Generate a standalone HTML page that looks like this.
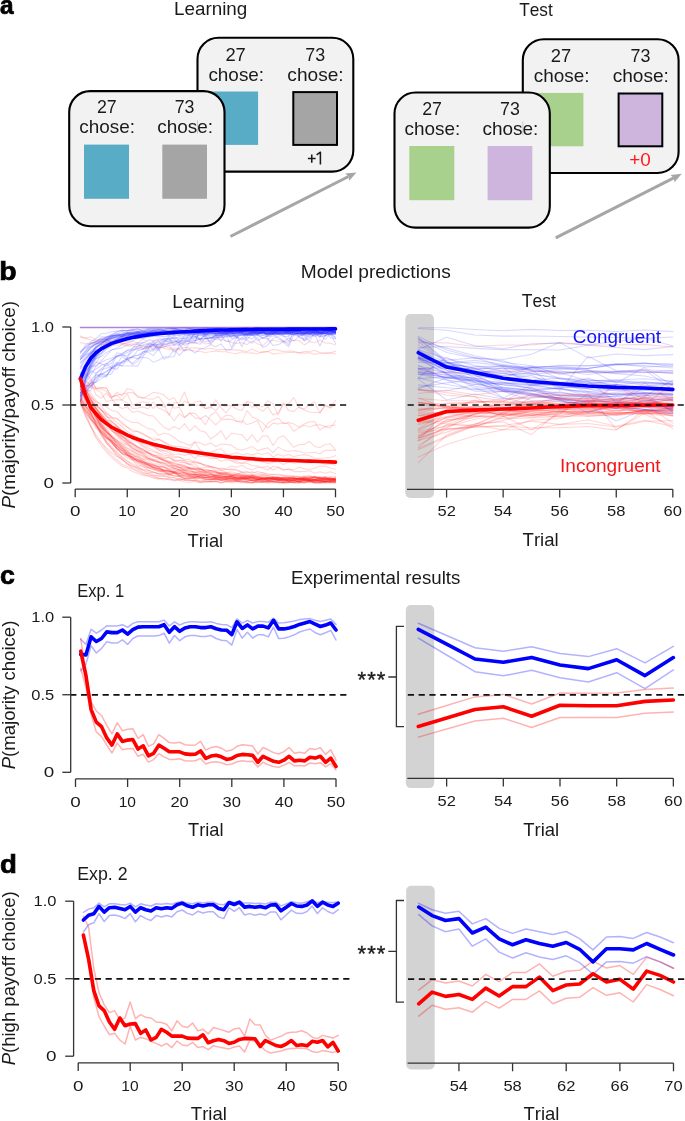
<!DOCTYPE html>
<html><head><meta charset="utf-8"><style>
html,body{margin:0;padding:0;background:#fff;}
body{width:685px;height:1121px;overflow:hidden;}
svg{display:block;font-family:"Liberation Sans",sans-serif;font-kerning:none;will-change:transform;}
text{font-kerning:none;}
</style></head><body>
<svg width="685" height="1121" viewBox="0 0 685 1121">
<text x="0.09" y="14.10" font-size="25.2" font-weight="bold" fill="#000" textLength="13.56" lengthAdjust="spacingAndGlyphs" stroke="#000" stroke-width="0.7">a</text>
<text x="174.06" y="15.30" font-size="18.5" font-weight="normal" fill="#1a1a1a" textLength="73.26" lengthAdjust="spacingAndGlyphs">Learning</text>
<text x="519.21" y="15.50" font-size="18.5" font-weight="normal" fill="#1a1a1a" textLength="33.51" lengthAdjust="spacingAndGlyphs">Test</text>
<rect x="197.5" y="37.8" width="155.8" height="133.8" rx="21" ry="21" fill="#f2f2f2" stroke="#000" stroke-width="2.1"/>
<text x="225.38" y="60.80" font-size="18.5" font-weight="normal" fill="#1a1a1a" textLength="20.45" lengthAdjust="spacingAndGlyphs">27</text>
<text x="305.28" y="60.80" font-size="18.5" font-weight="normal" fill="#1a1a1a" textLength="19.90" lengthAdjust="spacingAndGlyphs">73</text>
<text x="208.40" y="80.50" font-size="18.5" font-weight="normal" fill="#1a1a1a" textLength="55.73" lengthAdjust="spacingAndGlyphs">chose:</text>
<text x="287.39" y="80.50" font-size="18.5" font-weight="normal" fill="#1a1a1a" textLength="56.25" lengthAdjust="spacingAndGlyphs">chose:</text>
<rect x="212.5" y="91.5" width="45.60000000000002" height="53.400000000000006" fill="#58acc5"/>
<rect x="293.3" y="92.1" width="43.69999999999999" height="52.80000000000001" fill="#a5a5a5" stroke="#000" stroke-width="2"/>
<path d="M307.9,158.5 H315.6 M311.75,154.4 V162.7 M316.6,154.8 L320.4,152.2 V164.6" fill="none" stroke="#1a1a1a" stroke-width="1.55" stroke-linejoin="round"/>
<rect x="69.2" y="91.1" width="155.3" height="135.1" rx="21" ry="21" fill="#f2f2f2" stroke="#000" stroke-width="2.1"/>
<text x="96.91" y="113.20" font-size="18.5" font-weight="normal" fill="#1a1a1a" textLength="19.79" lengthAdjust="spacingAndGlyphs">27</text>
<text x="174.69" y="113.20" font-size="18.5" font-weight="normal" fill="#1a1a1a" textLength="19.79" lengthAdjust="spacingAndGlyphs">73</text>
<text x="79.30" y="133.40" font-size="18.5" font-weight="normal" fill="#1a1a1a" textLength="55.73" lengthAdjust="spacingAndGlyphs">chose:</text>
<text x="157.19" y="133.40" font-size="18.5" font-weight="normal" fill="#1a1a1a" textLength="55.84" lengthAdjust="spacingAndGlyphs">chose:</text>
<rect x="84" y="144.6" width="45" height="54.20000000000002" fill="#58acc5"/>
<rect x="162.3" y="144.6" width="44.69999999999999" height="54.20000000000002" fill="#a5a5a5"/>
<line x1="197.5" y1="120.3" x2="197.5" y2="133.8" stroke="#c4c4c4" stroke-width="0.9"/>
<line x1="230.4" y1="236.5" x2="348.50" y2="176.50" stroke="#a6a6a6" stroke-width="3"/>
<path d="M356.5,172.4 L345.2,173.5 L348.6,176.6 L349.2,180.8 Z" fill="#a6a6a6"/>
<rect x="522.8" y="39.199999999999996" width="155.8" height="133.8" rx="21" ry="21" fill="#f2f2f2" stroke="#000" stroke-width="2.1"/>
<text x="550.68" y="62.20" font-size="18.5" font-weight="normal" fill="#1a1a1a" textLength="20.45" lengthAdjust="spacingAndGlyphs">27</text>
<text x="630.58" y="62.20" font-size="18.5" font-weight="normal" fill="#1a1a1a" textLength="19.90" lengthAdjust="spacingAndGlyphs">73</text>
<text x="533.70" y="81.90" font-size="18.5" font-weight="normal" fill="#1a1a1a" textLength="55.73" lengthAdjust="spacingAndGlyphs">chose:</text>
<text x="612.69" y="81.90" font-size="18.5" font-weight="normal" fill="#1a1a1a" textLength="56.25" lengthAdjust="spacingAndGlyphs">chose:</text>
<rect x="537.8" y="92.9" width="45.60000000000002" height="53.400000000000006" fill="#a9d18e"/>
<rect x="618.6" y="93.5" width="43.69999999999999" height="52.80000000000001" fill="#cdb5dd" stroke="#000" stroke-width="2"/>
<text x="629.28" y="166.10" font-size="18.6" font-weight="normal" fill="#ff1a1a" textLength="21.56" lengthAdjust="spacingAndGlyphs">+0</text>
<rect x="394.5" y="92.5" width="155.3" height="135.1" rx="21" ry="21" fill="#f2f2f2" stroke="#000" stroke-width="2.1"/>
<text x="422.21" y="114.60" font-size="18.5" font-weight="normal" fill="#1a1a1a" textLength="19.79" lengthAdjust="spacingAndGlyphs">27</text>
<text x="499.99" y="114.60" font-size="18.5" font-weight="normal" fill="#1a1a1a" textLength="19.79" lengthAdjust="spacingAndGlyphs">73</text>
<text x="404.60" y="134.80" font-size="18.5" font-weight="normal" fill="#1a1a1a" textLength="55.73" lengthAdjust="spacingAndGlyphs">chose:</text>
<text x="482.49" y="134.80" font-size="18.5" font-weight="normal" fill="#1a1a1a" textLength="55.84" lengthAdjust="spacingAndGlyphs">chose:</text>
<rect x="409.3" y="146.0" width="45" height="54.20000000000002" fill="#a9d18e"/>
<rect x="487.6" y="146.0" width="44.69999999999999" height="54.20000000000002" fill="#cdb5dd"/>
<line x1="522.8" y1="121.7" x2="522.8" y2="135.20000000000002" stroke="#c4c4c4" stroke-width="0.9"/>
<line x1="555.7" y1="237.9" x2="673.80" y2="177.90" stroke="#a6a6a6" stroke-width="3"/>
<path d="M681.8,173.8 L670.5,174.9 L673.9000000000001,178.0 L674.5,182.20000000000002 Z" fill="#a6a6a6"/>
<text x="-0.67" y="279.80" font-size="25.5" font-weight="bold" fill="#000" textLength="17.33" lengthAdjust="spacingAndGlyphs" stroke="#000" stroke-width="0.7">b</text>
<text x="300.83" y="278.40" font-size="18.5" font-weight="normal" fill="#1a1a1a" textLength="149.96" lengthAdjust="spacingAndGlyphs">Model predictions</text>
<text x="172.38" y="307.90" font-size="18.5" font-weight="normal" fill="#1a1a1a" textLength="72.32" lengthAdjust="spacingAndGlyphs">Learning</text>
<text x="521.81" y="307.00" font-size="18.5" font-weight="normal" fill="#1a1a1a" textLength="34.12" lengthAdjust="spacingAndGlyphs">Test</text>
<rect x="405.3" y="314.0" width="28.69999999999999" height="184.0" rx="5" fill="#d3d3d3"/>
<path d="M80.41,356.34 L85.61,350.82 L90.82,343.11 L96.02,342.34 L101.23,338.63 L106.44,337.08 L111.64,336.11 L116.85,335.33 L122.05,334.09 L127.26,335.68 L132.47,335.21 L137.67,335.14 L142.88,334.35 L148.08,334.30 L153.29,333.47 L158.50,333.51 L163.70,333.66 L168.91,334.19 L174.11,333.99 L179.32,332.89 L184.53,333.03 L189.73,333.54 L194.94,333.87 L200.14,332.40 L205.35,334.08 L210.56,333.11 L215.76,332.71 L220.97,333.82 L226.17,332.97 L231.38,334.48 L236.59,332.82 L241.79,333.45 L247.00,334.85 L252.20,333.09 L257.41,334.30 L262.62,332.61 L267.82,334.14 L273.03,333.74 L278.23,333.39 L283.44,333.87 L288.65,333.41 L293.85,334.04 L299.06,333.08 L304.26,333.60 L309.47,333.44 L314.68,335.76 L319.88,332.70 L325.09,333.58 L330.29,335.00 L335.50,333.53" fill="none" stroke="rgba(30,30,255,0.17)" stroke-width="1.1" stroke-linejoin="round" stroke-linecap="round"/>
<path d="M80.41,394.93 L85.61,383.50 L90.82,375.13 L96.02,366.41 L101.23,360.95 L106.44,355.28 L111.64,350.09 L116.85,348.10 L122.05,344.80 L127.26,342.60 L132.47,340.64 L137.67,338.47 L142.88,338.56 L148.08,336.02 L153.29,336.41 L158.50,335.06 L163.70,333.32 L168.91,334.71 L174.11,331.98 L179.32,331.23 L184.53,331.49 L189.73,331.57 L194.94,331.81 L200.14,331.86 L205.35,329.91 L210.56,332.23 L215.76,331.38 L220.97,330.88 L226.17,331.62 L231.38,332.12 L236.59,330.91 L241.79,331.07 L247.00,332.38 L252.20,331.49 L257.41,331.60 L262.62,331.22 L267.82,330.60 L273.03,330.35 L278.23,331.94 L283.44,330.99 L288.65,331.44 L293.85,332.21 L299.06,330.45 L304.26,331.31 L309.47,331.14 L314.68,332.52 L319.88,330.56 L325.09,330.90 L330.29,330.43 L335.50,331.33" fill="none" stroke="rgba(30,30,255,0.17)" stroke-width="1.1" stroke-linejoin="round" stroke-linecap="round"/>
<path d="M80.41,380.04 L85.61,388.28 L90.82,382.45 L96.02,394.82 L101.23,398.20 L106.44,393.17 L111.64,398.83 L116.85,405.42 L122.05,408.58 L127.26,406.90 L132.47,412.49 L137.67,411.07 L142.88,413.12 L148.08,415.35 L153.29,415.97 L158.50,421.88 L163.70,426.91 L168.91,429.74 L174.11,426.45 L179.32,429.28 L184.53,423.59 L189.73,431.05 L194.94,425.69 L200.14,430.78 L205.35,432.12 L210.56,439.02 L215.76,435.48 L220.97,430.78 L226.17,439.39 L231.38,433.27 L236.59,434.07 L241.79,434.45 L247.00,440.90 L252.20,434.71 L257.41,442.24 L262.62,435.81 L267.82,436.17 L273.03,445.54 L278.23,437.80 L283.44,435.65 L288.65,441.34 L293.85,447.28 L299.06,444.61 L304.26,444.57 L309.47,441.31 L314.68,446.43 L319.88,447.54 L325.09,444.45 L330.29,443.68 L335.50,450.15" fill="none" stroke="rgba(255,20,20,0.17)" stroke-width="1.1" stroke-linejoin="round" stroke-linecap="round"/>
<path d="M80.41,369.18 L85.61,364.92 L90.82,361.34 L96.02,358.55 L101.23,356.59 L106.44,352.42 L111.64,349.78 L116.85,349.05 L122.05,347.85 L127.26,344.98 L132.47,345.06 L137.67,342.89 L142.88,343.12 L148.08,339.89 L153.29,340.91 L158.50,338.98 L163.70,338.97 L168.91,338.22 L174.11,338.21 L179.32,336.84 L184.53,337.17 L189.73,335.18 L194.94,336.22 L200.14,335.27 L205.35,334.36 L210.56,334.08 L215.76,333.73 L220.97,333.40 L226.17,333.72 L231.38,333.31 L236.59,333.00 L241.79,334.55 L247.00,333.45 L252.20,333.30 L257.41,333.33 L262.62,332.70 L267.82,333.84 L273.03,334.10 L278.23,333.41 L283.44,332.51 L288.65,333.51 L293.85,334.56 L299.06,331.82 L304.26,331.76 L309.47,332.21 L314.68,332.82 L319.88,332.81 L325.09,333.56 L330.29,333.38 L335.50,331.97" fill="none" stroke="rgba(30,30,255,0.17)" stroke-width="1.1" stroke-linejoin="round" stroke-linecap="round"/>
<path d="M80.41,378.44 L85.61,396.74 L90.82,412.78 L96.02,424.22 L101.23,435.43 L106.44,442.97 L111.64,449.28 L116.85,455.88 L122.05,459.59 L127.26,463.35 L132.47,468.50 L137.67,470.57 L142.88,473.39 L148.08,473.91 L153.29,477.34 L158.50,477.83 L163.70,479.93 L168.91,478.27 L174.11,480.22 L179.32,478.76 L184.53,479.66 L189.73,480.30 L194.94,481.78 L200.14,482.77 L205.35,482.50 L210.56,481.65 L215.76,481.90 L220.97,482.10 L226.17,482.01 L231.38,480.78 L236.59,481.07 L241.79,483.00 L247.00,481.63 L252.20,483.00 L257.41,482.10 L262.62,482.15 L267.82,481.51 L273.03,481.65 L278.23,483.00 L283.44,482.51 L288.65,482.03 L293.85,482.61 L299.06,480.99 L304.26,483.00 L309.47,481.95 L314.68,482.28 L319.88,482.89 L325.09,482.56 L330.29,482.70 L335.50,482.19" fill="none" stroke="rgba(255,20,20,0.17)" stroke-width="1.1" stroke-linejoin="round" stroke-linecap="round"/>
<path d="M80.41,395.21 L85.61,403.41 L90.82,405.37 L96.02,412.52 L101.23,417.74 L106.44,420.17 L111.64,426.14 L116.85,426.60 L122.05,431.76 L127.26,435.12 L132.47,437.40 L137.67,441.14 L142.88,443.57 L148.08,445.95 L153.29,446.59 L158.50,449.98 L163.70,453.16 L168.91,454.46 L174.11,458.05 L179.32,456.83 L184.53,460.73 L189.73,461.54 L194.94,462.55 L200.14,463.36 L205.35,465.63 L210.56,466.63 L215.76,467.68 L220.97,470.36 L226.17,469.46 L231.38,469.12 L236.59,469.53 L241.79,471.92 L247.00,472.86 L252.20,471.67 L257.41,473.51 L262.62,472.47 L267.82,474.96 L273.03,474.30 L278.23,475.23 L283.44,475.39 L288.65,475.21 L293.85,476.20 L299.06,476.76 L304.26,477.09 L309.47,475.81 L314.68,476.99 L319.88,477.87 L325.09,479.39 L330.29,477.76 L335.50,479.07" fill="none" stroke="rgba(255,20,20,0.17)" stroke-width="1.1" stroke-linejoin="round" stroke-linecap="round"/>
<path d="M80.41,389.42 L85.61,396.79 L90.82,404.40 L96.02,412.10 L101.23,415.25 L106.44,424.13 L111.64,427.14 L116.85,432.39 L122.05,435.20 L127.26,440.54 L132.47,443.66 L137.67,446.38 L142.88,449.51 L148.08,453.16 L153.29,454.54 L158.50,457.11 L163.70,458.65 L168.91,461.99 L174.11,463.32 L179.32,465.26 L184.53,467.16 L189.73,467.50 L194.94,468.61 L200.14,468.80 L205.35,471.48 L210.56,471.78 L215.76,471.95 L220.97,473.93 L226.17,474.50 L231.38,475.11 L236.59,476.50 L241.79,477.35 L247.00,475.91 L252.20,477.27 L257.41,477.93 L262.62,479.43 L267.82,478.52 L273.03,477.88 L278.23,480.35 L283.44,480.39 L288.65,478.79 L293.85,478.72 L299.06,478.83 L304.26,480.99 L309.47,480.10 L314.68,481.53 L319.88,480.49 L325.09,481.46 L330.29,481.07 L335.50,480.12" fill="none" stroke="rgba(255,20,20,0.17)" stroke-width="1.1" stroke-linejoin="round" stroke-linecap="round"/>
<path d="M80.41,378.48 L85.61,373.72 L90.82,378.94 L96.02,387.98 L101.23,387.88 L106.44,388.31 L111.64,396.58 L116.85,395.22 L122.05,400.21 L127.26,393.85 L132.47,405.21 L137.67,403.32 L142.88,401.72 L148.08,402.77 L153.29,408.37 L158.50,404.18 L163.70,407.33 L168.91,402.98 L174.11,408.18 L179.32,407.29 L184.53,417.36 L189.73,413.14 L194.94,413.42 L200.14,418.37 L205.35,424.72 L210.56,415.23 L215.76,411.89 L220.97,418.92 L226.17,415.27 L231.38,415.81 L236.59,421.09 L241.79,422.93 L247.00,410.66 L252.20,416.74 L257.41,419.18 L262.62,422.88 L267.82,428.16 L273.03,423.11 L278.23,424.03 L283.44,422.66 L288.65,424.05 L293.85,431.33 L299.06,427.88 L304.26,425.28 L309.47,426.99 L314.68,425.13 L319.88,424.81 L325.09,426.47 L330.29,428.29 L335.50,420.78" fill="none" stroke="rgba(255,20,20,0.17)" stroke-width="1.1" stroke-linejoin="round" stroke-linecap="round"/>
<path d="M80.41,374.76 L85.61,363.08 L90.82,353.75 L96.02,348.61 L101.23,344.38 L106.44,339.22 L111.64,335.65 L116.85,334.94 L122.05,334.29 L127.26,333.37 L132.47,331.58 L137.67,331.21 L142.88,332.54 L148.08,332.62 L153.29,330.29 L158.50,331.87 L163.70,331.00 L168.91,330.53 L174.11,332.01 L179.32,331.78 L184.53,332.44 L189.73,330.47 L194.94,331.44 L200.14,330.68 L205.35,332.33 L210.56,330.79 L215.76,331.96 L220.97,331.47 L226.17,332.30 L231.38,331.49 L236.59,330.80 L241.79,331.53 L247.00,331.52 L252.20,330.93 L257.41,331.53 L262.62,330.93 L267.82,331.24 L273.03,330.65 L278.23,331.61 L283.44,331.18 L288.65,331.15 L293.85,330.14 L299.06,330.99 L304.26,332.10 L309.47,332.20 L314.68,331.32 L319.88,331.59 L325.09,331.92 L330.29,331.70 L335.50,330.70" fill="none" stroke="rgba(30,30,255,0.17)" stroke-width="1.1" stroke-linejoin="round" stroke-linecap="round"/>
<path d="M80.41,387.32 L85.61,372.87 L90.82,363.13 L96.02,356.10 L101.23,350.00 L106.44,346.13 L111.64,342.71 L116.85,340.56 L122.05,338.36 L127.26,336.44 L132.47,335.67 L137.67,335.17 L142.88,335.14 L148.08,334.17 L153.29,332.96 L158.50,332.83 L163.70,333.95 L168.91,335.18 L174.11,332.09 L179.32,331.83 L184.53,332.80 L189.73,333.31 L194.94,332.75 L200.14,332.66 L205.35,332.68 L210.56,332.92 L215.76,333.56 L220.97,334.07 L226.17,333.64 L231.38,333.77 L236.59,332.38 L241.79,332.83 L247.00,332.98 L252.20,332.76 L257.41,331.95 L262.62,333.69 L267.82,332.78 L273.03,333.82 L278.23,333.52 L283.44,333.51 L288.65,331.76 L293.85,333.26 L299.06,333.63 L304.26,333.93 L309.47,333.51 L314.68,332.19 L319.88,333.97 L325.09,333.59 L330.29,330.96 L335.50,332.48" fill="none" stroke="rgba(30,30,255,0.17)" stroke-width="1.1" stroke-linejoin="round" stroke-linecap="round"/>
<path d="M80.41,400.30 L85.61,409.14 L90.82,419.08 L96.02,423.51 L101.23,431.88 L106.44,438.08 L111.64,440.76 L116.85,446.08 L122.05,448.89 L127.26,453.59 L132.47,454.35 L137.67,458.38 L142.88,461.31 L148.08,463.48 L153.29,465.67 L158.50,466.41 L163.70,466.80 L168.91,470.36 L174.11,472.14 L179.32,471.62 L184.53,472.10 L189.73,475.29 L194.94,475.27 L200.14,476.19 L205.35,475.31 L210.56,475.87 L215.76,477.46 L220.97,478.22 L226.17,476.90 L231.38,479.74 L236.59,477.52 L241.79,478.50 L247.00,476.80 L252.20,477.85 L257.41,479.47 L262.62,479.34 L267.82,479.47 L273.03,480.01 L278.23,479.37 L283.44,478.64 L288.65,481.01 L293.85,479.90 L299.06,478.38 L304.26,479.13 L309.47,480.61 L314.68,480.65 L319.88,480.74 L325.09,481.46 L330.29,478.95 L335.50,479.98" fill="none" stroke="rgba(255,20,20,0.17)" stroke-width="1.1" stroke-linejoin="round" stroke-linecap="round"/>
<path d="M80.41,386.28 L85.61,390.55 L90.82,396.97 L96.02,401.51 L101.23,403.64 L106.44,406.85 L111.64,410.56 L116.85,411.49 L122.05,416.74 L127.26,420.36 L132.47,422.44 L137.67,422.58 L142.88,425.81 L148.08,428.61 L153.29,429.29 L158.50,435.47 L163.70,433.22 L168.91,434.30 L174.11,437.56 L179.32,441.38 L184.53,443.29 L189.73,445.50 L194.94,442.01 L200.14,442.91 L205.35,445.18 L210.56,442.90 L215.76,446.44 L220.97,443.96 L226.17,444.35 L231.38,445.31 L236.59,448.97 L241.79,450.02 L247.00,448.43 L252.20,446.60 L257.41,450.44 L262.62,449.12 L267.82,447.85 L273.03,452.62 L278.23,447.12 L283.44,450.11 L288.65,451.48 L293.85,450.58 L299.06,451.23 L304.26,452.93 L309.47,452.79 L314.68,452.21 L319.88,453.75 L325.09,450.31 L330.29,450.37 L335.50,450.31" fill="none" stroke="rgba(255,20,20,0.17)" stroke-width="1.1" stroke-linejoin="round" stroke-linecap="round"/>
<path d="M80.41,335.90 L85.61,338.15 L90.82,336.89 L96.02,339.71 L101.23,339.29 L106.44,339.93 L111.64,342.21 L116.85,343.17 L122.05,343.06 L127.26,344.61 L132.47,343.70 L137.67,344.81 L142.88,346.04 L148.08,346.46 L153.29,345.80 L158.50,347.90 L163.70,345.84 L168.91,348.11 L174.11,347.98 L179.32,348.85 L184.53,347.15 L189.73,348.03 L194.94,347.90 L200.14,348.63 L205.35,349.28 L210.56,348.22 L215.76,349.20 L220.97,349.54 L226.17,349.59 L231.38,349.61 L236.59,350.10 L241.79,350.57 L247.00,351.79 L252.20,349.06 L257.41,351.77 L262.62,352.52 L267.82,351.49 L273.03,349.51 L278.23,350.14 L283.44,351.62 L288.65,351.01 L293.85,351.29 L299.06,352.87 L304.26,351.64 L309.47,351.20 L314.68,350.56 L319.88,352.44 L325.09,353.30 L330.29,352.80 L335.50,351.35" fill="none" stroke="rgba(255,20,20,0.17)" stroke-width="1.1" stroke-linejoin="round" stroke-linecap="round"/>
<path d="M80.41,342.60 L85.61,343.58 L90.82,344.37 L96.02,342.82 L101.23,344.18 L106.44,338.83 L111.64,343.57 L116.85,340.66 L122.05,343.53 L127.26,343.21 L132.47,341.21 L137.67,343.00 L142.88,339.25 L148.08,341.88 L153.29,345.25 L158.50,340.53 L163.70,346.91 L168.91,343.12 L174.11,343.86 L179.32,342.54 L184.53,343.82 L189.73,343.30 L194.94,343.19 L200.14,341.47 L205.35,344.01 L210.56,343.15 L215.76,339.11 L220.97,339.48 L226.17,340.81 L231.38,342.56 L236.59,343.49 L241.79,342.46 L247.00,344.63 L252.20,340.87 L257.41,343.74 L262.62,345.86 L267.82,341.00 L273.03,340.29 L278.23,341.19 L283.44,341.60 L288.65,341.84 L293.85,340.21 L299.06,340.53 L304.26,344.95 L309.47,341.70 L314.68,342.70 L319.88,340.08 L325.09,343.02 L330.29,343.17 L335.50,345.09" fill="none" stroke="rgba(255,20,20,0.17)" stroke-width="1.1" stroke-linejoin="round" stroke-linecap="round"/>
<path d="M80.41,389.40 L85.61,397.79 L90.82,401.89 L96.02,405.01 L101.23,410.12 L106.44,417.07 L111.64,417.97 L116.85,418.30 L122.05,422.33 L127.26,427.12 L132.47,431.85 L137.67,431.21 L142.88,433.52 L148.08,436.94 L153.29,439.06 L158.50,439.02 L163.70,441.64 L168.91,444.15 L174.11,446.41 L179.32,446.55 L184.53,447.30 L189.73,448.55 L194.94,441.98 L200.14,449.95 L205.35,452.81 L210.56,452.38 L215.76,450.35 L220.97,448.65 L226.17,454.35 L231.38,454.19 L236.59,452.67 L241.79,454.76 L247.00,453.43 L252.20,454.86 L257.41,453.07 L262.62,454.48 L267.82,452.53 L273.03,457.01 L278.23,454.29 L283.44,456.21 L288.65,454.39 L293.85,456.79 L299.06,455.20 L304.26,454.62 L309.47,455.80 L314.68,458.20 L319.88,458.19 L325.09,458.01 L330.29,457.59 L335.50,455.69" fill="none" stroke="rgba(255,20,20,0.17)" stroke-width="1.1" stroke-linejoin="round" stroke-linecap="round"/>
<path d="M80.41,379.68 L85.61,387.23 L90.82,395.80 L96.02,402.81 L101.23,409.31 L106.44,415.82 L111.64,422.58 L116.85,425.54 L122.05,431.43 L127.26,435.41 L132.47,439.39 L137.67,442.20 L142.88,446.36 L148.08,450.27 L153.29,451.77 L158.50,453.44 L163.70,457.16 L168.91,457.64 L174.11,460.97 L179.32,462.33 L184.53,462.62 L189.73,464.77 L194.94,463.73 L200.14,469.17 L205.35,469.51 L210.56,469.96 L215.76,471.94 L220.97,473.36 L226.17,473.00 L231.38,474.33 L236.59,475.10 L241.79,475.95 L247.00,475.75 L252.20,476.67 L257.41,477.19 L262.62,478.19 L267.82,478.49 L273.03,479.57 L278.23,478.42 L283.44,479.20 L288.65,479.87 L293.85,479.62 L299.06,479.42 L304.26,479.60 L309.47,480.45 L314.68,479.77 L319.88,479.82 L325.09,482.55 L330.29,481.95 L335.50,480.49" fill="none" stroke="rgba(255,20,20,0.17)" stroke-width="1.1" stroke-linejoin="round" stroke-linecap="round"/>
<path d="M80.41,403.52 L85.61,379.08 L90.82,363.10 L96.02,354.02 L101.23,345.88 L106.44,340.18 L111.64,336.94 L116.85,334.21 L122.05,335.19 L127.26,333.12 L132.47,332.42 L137.67,331.20 L142.88,330.52 L148.08,333.26 L153.29,330.17 L158.50,332.05 L163.70,330.33 L168.91,331.98 L174.11,330.65 L179.32,329.83 L184.53,330.87 L189.73,330.59 L194.94,330.12 L200.14,330.62 L205.35,330.80 L210.56,329.53 L215.76,329.91 L220.97,330.96 L226.17,328.58 L231.38,331.62 L236.59,330.01 L241.79,330.93 L247.00,330.62 L252.20,330.17 L257.41,330.55 L262.62,330.23 L267.82,331.92 L273.03,331.90 L278.23,330.24 L283.44,331.48 L288.65,331.53 L293.85,331.87 L299.06,329.74 L304.26,330.14 L309.47,329.58 L314.68,331.46 L319.88,330.72 L325.09,331.61 L330.29,330.13 L335.50,329.48" fill="none" stroke="rgba(30,30,255,0.17)" stroke-width="1.1" stroke-linejoin="round" stroke-linecap="round"/>
<path d="M80.41,399.55 L85.61,409.87 L90.82,417.61 L96.02,425.54 L101.23,432.55 L106.44,437.87 L111.64,441.65 L116.85,448.08 L122.05,453.64 L127.26,454.72 L132.47,460.00 L137.67,459.06 L142.88,463.44 L148.08,464.83 L153.29,466.90 L158.50,468.11 L163.70,469.39 L168.91,469.78 L174.11,472.96 L179.32,473.27 L184.53,474.13 L189.73,474.67 L194.94,474.52 L200.14,477.47 L205.35,478.14 L210.56,476.54 L215.76,476.56 L220.97,476.76 L226.17,476.66 L231.38,476.34 L236.59,478.93 L241.79,478.54 L247.00,478.18 L252.20,478.03 L257.41,478.25 L262.62,478.52 L267.82,479.85 L273.03,476.84 L278.23,479.10 L283.44,478.75 L288.65,480.13 L293.85,478.95 L299.06,479.65 L304.26,478.32 L309.47,478.53 L314.68,479.96 L319.88,479.38 L325.09,479.38 L330.29,479.20 L335.50,478.18" fill="none" stroke="rgba(255,20,20,0.17)" stroke-width="1.1" stroke-linejoin="round" stroke-linecap="round"/>
<path d="M80.41,392.22 L85.61,384.98 L90.82,386.21 L96.02,380.81 L101.23,372.13 L106.44,363.00 L111.64,368.58 L116.85,362.20 L122.05,362.92 L127.26,360.94 L132.47,357.01 L137.67,350.63 L142.88,349.30 L148.08,343.96 L153.29,349.74 L158.50,343.20 L163.70,340.20 L168.91,341.87 L174.11,340.05 L179.32,342.91 L184.53,345.23 L189.73,342.71 L194.94,342.40 L200.14,328.56 L205.35,336.54 L210.56,330.39 L215.76,333.85 L220.97,334.16 L226.17,332.30 L231.38,337.43 L236.59,332.13 L241.79,332.44 L247.00,339.73 L252.20,333.49 L257.41,331.65 L262.62,331.35 L267.82,328.56 L273.03,333.01 L278.23,331.18 L283.44,329.61 L288.65,335.49 L293.85,328.98 L299.06,337.29 L304.26,339.14 L309.47,332.52 L314.68,336.77 L319.88,334.20 L325.09,339.35 L330.29,334.17 L335.50,337.27" fill="none" stroke="rgba(30,30,255,0.17)" stroke-width="1.1" stroke-linejoin="round" stroke-linecap="round"/>
<path d="M80.41,358.94 L85.61,354.63 L90.82,353.00 L96.02,349.89 L101.23,348.90 L106.44,346.64 L111.64,345.16 L116.85,343.03 L122.05,340.96 L127.26,341.29 L132.47,338.51 L137.67,338.06 L142.88,337.88 L148.08,337.38 L153.29,335.87 L158.50,336.88 L163.70,336.38 L168.91,336.73 L174.11,335.18 L179.32,334.20 L184.53,334.57 L189.73,334.42 L194.94,334.70 L200.14,334.23 L205.35,335.31 L210.56,333.24 L215.76,334.26 L220.97,334.69 L226.17,334.32 L231.38,334.30 L236.59,332.91 L241.79,332.69 L247.00,334.52 L252.20,332.69 L257.41,332.67 L262.62,333.78 L267.82,334.46 L273.03,333.85 L278.23,333.74 L283.44,332.95 L288.65,333.48 L293.85,334.76 L299.06,332.98 L304.26,334.35 L309.47,332.43 L314.68,334.07 L319.88,333.66 L325.09,333.78 L330.29,333.53 L335.50,332.09" fill="none" stroke="rgba(30,30,255,0.17)" stroke-width="1.1" stroke-linejoin="round" stroke-linecap="round"/>
<path d="M80.41,393.89 L85.61,378.66 L90.82,367.63 L96.02,359.05 L101.23,353.18 L106.44,346.54 L111.64,343.28 L116.85,340.17 L122.05,336.84 L127.26,334.54 L132.47,334.64 L137.67,332.62 L142.88,332.77 L148.08,329.60 L153.29,331.26 L158.50,329.53 L163.70,330.65 L168.91,329.27 L174.11,327.98 L179.32,331.55 L184.53,329.79 L189.73,328.97 L194.94,329.37 L200.14,329.76 L205.35,327.78 L210.56,329.10 L215.76,330.42 L220.97,328.46 L226.17,330.45 L231.38,328.20 L236.59,329.54 L241.79,328.97 L247.00,328.09 L252.20,328.98 L257.41,330.15 L262.62,330.39 L267.82,328.14 L273.03,328.49 L278.23,329.70 L283.44,328.39 L288.65,328.67 L293.85,328.55 L299.06,330.82 L304.26,329.29 L309.47,328.36 L314.68,328.49 L319.88,328.37 L325.09,330.97 L330.29,328.93 L335.50,328.67" fill="none" stroke="rgba(30,30,255,0.17)" stroke-width="1.1" stroke-linejoin="round" stroke-linecap="round"/>
<path d="M80.41,401.61 L85.61,378.59 L90.82,363.43 L96.02,354.89 L101.23,348.01 L106.44,342.04 L111.64,338.37 L116.85,336.81 L122.05,334.57 L127.26,336.19 L132.47,333.05 L137.67,332.32 L142.88,334.22 L148.08,332.53 L153.29,332.56 L158.50,332.91 L163.70,334.03 L168.91,333.40 L174.11,332.18 L179.32,331.55 L184.53,332.32 L189.73,331.00 L194.94,332.95 L200.14,331.01 L205.35,333.94 L210.56,332.29 L215.76,331.92 L220.97,331.75 L226.17,331.51 L231.38,333.06 L236.59,333.98 L241.79,332.49 L247.00,333.40 L252.20,332.21 L257.41,333.15 L262.62,332.50 L267.82,332.36 L273.03,332.17 L278.23,332.84 L283.44,331.30 L288.65,332.83 L293.85,332.42 L299.06,331.90 L304.26,332.30 L309.47,331.18 L314.68,332.41 L319.88,332.65 L325.09,331.43 L330.29,331.88 L335.50,332.96" fill="none" stroke="rgba(30,30,255,0.17)" stroke-width="1.1" stroke-linejoin="round" stroke-linecap="round"/>
<path d="M80.41,357.34 L85.61,350.82 L90.82,346.55 L96.02,341.53 L101.23,339.86 L106.44,338.75 L111.64,335.14 L116.85,334.95 L122.05,331.38 L127.26,333.66 L132.47,332.78 L137.67,331.92 L142.88,332.50 L148.08,330.83 L153.29,330.05 L158.50,329.68 L163.70,330.51 L168.91,330.87 L174.11,329.67 L179.32,329.70 L184.53,330.79 L189.73,331.01 L194.94,331.21 L200.14,330.41 L205.35,330.60 L210.56,329.95 L215.76,329.71 L220.97,331.43 L226.17,330.19 L231.38,330.24 L236.59,330.82 L241.79,330.40 L247.00,329.44 L252.20,330.50 L257.41,330.55 L262.62,330.78 L267.82,330.27 L273.03,330.90 L278.23,330.12 L283.44,331.46 L288.65,331.08 L293.85,330.25 L299.06,329.51 L304.26,330.97 L309.47,330.49 L314.68,330.02 L319.88,330.78 L325.09,330.35 L330.29,330.27 L335.50,331.58" fill="none" stroke="rgba(30,30,255,0.17)" stroke-width="1.1" stroke-linejoin="round" stroke-linecap="round"/>
<path d="M80.41,404.18 L85.61,410.93 L90.82,415.50 L96.02,422.12 L101.23,427.51 L106.44,432.12 L111.64,435.27 L116.85,440.36 L122.05,443.72 L127.26,444.16 L132.47,447.66 L137.67,450.53 L142.88,452.65 L148.08,455.54 L153.29,459.61 L158.50,458.84 L163.70,460.48 L168.91,462.68 L174.11,466.30 L179.32,464.68 L184.53,465.74 L189.73,468.49 L194.94,468.90 L200.14,469.21 L205.35,470.80 L210.56,470.47 L215.76,472.08 L220.97,472.14 L226.17,473.26 L231.38,475.20 L236.59,475.24 L241.79,471.90 L247.00,474.91 L252.20,474.34 L257.41,474.82 L262.62,474.60 L267.82,475.93 L273.03,477.23 L278.23,476.90 L283.44,478.87 L288.65,477.49 L293.85,476.67 L299.06,479.62 L304.26,477.62 L309.47,477.19 L314.68,476.85 L319.88,479.01 L325.09,478.87 L330.29,480.07 L335.50,479.38" fill="none" stroke="rgba(255,20,20,0.17)" stroke-width="1.1" stroke-linejoin="round" stroke-linecap="round"/>
<path d="M80.41,359.36 L85.61,352.02 L90.82,347.80 L96.02,343.79 L101.23,339.97 L106.44,337.61 L111.64,335.50 L116.85,335.81 L122.05,334.55 L127.26,332.85 L132.47,332.43 L137.67,332.09 L142.88,331.57 L148.08,331.88 L153.29,330.55 L158.50,330.69 L163.70,330.93 L168.91,331.30 L174.11,330.85 L179.32,332.80 L184.53,331.40 L189.73,330.58 L194.94,331.77 L200.14,330.42 L205.35,330.45 L210.56,331.63 L215.76,330.75 L220.97,330.79 L226.17,330.19 L231.38,330.07 L236.59,330.57 L241.79,331.20 L247.00,330.65 L252.20,330.59 L257.41,329.96 L262.62,330.31 L267.82,331.10 L273.03,331.59 L278.23,330.83 L283.44,331.11 L288.65,331.40 L293.85,330.63 L299.06,330.92 L304.26,330.45 L309.47,330.13 L314.68,330.86 L319.88,328.72 L325.09,330.79 L330.29,329.68 L335.50,330.44" fill="none" stroke="rgba(30,30,255,0.17)" stroke-width="1.1" stroke-linejoin="round" stroke-linecap="round"/>
<path d="M80.41,380.87 L85.61,376.28 L90.82,372.58 L96.02,368.93 L101.23,365.46 L106.44,363.60 L111.64,359.72 L116.85,356.94 L122.05,355.36 L127.26,352.51 L132.47,350.17 L137.67,348.94 L142.88,345.60 L148.08,347.80 L153.29,344.60 L158.50,344.65 L163.70,341.36 L168.91,339.05 L174.11,342.16 L179.32,339.28 L184.53,338.21 L189.73,338.16 L194.94,336.87 L200.14,338.47 L205.35,335.54 L210.56,335.43 L215.76,335.27 L220.97,335.35 L226.17,334.04 L231.38,334.58 L236.59,333.73 L241.79,334.03 L247.00,335.14 L252.20,333.18 L257.41,332.79 L262.62,332.18 L267.82,333.28 L273.03,332.46 L278.23,331.81 L283.44,332.05 L288.65,331.08 L293.85,330.39 L299.06,332.55 L304.26,333.25 L309.47,331.00 L314.68,330.40 L319.88,330.81 L325.09,330.83 L330.29,331.89 L335.50,331.92" fill="none" stroke="rgba(30,30,255,0.17)" stroke-width="1.1" stroke-linejoin="round" stroke-linecap="round"/>
<path d="M80.41,388.96 L85.61,399.96 L90.82,409.21 L96.02,417.55 L101.23,425.22 L106.44,428.90 L111.64,435.56 L116.85,441.02 L122.05,445.95 L127.26,450.30 L132.47,451.62 L137.67,455.12 L142.88,459.34 L148.08,459.95 L153.29,463.91 L158.50,464.17 L163.70,467.22 L168.91,468.16 L174.11,468.60 L179.32,469.77 L184.53,470.24 L189.73,472.76 L194.94,471.36 L200.14,472.24 L205.35,474.06 L210.56,474.16 L215.76,475.74 L220.97,475.59 L226.17,477.00 L231.38,476.05 L236.59,476.24 L241.79,475.46 L247.00,476.03 L252.20,476.35 L257.41,477.58 L262.62,477.60 L267.82,477.84 L273.03,477.45 L278.23,479.49 L283.44,477.16 L288.65,479.34 L293.85,478.46 L299.06,478.04 L304.26,478.58 L309.47,476.68 L314.68,478.30 L319.88,476.84 L325.09,477.23 L330.29,478.76 L335.50,477.98" fill="none" stroke="rgba(255,20,20,0.17)" stroke-width="1.1" stroke-linejoin="round" stroke-linecap="round"/>
<path d="M80.41,385.29 L85.61,378.82 L90.82,371.06 L96.02,373.24 L101.23,369.54 L106.44,368.10 L111.64,366.58 L116.85,355.38 L122.05,355.57 L127.26,355.72 L132.47,351.68 L137.67,346.67 L142.88,342.21 L148.08,343.96 L153.29,343.87 L158.50,341.87 L163.70,338.63 L168.91,338.78 L174.11,345.41 L179.32,341.55 L184.53,341.69 L189.73,333.31 L194.94,336.53 L200.14,340.39 L205.35,332.94 L210.56,337.39 L215.76,335.12 L220.97,336.27 L226.17,334.43 L231.38,331.21 L236.59,337.23 L241.79,338.43 L247.00,332.69 L252.20,335.28 L257.41,334.10 L262.62,330.51 L267.82,336.59 L273.03,330.98 L278.23,334.34 L283.44,336.37 L288.65,336.78 L293.85,328.56 L299.06,329.12 L304.26,330.34 L309.47,335.42 L314.68,328.56 L319.88,336.35 L325.09,336.19 L330.29,329.35 L335.50,328.56" fill="none" stroke="rgba(30,30,255,0.17)" stroke-width="1.1" stroke-linejoin="round" stroke-linecap="round"/>
<path d="M80.41,397.84 L85.61,407.32 L90.82,418.08 L96.02,425.02 L101.23,431.05 L106.44,437.53 L111.64,441.88 L116.85,448.82 L122.05,451.10 L127.26,455.59 L132.47,457.98 L137.67,460.43 L142.88,463.91 L148.08,465.26 L153.29,467.88 L158.50,468.12 L163.70,470.48 L168.91,471.33 L174.11,471.71 L179.32,473.40 L184.53,472.55 L189.73,474.85 L194.94,474.10 L200.14,475.13 L205.35,476.79 L210.56,476.44 L215.76,477.35 L220.97,477.22 L226.17,477.40 L231.38,475.74 L236.59,477.97 L241.79,476.34 L247.00,477.52 L252.20,479.24 L257.41,480.27 L262.62,477.66 L267.82,480.17 L273.03,477.79 L278.23,477.58 L283.44,478.22 L288.65,478.81 L293.85,478.90 L299.06,478.47 L304.26,479.02 L309.47,479.26 L314.68,479.13 L319.88,477.76 L325.09,479.40 L330.29,478.52 L335.50,479.92" fill="none" stroke="rgba(255,20,20,0.17)" stroke-width="1.1" stroke-linejoin="round" stroke-linecap="round"/>
<path d="M80.41,383.25 L85.61,399.50 L90.82,411.95 L96.02,423.75 L101.23,432.99 L106.44,441.88 L111.64,447.99 L116.85,453.24 L122.05,457.63 L127.26,461.17 L132.47,465.17 L137.67,468.26 L142.88,470.35 L148.08,471.32 L153.29,474.72 L158.50,475.64 L163.70,475.96 L168.91,476.98 L174.11,477.47 L179.32,480.25 L184.53,478.68 L189.73,479.03 L194.94,478.47 L200.14,481.25 L205.35,480.00 L210.56,479.51 L215.76,479.67 L220.97,479.18 L226.17,479.43 L231.38,481.42 L236.59,479.99 L241.79,480.94 L247.00,481.42 L252.20,479.37 L257.41,481.35 L262.62,481.59 L267.82,481.22 L273.03,481.64 L278.23,479.99 L283.44,480.57 L288.65,479.67 L293.85,480.57 L299.06,481.50 L304.26,480.01 L309.47,481.55 L314.68,481.38 L319.88,481.12 L325.09,480.94 L330.29,479.90 L335.50,481.53" fill="none" stroke="rgba(255,20,20,0.17)" stroke-width="1.1" stroke-linejoin="round" stroke-linecap="round"/>
<path d="M80.41,378.33 L85.61,389.53 L90.82,399.16 L96.02,408.42 L101.23,416.28 L106.44,420.80 L111.64,430.49 L116.85,434.27 L122.05,439.42 L127.26,443.34 L132.47,448.30 L137.67,451.04 L142.88,453.94 L148.08,457.71 L153.29,460.56 L158.50,462.60 L163.70,465.38 L168.91,466.51 L174.11,468.24 L179.32,469.23 L184.53,469.48 L189.73,470.69 L194.94,473.38 L200.14,473.33 L205.35,474.46 L210.56,474.78 L215.76,476.14 L220.97,476.52 L226.17,477.74 L231.38,478.52 L236.59,477.40 L241.79,477.38 L247.00,478.32 L252.20,478.84 L257.41,479.28 L262.62,480.20 L267.82,481.66 L273.03,479.57 L278.23,480.18 L283.44,481.04 L288.65,481.57 L293.85,479.60 L299.06,482.59 L304.26,479.36 L309.47,480.50 L314.68,478.96 L319.88,481.92 L325.09,481.34 L330.29,481.85 L335.50,481.28" fill="none" stroke="rgba(255,20,20,0.17)" stroke-width="1.1" stroke-linejoin="round" stroke-linecap="round"/>
<path d="M80.41,377.83 L85.61,392.33 L90.82,405.74 L96.02,415.97 L101.23,425.85 L106.44,433.36 L111.64,439.35 L116.85,445.84 L122.05,452.01 L127.26,454.50 L132.47,458.77 L137.67,461.58 L142.88,464.76 L148.08,467.68 L153.29,469.40 L158.50,470.17 L163.70,472.16 L168.91,474.80 L174.11,472.26 L179.32,475.19 L184.53,475.49 L189.73,474.95 L194.94,478.14 L200.14,475.16 L205.35,477.45 L210.56,476.46 L215.76,477.77 L220.97,477.28 L226.17,477.66 L231.38,477.92 L236.59,479.73 L241.79,479.52 L247.00,478.32 L252.20,477.08 L257.41,478.94 L262.62,478.02 L267.82,478.41 L273.03,478.16 L278.23,477.74 L283.44,480.04 L288.65,478.46 L293.85,478.89 L299.06,479.03 L304.26,479.55 L309.47,479.50 L314.68,479.73 L319.88,479.81 L325.09,476.53 L330.29,477.27 L335.50,478.82" fill="none" stroke="rgba(255,20,20,0.17)" stroke-width="1.1" stroke-linejoin="round" stroke-linecap="round"/>
<path d="M80.41,380.52 L85.61,364.66 L90.82,354.87 L96.02,347.23 L101.23,342.90 L106.44,340.82 L111.64,336.28 L116.85,334.91 L122.05,335.98 L127.26,333.14 L132.47,333.59 L137.67,333.96 L142.88,334.56 L148.08,333.06 L153.29,333.25 L158.50,332.36 L163.70,332.08 L168.91,332.00 L174.11,333.50 L179.32,333.37 L184.53,332.05 L189.73,333.02 L194.94,333.40 L200.14,333.30 L205.35,332.49 L210.56,332.39 L215.76,332.40 L220.97,332.74 L226.17,332.52 L231.38,332.29 L236.59,332.10 L241.79,331.79 L247.00,332.93 L252.20,332.95 L257.41,332.82 L262.62,332.53 L267.82,333.27 L273.03,331.59 L278.23,333.65 L283.44,332.70 L288.65,333.30 L293.85,333.36 L299.06,332.91 L304.26,331.67 L309.47,333.67 L314.68,333.62 L319.88,333.64 L325.09,333.80 L330.29,331.80 L335.50,334.11" fill="none" stroke="rgba(30,30,255,0.17)" stroke-width="1.1" stroke-linejoin="round" stroke-linecap="round"/>
<path d="M80.41,400.97 L85.61,416.60 L90.82,426.67 L96.02,438.04 L101.23,445.80 L106.44,452.01 L111.64,457.54 L116.85,461.78 L122.05,466.14 L127.26,467.89 L132.47,471.43 L137.67,473.34 L142.88,475.42 L148.08,476.12 L153.29,478.10 L158.50,479.09 L163.70,478.24 L168.91,479.16 L174.11,479.76 L179.32,480.41 L184.53,481.71 L189.73,482.42 L194.94,480.40 L200.14,481.58 L205.35,481.23 L210.56,481.78 L215.76,481.16 L220.97,483.00 L226.17,481.22 L231.38,483.00 L236.59,481.99 L241.79,481.05 L247.00,481.97 L252.20,482.07 L257.41,483.00 L262.62,481.48 L267.82,482.29 L273.03,481.72 L278.23,481.81 L283.44,482.61 L288.65,482.92 L293.85,481.73 L299.06,481.80 L304.26,482.22 L309.47,481.93 L314.68,482.97 L319.88,482.36 L325.09,481.73 L330.29,482.17 L335.50,483.00" fill="none" stroke="rgba(255,20,20,0.17)" stroke-width="1.1" stroke-linejoin="round" stroke-linecap="round"/>
<path d="M80.41,401.72 L85.61,379.20 L90.82,366.06 L96.02,353.06 L101.23,347.73 L106.44,342.98 L111.64,338.86 L116.85,335.74 L122.05,335.78 L127.26,333.01 L132.47,333.12 L137.67,333.34 L142.88,331.90 L148.08,332.39 L153.29,331.56 L158.50,331.22 L163.70,331.75 L168.91,332.86 L174.11,330.10 L179.32,330.20 L184.53,330.20 L189.73,331.40 L194.94,330.88 L200.14,330.95 L205.35,332.88 L210.56,331.80 L215.76,331.47 L220.97,332.31 L226.17,331.44 L231.38,331.12 L236.59,331.81 L241.79,332.66 L247.00,330.31 L252.20,330.78 L257.41,331.41 L262.62,331.06 L267.82,332.80 L273.03,331.36 L278.23,331.51 L283.44,329.95 L288.65,330.89 L293.85,331.62 L299.06,330.27 L304.26,331.00 L309.47,331.99 L314.68,331.84 L319.88,329.62 L325.09,332.02 L330.29,331.97 L335.50,331.71" fill="none" stroke="rgba(30,30,255,0.17)" stroke-width="1.1" stroke-linejoin="round" stroke-linecap="round"/>
<path d="M80.41,400.78 L85.61,393.57 L90.82,386.39 L96.02,377.54 L101.23,373.36 L106.44,375.05 L111.64,369.67 L116.85,364.27 L122.05,356.77 L127.26,359.59 L132.47,363.67 L137.67,358.69 L142.88,354.78 L148.08,345.19 L153.29,344.40 L158.50,350.87 L163.70,343.22 L168.91,336.78 L174.11,338.33 L179.32,344.34 L184.53,335.24 L189.73,335.39 L194.94,341.33 L200.14,330.70 L205.35,334.78 L210.56,344.28 L215.76,337.81 L220.97,336.97 L226.17,333.69 L231.38,333.12 L236.59,337.80 L241.79,333.80 L247.00,331.15 L252.20,333.71 L257.41,334.23 L262.62,338.24 L267.82,335.64 L273.03,336.19 L278.23,334.48 L283.44,335.27 L288.65,340.85 L293.85,333.16 L299.06,335.64 L304.26,334.68 L309.47,337.12 L314.68,334.08 L319.88,334.52 L325.09,328.56 L330.29,337.72 L335.50,338.80" fill="none" stroke="rgba(30,30,255,0.17)" stroke-width="1.1" stroke-linejoin="round" stroke-linecap="round"/>
<path d="M80.41,360.23 L85.61,353.83 L90.82,348.06 L96.02,343.95 L101.23,341.33 L106.44,338.89 L111.64,336.61 L116.85,336.62 L122.05,333.65 L127.26,331.31 L132.47,330.35 L137.67,332.35 L142.88,330.27 L148.08,329.90 L153.29,329.93 L158.50,328.38 L163.70,329.42 L168.91,328.63 L174.11,328.54 L179.32,329.29 L184.53,328.30 L189.73,328.41 L194.94,327.81 L200.14,328.54 L205.35,327.78 L210.56,328.07 L215.76,328.11 L220.97,328.05 L226.17,329.53 L231.38,327.78 L236.59,327.78 L241.79,328.40 L247.00,329.64 L252.20,328.19 L257.41,327.78 L262.62,330.23 L267.82,327.78 L273.03,328.61 L278.23,328.38 L283.44,328.55 L288.65,327.78 L293.85,327.78 L299.06,327.87 L304.26,327.78 L309.47,328.53 L314.68,327.78 L319.88,328.21 L325.09,328.07 L330.29,327.78 L335.50,327.78" fill="none" stroke="rgba(30,30,255,0.17)" stroke-width="1.1" stroke-linejoin="round" stroke-linecap="round"/>
<path d="M80.41,379.98 L85.61,394.21 L90.82,407.61 L96.02,417.13 L101.23,426.09 L106.44,435.25 L111.64,442.62 L116.85,448.97 L122.05,453.35 L127.26,455.87 L132.47,459.94 L137.67,463.16 L142.88,466.96 L148.08,468.04 L153.29,467.97 L158.50,471.34 L163.70,471.20 L168.91,475.70 L174.11,473.12 L179.32,476.15 L184.53,477.18 L189.73,476.80 L194.94,477.69 L200.14,475.85 L205.35,477.97 L210.56,478.20 L215.76,478.88 L220.97,477.75 L226.17,477.53 L231.38,477.96 L236.59,480.33 L241.79,479.26 L247.00,478.64 L252.20,481.05 L257.41,479.40 L262.62,478.46 L267.82,478.01 L273.03,478.97 L278.23,478.68 L283.44,478.68 L288.65,479.19 L293.85,481.28 L299.06,477.85 L304.26,478.92 L309.47,479.66 L314.68,480.34 L319.88,477.44 L325.09,479.28 L330.29,478.77 L335.50,479.97" fill="none" stroke="rgba(255,20,20,0.17)" stroke-width="1.1" stroke-linejoin="round" stroke-linecap="round"/>
<path d="M80.41,382.38 L85.61,389.36 L90.82,398.17 L96.02,405.33 L101.23,410.22 L106.44,415.24 L111.64,421.11 L116.85,425.76 L122.05,429.67 L127.26,434.96 L132.47,437.16 L137.67,440.34 L142.88,445.44 L148.08,448.08 L153.29,450.37 L158.50,453.07 L163.70,455.01 L168.91,455.85 L174.11,460.08 L179.32,460.21 L184.53,462.59 L189.73,464.39 L194.94,466.42 L200.14,468.33 L205.35,467.52 L210.56,467.36 L215.76,470.52 L220.97,469.94 L226.17,472.60 L231.38,471.81 L236.59,473.23 L241.79,473.97 L247.00,475.57 L252.20,475.31 L257.41,475.74 L262.62,474.58 L267.82,475.66 L273.03,476.25 L278.23,477.63 L283.44,477.16 L288.65,476.98 L293.85,476.75 L299.06,477.41 L304.26,476.78 L309.47,478.94 L314.68,479.81 L319.88,477.96 L325.09,477.65 L330.29,478.64 L335.50,479.61" fill="none" stroke="rgba(255,20,20,0.17)" stroke-width="1.1" stroke-linejoin="round" stroke-linecap="round"/>
<path d="M80.41,381.60 L85.61,372.37 L90.82,365.02 L96.02,356.46 L101.23,353.16 L106.44,347.98 L111.64,344.38 L116.85,341.60 L122.05,338.34 L127.26,338.44 L132.47,336.37 L137.67,334.16 L142.88,333.42 L148.08,331.68 L153.29,332.92 L158.50,330.42 L163.70,331.38 L168.91,330.46 L174.11,328.41 L179.32,329.24 L184.53,330.55 L189.73,328.65 L194.94,329.49 L200.14,328.15 L205.35,328.41 L210.56,328.68 L215.76,329.27 L220.97,328.71 L226.17,330.48 L231.38,328.53 L236.59,327.78 L241.79,328.97 L247.00,329.35 L252.20,328.39 L257.41,327.96 L262.62,328.52 L267.82,329.90 L273.03,328.83 L278.23,328.42 L283.44,328.03 L288.65,329.75 L293.85,328.38 L299.06,327.78 L304.26,327.78 L309.47,329.46 L314.68,329.36 L319.88,328.60 L325.09,328.91 L330.29,328.75 L335.50,328.31" fill="none" stroke="rgba(30,30,255,0.17)" stroke-width="1.1" stroke-linejoin="round" stroke-linecap="round"/>
<path d="M80.41,385.16 L85.61,402.28 L90.82,415.57 L96.02,426.36 L101.23,434.48 L106.44,443.11 L111.64,448.18 L116.85,454.59 L122.05,459.08 L127.26,464.29 L132.47,466.85 L137.67,469.09 L142.88,472.26 L148.08,473.77 L153.29,475.59 L158.50,476.14 L163.70,475.95 L168.91,477.15 L174.11,478.05 L179.32,478.44 L184.53,480.08 L189.73,480.05 L194.94,480.53 L200.14,481.24 L205.35,480.99 L210.56,481.63 L215.76,481.00 L220.97,480.39 L226.17,480.92 L231.38,481.26 L236.59,480.93 L241.79,481.63 L247.00,482.27 L252.20,483.00 L257.41,480.43 L262.62,481.33 L267.82,483.00 L273.03,481.36 L278.23,482.08 L283.44,481.75 L288.65,481.50 L293.85,482.32 L299.06,482.99 L304.26,482.32 L309.47,480.98 L314.68,482.54 L319.88,482.98 L325.09,481.75 L330.29,479.95 L335.50,482.56" fill="none" stroke="rgba(255,20,20,0.17)" stroke-width="1.1" stroke-linejoin="round" stroke-linecap="round"/>
<path d="M80.41,396.18 L85.61,387.40 L90.82,380.75 L96.02,373.58 L101.23,368.71 L106.44,364.68 L111.64,360.44 L116.85,356.42 L122.05,353.45 L127.26,350.59 L132.47,348.43 L137.67,346.31 L142.88,344.83 L148.08,344.23 L153.29,341.63 L158.50,340.03 L163.70,339.55 L168.91,339.20 L174.11,337.99 L179.32,338.47 L184.53,338.65 L189.73,336.66 L194.94,337.03 L200.14,335.38 L205.35,336.50 L210.56,337.44 L215.76,335.97 L220.97,333.74 L226.17,335.09 L231.38,335.72 L236.59,335.12 L241.79,334.01 L247.00,333.93 L252.20,334.10 L257.41,333.01 L262.62,333.55 L267.82,334.07 L273.03,333.54 L278.23,332.67 L283.44,333.17 L288.65,333.10 L293.85,334.72 L299.06,333.97 L304.26,333.26 L309.47,334.04 L314.68,332.97 L319.88,333.32 L325.09,333.07 L330.29,333.93 L335.50,331.77" fill="none" stroke="rgba(30,30,255,0.17)" stroke-width="1.1" stroke-linejoin="round" stroke-linecap="round"/>
<path d="M80.41,395.89 L85.61,390.92 L90.82,391.00 L96.02,374.66 L101.23,376.69 L106.44,376.88 L111.64,367.27 L116.85,363.14 L122.05,366.25 L127.26,358.45 L132.47,364.61 L137.67,361.45 L142.88,351.19 L148.08,352.31 L153.29,355.64 L158.50,348.58 L163.70,343.99 L168.91,345.47 L174.11,352.13 L179.32,347.76 L184.53,342.86 L189.73,339.47 L194.94,333.72 L200.14,339.75 L205.35,342.03 L210.56,340.61 L215.76,334.99 L220.97,341.36 L226.17,334.23 L231.38,347.64 L236.59,337.60 L241.79,340.12 L247.00,336.26 L252.20,334.03 L257.41,340.50 L262.62,338.02 L267.82,335.87 L273.03,333.75 L278.23,338.92 L283.44,340.62 L288.65,344.67 L293.85,328.56 L299.06,334.09 L304.26,335.85 L309.47,341.28 L314.68,333.40 L319.88,336.69 L325.09,329.95 L330.29,330.17 L335.50,333.43" fill="none" stroke="rgba(30,30,255,0.17)" stroke-width="1.1" stroke-linejoin="round" stroke-linecap="round"/>
<path d="M80.41,337.14 L85.61,338.42 L90.82,339.97 L96.02,341.11 L101.23,341.61 L106.44,342.39 L111.64,344.59 L116.85,345.22 L122.05,344.49 L127.26,346.03 L132.47,345.69 L137.67,347.19 L142.88,348.06 L148.08,347.70 L153.29,348.29 L158.50,346.82 L163.70,348.07 L168.91,349.67 L174.11,349.72 L179.32,349.80 L184.53,350.08 L189.73,350.15 L194.94,350.98 L200.14,351.44 L205.35,352.51 L210.56,351.75 L215.76,350.86 L220.97,351.65 L226.17,351.70 L231.38,353.07 L236.59,353.73 L241.79,351.81 L247.00,352.96 L252.20,352.90 L257.41,354.04 L262.62,351.49 L267.82,351.60 L273.03,354.10 L278.23,353.22 L283.44,353.03 L288.65,352.57 L293.85,352.28 L299.06,353.03 L304.26,353.11 L309.47,352.63 L314.68,354.40 L319.88,353.21 L325.09,353.17 L330.29,352.94 L335.50,353.97" fill="none" stroke="rgba(255,20,20,0.17)" stroke-width="1.1" stroke-linejoin="round" stroke-linecap="round"/>
<path d="M80.41,352.79 L85.61,345.09 L90.82,341.99 L96.02,338.53 L101.23,333.82 L106.44,333.30 L111.64,331.71 L116.85,331.00 L122.05,330.20 L127.26,330.49 L132.47,329.30 L137.67,330.20 L142.88,328.97 L148.08,328.55 L153.29,328.35 L158.50,328.83 L163.70,329.31 L168.91,328.45 L174.11,328.93 L179.32,327.78 L184.53,327.93 L189.73,328.61 L194.94,328.88 L200.14,329.06 L205.35,329.24 L210.56,328.78 L215.76,328.28 L220.97,328.10 L226.17,328.06 L231.38,327.78 L236.59,329.05 L241.79,328.49 L247.00,327.78 L252.20,329.96 L257.41,328.91 L262.62,328.37 L267.82,328.38 L273.03,328.18 L278.23,328.69 L283.44,328.22 L288.65,328.46 L293.85,327.90 L299.06,329.98 L304.26,329.19 L309.47,328.50 L314.68,329.31 L319.88,329.32 L325.09,328.01 L330.29,329.01 L335.50,328.01" fill="none" stroke="rgba(30,30,255,0.17)" stroke-width="1.1" stroke-linejoin="round" stroke-linecap="round"/>
<path d="M80.41,377.14 L85.61,390.36 L90.82,404.24 L96.02,412.41 L101.23,422.87 L106.44,429.96 L111.64,436.85 L116.85,442.45 L122.05,445.68 L127.26,450.30 L132.47,457.38 L137.67,459.57 L142.88,462.97 L148.08,464.74 L153.29,468.69 L158.50,470.48 L163.70,470.97 L168.91,473.12 L174.11,472.79 L179.32,475.18 L184.53,475.73 L189.73,477.23 L194.94,476.86 L200.14,477.17 L205.35,478.90 L210.56,479.81 L215.76,479.27 L220.97,480.09 L226.17,479.65 L231.38,480.74 L236.59,480.98 L241.79,480.59 L247.00,482.24 L252.20,482.81 L257.41,481.41 L262.62,482.13 L267.82,481.52 L273.03,481.43 L278.23,481.92 L283.44,482.86 L288.65,480.98 L293.85,483.00 L299.06,483.00 L304.26,483.00 L309.47,480.80 L314.68,482.94 L319.88,482.83 L325.09,482.13 L330.29,481.58 L335.50,481.83" fill="none" stroke="rgba(255,20,20,0.17)" stroke-width="1.1" stroke-linejoin="round" stroke-linecap="round"/>
<path d="M80.41,362.29 L85.61,358.83 L90.82,352.54 L96.02,350.22 L101.23,348.12 L106.44,345.31 L111.64,343.50 L116.85,341.91 L122.05,338.59 L127.26,339.00 L132.47,337.43 L137.67,334.86 L142.88,334.86 L148.08,334.87 L153.29,335.06 L158.50,333.80 L163.70,332.46 L168.91,332.90 L174.11,332.12 L179.32,332.79 L184.53,332.25 L189.73,332.64 L194.94,332.00 L200.14,331.20 L205.35,333.22 L210.56,332.06 L215.76,331.75 L220.97,332.32 L226.17,332.06 L231.38,331.16 L236.59,330.17 L241.79,331.21 L247.00,331.42 L252.20,332.86 L257.41,330.12 L262.62,331.55 L267.82,331.62 L273.03,332.45 L278.23,331.62 L283.44,332.42 L288.65,331.50 L293.85,331.18 L299.06,331.52 L304.26,331.32 L309.47,332.20 L314.68,330.42 L319.88,332.04 L325.09,332.94 L330.29,331.67 L335.50,332.12" fill="none" stroke="rgba(30,30,255,0.17)" stroke-width="1.1" stroke-linejoin="round" stroke-linecap="round"/>
<path d="M80.41,388.18 L85.61,395.61 L90.82,403.74 L96.02,411.74 L101.23,415.62 L106.44,421.72 L111.64,428.67 L116.85,432.23 L122.05,436.81 L127.26,438.38 L132.47,442.70 L137.67,447.34 L142.88,450.70 L148.08,452.55 L153.29,455.53 L158.50,457.45 L163.70,460.44 L168.91,463.12 L174.11,465.77 L179.32,466.83 L184.53,468.56 L189.73,468.35 L194.94,469.00 L200.14,469.10 L205.35,471.52 L210.56,470.64 L215.76,471.98 L220.97,474.44 L226.17,475.60 L231.38,475.48 L236.59,476.80 L241.79,477.27 L247.00,477.36 L252.20,477.34 L257.41,480.13 L262.62,478.54 L267.82,478.98 L273.03,478.56 L278.23,480.52 L283.44,479.36 L288.65,481.08 L293.85,481.22 L299.06,481.37 L304.26,480.59 L309.47,481.23 L314.68,479.92 L319.88,480.78 L325.09,481.54 L330.29,480.51 L335.50,479.99" fill="none" stroke="rgba(255,20,20,0.17)" stroke-width="1.1" stroke-linejoin="round" stroke-linecap="round"/>
<path d="M80.41,403.48 L85.61,414.04 L90.82,419.56 L96.02,424.96 L101.23,430.86 L106.44,435.87 L111.64,441.57 L116.85,445.89 L122.05,450.54 L127.26,455.52 L132.47,456.80 L137.67,459.47 L142.88,461.92 L148.08,463.09 L153.29,464.61 L158.50,467.17 L163.70,467.27 L168.91,469.07 L174.11,469.70 L179.32,470.53 L184.53,471.29 L189.73,473.54 L194.94,474.54 L200.14,474.52 L205.35,474.02 L210.56,477.72 L215.76,475.36 L220.97,476.97 L226.17,476.23 L231.38,476.79 L236.59,477.80 L241.79,478.49 L247.00,478.26 L252.20,477.66 L257.41,479.39 L262.62,478.43 L267.82,479.18 L273.03,479.36 L278.23,479.94 L283.44,480.49 L288.65,478.64 L293.85,478.88 L299.06,479.58 L304.26,479.45 L309.47,478.43 L314.68,479.25 L319.88,479.07 L325.09,479.54 L330.29,478.85 L335.50,479.79" fill="none" stroke="rgba(255,20,20,0.17)" stroke-width="1.1" stroke-linejoin="round" stroke-linecap="round"/>
<path d="M80.41,377.01 L85.61,388.14 L90.82,400.61 L96.02,407.87 L101.23,416.18 L106.44,423.94 L111.64,430.16 L116.85,436.25 L122.05,441.14 L127.26,444.99 L132.47,449.44 L137.67,451.73 L142.88,455.58 L148.08,458.08 L153.29,460.27 L158.50,461.64 L163.70,464.17 L168.91,466.21 L174.11,468.08 L179.32,470.00 L184.53,470.77 L189.73,470.88 L194.94,472.23 L200.14,473.62 L205.35,475.22 L210.56,476.05 L215.76,474.93 L220.97,474.80 L226.17,475.85 L231.38,477.85 L236.59,477.15 L241.79,477.07 L247.00,478.39 L252.20,477.48 L257.41,478.20 L262.62,478.98 L267.82,479.52 L273.03,477.80 L278.23,478.35 L283.44,479.61 L288.65,479.83 L293.85,478.19 L299.06,478.54 L304.26,479.44 L309.47,477.77 L314.68,479.55 L319.88,480.30 L325.09,478.39 L330.29,479.60 L335.50,479.15" fill="none" stroke="rgba(255,20,20,0.17)" stroke-width="1.1" stroke-linejoin="round" stroke-linecap="round"/>
<path d="M80.41,387.33 L85.61,395.86 L90.82,402.81 L96.02,410.50 L101.23,418.94 L106.44,423.80 L111.64,426.88 L116.85,433.01 L122.05,437.36 L127.26,441.47 L132.47,446.15 L137.67,449.51 L142.88,452.51 L148.08,453.61 L153.29,456.85 L158.50,457.83 L163.70,461.07 L168.91,461.68 L174.11,464.71 L179.32,467.77 L184.53,466.51 L189.73,469.09 L194.94,469.48 L200.14,471.44 L205.35,472.90 L210.56,473.33 L215.76,475.32 L220.97,476.11 L226.17,476.50 L231.38,476.77 L236.59,478.08 L241.79,477.43 L247.00,477.51 L252.20,476.34 L257.41,476.89 L262.62,478.96 L267.82,478.42 L273.03,479.71 L278.23,479.41 L283.44,480.03 L288.65,480.71 L293.85,480.34 L299.06,481.94 L304.26,480.34 L309.47,481.16 L314.68,482.02 L319.88,481.47 L325.09,480.74 L330.29,481.98 L335.50,481.00" fill="none" stroke="rgba(255,20,20,0.17)" stroke-width="1.1" stroke-linejoin="round" stroke-linecap="round"/>
<path d="M80.41,386.08 L85.61,394.38 L90.82,401.00 L96.02,408.64 L101.23,414.76 L106.44,422.21 L111.64,427.27 L116.85,431.19 L122.05,436.03 L127.26,440.02 L132.47,444.86 L137.67,448.24 L142.88,451.44 L148.08,452.35 L153.29,456.78 L158.50,458.02 L163.70,459.96 L168.91,462.14 L174.11,463.96 L179.32,464.81 L184.53,467.24 L189.73,467.67 L194.94,467.70 L200.14,470.45 L205.35,469.78 L210.56,470.53 L215.76,470.76 L220.97,473.96 L226.17,472.17 L231.38,473.37 L236.59,473.48 L241.79,474.39 L247.00,475.85 L252.20,475.22 L257.41,476.28 L262.62,477.20 L267.82,477.58 L273.03,477.72 L278.23,477.67 L283.44,479.24 L288.65,477.63 L293.85,479.41 L299.06,477.69 L304.26,477.12 L309.47,477.41 L314.68,477.16 L319.88,477.32 L325.09,476.68 L330.29,479.04 L335.50,479.83" fill="none" stroke="rgba(255,20,20,0.17)" stroke-width="1.1" stroke-linejoin="round" stroke-linecap="round"/>
<path d="M80.41,385.93 L85.61,392.36 L90.82,383.49 L96.02,375.06 L101.23,374.55 L106.44,376.33 L111.64,367.75 L116.85,369.39 L122.05,361.66 L127.26,357.82 L132.47,357.40 L137.67,358.63 L142.88,357.10 L148.08,348.95 L153.29,344.20 L158.50,348.23 L163.70,359.14 L168.91,357.30 L174.11,356.49 L179.32,344.20 L184.53,351.27 L189.73,341.91 L194.94,342.77 L200.14,344.24 L205.35,337.73 L210.56,341.84 L215.76,337.07 L220.97,335.19 L226.17,341.54 L231.38,340.59 L236.59,335.20 L241.79,346.72 L247.00,337.23 L252.20,338.74 L257.41,334.90 L262.62,337.90 L267.82,338.95 L273.03,345.54 L278.23,344.66 L283.44,341.82 L288.65,337.97 L293.85,341.08 L299.06,336.12 L304.26,334.29 L309.47,333.17 L314.68,332.10 L319.88,331.47 L325.09,336.22 L330.29,333.07 L335.50,333.73" fill="none" stroke="rgba(30,30,255,0.17)" stroke-width="1.1" stroke-linejoin="round" stroke-linecap="round"/>
<path d="M80.41,351.40 L85.61,347.38 L90.82,343.52 L96.02,341.11 L101.23,339.08 L106.44,338.25 L111.64,336.67 L116.85,333.48 L122.05,334.56 L127.26,332.65 L132.47,334.11 L137.67,332.60 L142.88,331.85 L148.08,330.99 L153.29,332.47 L158.50,330.97 L163.70,331.01 L168.91,331.79 L174.11,330.76 L179.32,331.77 L184.53,331.64 L189.73,331.00 L194.94,333.07 L200.14,331.01 L205.35,331.69 L210.56,332.03 L215.76,331.21 L220.97,330.27 L226.17,331.18 L231.38,329.87 L236.59,331.76 L241.79,331.87 L247.00,329.63 L252.20,330.53 L257.41,330.10 L262.62,331.48 L267.82,330.21 L273.03,330.63 L278.23,330.33 L283.44,330.82 L288.65,329.89 L293.85,331.34 L299.06,331.59 L304.26,331.99 L309.47,329.93 L314.68,331.41 L319.88,331.65 L325.09,331.57 L330.29,331.18 L335.50,331.83" fill="none" stroke="rgba(30,30,255,0.17)" stroke-width="1.1" stroke-linejoin="round" stroke-linecap="round"/>
<path d="M80.41,392.79 L85.61,388.18 L90.82,383.47 L96.02,378.14 L101.23,373.98 L106.44,371.77 L111.64,367.53 L116.85,365.75 L122.05,362.31 L127.26,359.21 L132.47,356.26 L137.67,355.56 L142.88,353.32 L148.08,351.27 L153.29,350.90 L158.50,348.17 L163.70,347.27 L168.91,345.14 L174.11,345.10 L179.32,344.64 L184.53,342.05 L189.73,340.93 L194.94,340.69 L200.14,338.77 L205.35,338.94 L210.56,338.52 L215.76,337.06 L220.97,338.08 L226.17,336.86 L231.38,335.86 L236.59,334.74 L241.79,335.12 L247.00,334.37 L252.20,334.78 L257.41,333.71 L262.62,332.35 L267.82,333.92 L273.03,331.29 L278.23,333.41 L283.44,332.68 L288.65,332.36 L293.85,331.52 L299.06,333.12 L304.26,333.64 L309.47,331.39 L314.68,331.12 L319.88,331.13 L325.09,329.46 L330.29,331.25 L335.50,331.12" fill="none" stroke="rgba(30,30,255,0.17)" stroke-width="1.1" stroke-linejoin="round" stroke-linecap="round"/>
<path d="M80.41,372.83 L85.61,370.33 L90.82,366.40 L96.02,365.84 L101.23,362.38 L106.44,359.66 L111.64,358.09 L116.85,356.14 L122.05,354.28 L127.26,350.26 L132.47,349.76 L137.67,348.62 L142.88,349.19 L148.08,346.21 L153.29,346.08 L158.50,344.62 L163.70,343.18 L168.91,342.72 L174.11,341.95 L179.32,340.52 L184.53,340.12 L189.73,339.34 L194.94,338.54 L200.14,338.60 L205.35,338.12 L210.56,337.47 L215.76,336.97 L220.97,337.00 L226.17,336.40 L231.38,335.45 L236.59,336.67 L241.79,335.28 L247.00,334.90 L252.20,335.57 L257.41,334.32 L262.62,333.64 L267.82,333.49 L273.03,333.50 L278.23,334.26 L283.44,334.41 L288.65,333.91 L293.85,333.25 L299.06,333.28 L304.26,333.74 L309.47,332.05 L314.68,333.33 L319.88,333.20 L325.09,332.35 L330.29,333.49 L335.50,332.54" fill="none" stroke="rgba(30,30,255,0.17)" stroke-width="1.1" stroke-linejoin="round" stroke-linecap="round"/>
<path d="M80.41,395.23 L85.61,405.41 L90.82,413.76 L96.02,422.10 L101.23,430.65 L106.44,434.66 L111.64,441.12 L116.85,445.53 L122.05,448.55 L127.26,452.35 L132.47,456.09 L137.67,456.69 L142.88,460.75 L148.08,463.88 L153.29,465.04 L158.50,467.06 L163.70,470.44 L168.91,471.19 L174.11,472.18 L179.32,470.08 L184.53,473.01 L189.73,473.89 L194.94,474.84 L200.14,474.06 L205.35,475.46 L210.56,474.43 L215.76,475.67 L220.97,475.27 L226.17,477.19 L231.38,477.03 L236.59,478.01 L241.79,478.00 L247.00,479.60 L252.20,478.74 L257.41,479.22 L262.62,479.09 L267.82,477.52 L273.03,478.48 L278.23,477.71 L283.44,478.12 L288.65,478.13 L293.85,478.12 L299.06,479.63 L304.26,478.41 L309.47,479.46 L314.68,479.69 L319.88,478.17 L325.09,477.32 L330.29,480.18 L335.50,477.75" fill="none" stroke="rgba(255,20,20,0.17)" stroke-width="1.1" stroke-linejoin="round" stroke-linecap="round"/>
<path d="M80.41,378.04 L85.61,392.75 L90.82,405.92 L96.02,417.79 L101.23,427.74 L106.44,436.17 L111.64,442.76 L116.85,449.20 L122.05,453.91 L127.26,458.13 L132.47,459.78 L137.67,465.88 L142.88,465.75 L148.08,470.12 L153.29,471.85 L158.50,473.98 L163.70,474.14 L168.91,474.03 L174.11,475.75 L179.32,476.13 L184.53,477.62 L189.73,477.20 L194.94,479.20 L200.14,477.97 L205.35,478.95 L210.56,479.87 L215.76,477.95 L220.97,477.83 L226.17,479.90 L231.38,478.34 L236.59,479.35 L241.79,478.84 L247.00,479.19 L252.20,479.81 L257.41,480.45 L262.62,478.82 L267.82,480.75 L273.03,480.17 L278.23,479.58 L283.44,481.90 L288.65,479.65 L293.85,480.66 L299.06,480.50 L304.26,479.84 L309.47,480.24 L314.68,480.12 L319.88,480.89 L325.09,481.06 L330.29,480.59 L335.50,480.69" fill="none" stroke="rgba(255,20,20,0.17)" stroke-width="1.1" stroke-linejoin="round" stroke-linecap="round"/>
<path d="M80.41,380.04 L85.61,381.28 L90.82,385.58 L96.02,388.42 L101.23,389.20 L106.44,391.18 L111.64,398.63 L116.85,392.14 L122.05,395.98 L127.26,388.65 L132.47,389.99 L137.67,397.24 L142.88,398.14 L148.08,395.86 L153.29,392.48 L158.50,393.08 L163.70,394.81 L168.91,399.69 L174.11,397.80 L179.32,406.67 L184.53,401.13 L189.73,403.33 L194.94,405.17 L200.14,405.31 L205.35,408.45 L210.56,407.87 L215.76,399.92 L220.97,407.45 L226.17,412.95 L231.38,405.72 L236.59,408.95 L241.79,410.60 L247.00,402.18 L252.20,407.30 L257.41,405.61 L262.62,407.01 L267.82,400.72 L273.03,404.13 L278.23,415.00 L283.44,402.71 L288.65,410.58 L293.85,411.64 L299.06,406.70 L304.26,409.91 L309.47,411.94 L314.68,412.46 L319.88,412.38 L325.09,405.82 L330.29,408.25 L335.50,404.22" fill="none" stroke="rgba(255,20,20,0.17)" stroke-width="1.1" stroke-linejoin="round" stroke-linecap="round"/>
<path d="M80.41,383.85 L85.61,393.93 L90.82,398.95 L96.02,407.30 L101.23,413.91 L106.44,419.37 L111.64,424.20 L116.85,430.78 L122.05,436.16 L127.26,439.88 L132.47,444.08 L137.67,447.16 L142.88,449.57 L148.08,451.99 L153.29,454.77 L158.50,457.23 L163.70,459.79 L168.91,461.03 L174.11,462.40 L179.32,464.16 L184.53,464.96 L189.73,468.00 L194.94,469.21 L200.14,468.52 L205.35,470.95 L210.56,471.70 L215.76,473.26 L220.97,472.82 L226.17,474.82 L231.38,476.04 L236.59,475.74 L241.79,476.64 L247.00,475.94 L252.20,477.53 L257.41,477.47 L262.62,478.16 L267.82,477.98 L273.03,479.20 L278.23,477.86 L283.44,480.49 L288.65,479.75 L293.85,480.27 L299.06,479.20 L304.26,479.95 L309.47,479.69 L314.68,480.61 L319.88,481.10 L325.09,481.60 L330.29,480.98 L335.50,481.27" fill="none" stroke="rgba(255,20,20,0.17)" stroke-width="1.1" stroke-linejoin="round" stroke-linecap="round"/>
<path d="M80.41,404.32 L85.61,416.11 L90.82,426.63 L96.02,434.44 L101.23,442.00 L106.44,448.09 L111.64,452.99 L116.85,456.59 L122.05,459.16 L127.26,463.48 L132.47,466.06 L137.67,467.59 L142.88,469.93 L148.08,473.00 L153.29,472.20 L158.50,473.86 L163.70,474.93 L168.91,474.56 L174.11,475.73 L179.32,476.83 L184.53,478.79 L189.73,478.74 L194.94,477.43 L200.14,477.82 L205.35,477.52 L210.56,477.91 L215.76,478.72 L220.97,479.59 L226.17,479.55 L231.38,478.75 L236.59,479.77 L241.79,478.06 L247.00,480.06 L252.20,480.54 L257.41,479.09 L262.62,480.60 L267.82,477.45 L273.03,479.92 L278.23,479.06 L283.44,479.26 L288.65,479.81 L293.85,480.71 L299.06,480.81 L304.26,478.26 L309.47,478.12 L314.68,477.06 L319.88,480.46 L325.09,478.57 L330.29,479.11 L335.50,478.31" fill="none" stroke="rgba(255,20,20,0.17)" stroke-width="1.1" stroke-linejoin="round" stroke-linecap="round"/>
<path d="M80.41,363.66 L85.61,356.67 L90.82,351.01 L96.02,347.84 L101.23,344.86 L106.44,343.46 L111.64,339.99 L116.85,339.39 L122.05,338.04 L127.26,337.70 L132.47,336.70 L137.67,335.76 L142.88,333.86 L148.08,336.07 L153.29,335.32 L158.50,333.77 L163.70,332.64 L168.91,333.17 L174.11,334.99 L179.32,335.38 L184.53,333.06 L189.73,333.86 L194.94,334.11 L200.14,332.44 L205.35,332.32 L210.56,333.03 L215.76,332.95 L220.97,332.78 L226.17,331.87 L231.38,332.62 L236.59,332.69 L241.79,332.66 L247.00,334.31 L252.20,332.08 L257.41,332.34 L262.62,332.67 L267.82,334.62 L273.03,333.57 L278.23,332.42 L283.44,334.49 L288.65,333.22 L293.85,332.28 L299.06,334.10 L304.26,331.82 L309.47,332.64 L314.68,333.19 L319.88,332.82 L325.09,332.57 L330.29,332.98 L335.50,332.18" fill="none" stroke="rgba(30,30,255,0.17)" stroke-width="1.1" stroke-linejoin="round" stroke-linecap="round"/>
<path d="M80.41,367.82 L85.61,360.16 L90.82,351.88 L96.02,346.86 L101.23,343.26 L106.44,339.48 L111.64,338.42 L116.85,336.22 L122.05,336.64 L127.26,336.18 L132.47,333.50 L137.67,333.86 L142.88,334.71 L148.08,333.50 L153.29,332.61 L158.50,333.73 L163.70,332.69 L168.91,333.95 L174.11,332.40 L179.32,332.59 L184.53,332.90 L189.73,332.97 L194.94,332.84 L200.14,331.69 L205.35,331.76 L210.56,334.27 L215.76,333.51 L220.97,332.83 L226.17,332.66 L231.38,333.49 L236.59,332.02 L241.79,330.67 L247.00,333.53 L252.20,333.49 L257.41,332.57 L262.62,331.80 L267.82,332.02 L273.03,332.59 L278.23,332.26 L283.44,332.62 L288.65,332.69 L293.85,332.85 L299.06,333.06 L304.26,332.37 L309.47,332.76 L314.68,332.41 L319.88,332.99 L325.09,331.46 L330.29,332.56 L335.50,332.63" fill="none" stroke="rgba(30,30,255,0.17)" stroke-width="1.1" stroke-linejoin="round" stroke-linecap="round"/>
<path d="M80.41,399.11 L85.61,406.87 L90.82,416.34 L96.02,420.28 L101.23,425.23 L106.44,431.43 L111.64,436.98 L116.85,440.77 L122.05,444.98 L127.26,448.36 L132.47,451.60 L137.67,453.90 L142.88,457.13 L148.08,459.12 L153.29,461.52 L158.50,462.21 L163.70,463.29 L168.91,465.27 L174.11,466.84 L179.32,467.18 L184.53,470.26 L189.73,468.55 L194.94,473.10 L200.14,471.43 L205.35,472.64 L210.56,473.03 L215.76,475.34 L220.97,473.38 L226.17,474.64 L231.38,475.19 L236.59,474.68 L241.79,475.85 L247.00,476.17 L252.20,475.73 L257.41,476.83 L262.62,476.65 L267.82,477.51 L273.03,477.86 L278.23,477.47 L283.44,478.18 L288.65,477.52 L293.85,478.09 L299.06,478.47 L304.26,478.15 L309.47,479.25 L314.68,477.56 L319.88,477.72 L325.09,480.45 L330.29,478.35 L335.50,478.83" fill="none" stroke="rgba(255,20,20,0.17)" stroke-width="1.1" stroke-linejoin="round" stroke-linecap="round"/>
<path d="M80.41,386.84 L85.61,368.76 L90.82,355.00 L96.02,345.74 L101.23,341.54 L106.44,337.02 L111.64,334.21 L116.85,331.78 L122.05,330.18 L127.26,330.58 L132.47,330.59 L137.67,328.80 L142.88,331.49 L148.08,329.78 L153.29,329.87 L158.50,329.58 L163.70,329.26 L168.91,327.78 L174.11,328.89 L179.32,329.62 L184.53,329.82 L189.73,328.28 L194.94,329.37 L200.14,328.02 L205.35,330.08 L210.56,328.88 L215.76,328.45 L220.97,329.18 L226.17,328.47 L231.38,329.54 L236.59,329.34 L241.79,329.38 L247.00,328.82 L252.20,328.41 L257.41,329.41 L262.62,330.02 L267.82,328.75 L273.03,328.35 L278.23,329.48 L283.44,328.22 L288.65,329.48 L293.85,329.95 L299.06,329.21 L304.26,328.19 L309.47,328.92 L314.68,328.99 L319.88,328.96 L325.09,328.88 L330.29,329.48 L335.50,330.26" fill="none" stroke="rgba(30,30,255,0.17)" stroke-width="1.1" stroke-linejoin="round" stroke-linecap="round"/>
<path d="M80.41,383.16 L85.61,385.13 L90.82,387.56 L96.02,389.49 L101.23,392.64 L106.44,401.61 L111.64,400.42 L116.85,399.60 L122.05,400.11 L127.26,402.91 L132.47,408.29 L137.67,408.08 L142.88,406.91 L148.08,408.67 L153.29,402.00 L158.50,408.07 L163.70,410.27 L168.91,413.47 L174.11,421.00 L179.32,413.69 L184.53,417.75 L189.73,413.04 L194.94,417.87 L200.14,419.03 L205.35,415.50 L210.56,419.68 L215.76,424.81 L220.97,419.85 L226.17,419.12 L231.38,419.36 L236.59,421.53 L241.79,420.76 L247.00,424.59 L252.20,422.95 L257.41,420.49 L262.62,431.96 L267.82,423.27 L273.03,419.91 L278.23,418.13 L283.44,423.69 L288.65,422.39 L293.85,424.10 L299.06,427.33 L304.26,424.00 L309.47,421.69 L314.68,421.63 L319.88,430.03 L325.09,426.60 L330.29,425.81 L335.50,425.16" fill="none" stroke="rgba(255,20,20,0.17)" stroke-width="1.1" stroke-linejoin="round" stroke-linecap="round"/>
<path d="M80.41,392.52 L85.61,400.95 L90.82,407.01 L96.02,415.57 L101.23,419.99 L106.44,427.27 L111.64,431.13 L116.85,433.86 L122.05,438.69 L127.26,442.05 L132.47,443.57 L137.67,446.99 L142.88,448.99 L148.08,452.85 L153.29,455.70 L158.50,455.22 L163.70,458.96 L168.91,457.35 L174.11,460.51 L179.32,460.65 L184.53,460.59 L189.73,464.05 L194.94,460.72 L200.14,463.44 L205.35,464.73 L210.56,466.61 L215.76,468.28 L220.97,469.06 L226.17,468.28 L231.38,466.04 L236.59,467.35 L241.79,465.31 L247.00,468.28 L252.20,469.87 L257.41,467.31 L262.62,468.02 L267.82,470.01 L273.03,466.20 L278.23,467.26 L283.44,470.08 L288.65,469.33 L293.85,469.88 L299.06,466.91 L304.26,468.88 L309.47,469.45 L314.68,468.22 L319.88,466.08 L325.09,465.97 L330.29,468.06 L335.50,468.96" fill="none" stroke="rgba(255,20,20,0.17)" stroke-width="1.1" stroke-linejoin="round" stroke-linecap="round"/>
<path d="M80.41,394.77 L85.61,376.44 L90.82,365.76 L96.02,358.05 L101.23,350.21 L106.44,345.89 L111.64,343.10 L116.85,340.75 L122.05,339.90 L127.26,336.46 L132.47,336.06 L137.67,333.35 L142.88,334.93 L148.08,334.69 L153.29,333.20 L158.50,334.05 L163.70,333.90 L168.91,334.23 L174.11,334.35 L179.32,332.66 L184.53,333.01 L189.73,332.43 L194.94,334.03 L200.14,333.72 L205.35,334.42 L210.56,332.97 L215.76,334.81 L220.97,333.28 L226.17,332.86 L231.38,332.61 L236.59,334.44 L241.79,332.86 L247.00,334.27 L252.20,334.30 L257.41,334.74 L262.62,332.81 L267.82,332.42 L273.03,334.17 L278.23,334.30 L283.44,333.97 L288.65,331.75 L293.85,332.92 L299.06,334.13 L304.26,335.11 L309.47,334.23 L314.68,332.78 L319.88,332.25 L325.09,333.91 L330.29,334.25 L335.50,334.10" fill="none" stroke="rgba(30,30,255,0.17)" stroke-width="1.1" stroke-linejoin="round" stroke-linecap="round"/>
<path d="M80.41,381.98 L85.61,397.56 L90.82,412.74 L96.02,424.36 L101.23,433.31 L106.44,441.57 L111.64,446.56 L116.85,451.92 L122.05,456.99 L127.26,460.90 L132.47,463.66 L137.67,466.70 L142.88,469.32 L148.08,470.04 L153.29,472.24 L158.50,473.17 L163.70,473.34 L168.91,473.78 L174.11,476.25 L179.32,475.85 L184.53,478.64 L189.73,478.42 L194.94,477.73 L200.14,478.94 L205.35,479.54 L210.56,479.52 L215.76,478.52 L220.97,480.34 L226.17,478.65 L231.38,478.33 L236.59,481.13 L241.79,478.99 L247.00,478.77 L252.20,480.62 L257.41,479.10 L262.62,479.91 L267.82,479.07 L273.03,478.89 L278.23,479.19 L283.44,482.05 L288.65,479.03 L293.85,478.08 L299.06,480.68 L304.26,477.30 L309.47,480.05 L314.68,480.92 L319.88,480.85 L325.09,478.38 L330.29,479.17 L335.50,480.30" fill="none" stroke="rgba(255,20,20,0.17)" stroke-width="1.1" stroke-linejoin="round" stroke-linecap="round"/>
<path d="M80.41,399.90 L85.61,412.95 L90.82,425.85 L96.02,436.87 L101.23,443.18 L106.44,450.04 L111.64,455.30 L116.85,459.69 L122.05,464.32 L127.26,466.30 L132.47,469.00 L137.67,471.75 L142.88,474.12 L148.08,475.68 L153.29,475.82 L158.50,478.52 L163.70,478.49 L168.91,479.75 L174.11,480.93 L179.32,479.55 L184.53,480.54 L189.73,480.81 L194.94,480.30 L200.14,482.75 L205.35,481.60 L210.56,481.43 L215.76,481.05 L220.97,482.95 L226.17,481.36 L231.38,481.89 L236.59,480.89 L241.79,481.15 L247.00,481.74 L252.20,480.28 L257.41,482.32 L262.62,482.74 L267.82,482.68 L273.03,483.00 L278.23,482.42 L283.44,483.00 L288.65,482.49 L293.85,482.02 L299.06,481.50 L304.26,482.76 L309.47,481.14 L314.68,483.00 L319.88,482.57 L325.09,483.00 L330.29,483.00 L335.50,483.00" fill="none" stroke="rgba(255,20,20,0.17)" stroke-width="1.1" stroke-linejoin="round" stroke-linecap="round"/>
<path d="M80.41,359.09 L85.61,353.79 L90.82,347.22 L96.02,344.28 L101.23,341.08 L106.44,339.45 L111.64,337.34 L116.85,335.74 L122.05,336.19 L127.26,335.11 L132.47,333.46 L137.67,332.78 L142.88,333.40 L148.08,332.92 L153.29,331.47 L158.50,334.09 L163.70,334.56 L168.91,331.79 L174.11,331.90 L179.32,331.75 L184.53,333.69 L189.73,332.11 L194.94,332.39 L200.14,332.36 L205.35,331.86 L210.56,331.45 L215.76,330.27 L220.97,333.77 L226.17,333.10 L231.38,333.29 L236.59,331.07 L241.79,332.77 L247.00,332.00 L252.20,331.86 L257.41,334.04 L262.62,331.36 L267.82,331.54 L273.03,332.59 L278.23,332.56 L283.44,332.48 L288.65,331.87 L293.85,332.02 L299.06,331.61 L304.26,333.11 L309.47,332.85 L314.68,332.15 L319.88,332.07 L325.09,332.73 L330.29,331.15 L335.50,331.92" fill="none" stroke="rgba(30,30,255,0.17)" stroke-width="1.1" stroke-linejoin="round" stroke-linecap="round"/>
<path d="M80.41,397.69 L85.61,406.29 L90.82,413.58 L96.02,421.48 L101.23,427.01 L106.44,431.26 L111.64,439.95 L116.85,442.21 L122.05,447.84 L127.26,451.63 L132.47,453.84 L137.67,456.02 L142.88,459.05 L148.08,462.47 L153.29,464.79 L158.50,465.85 L163.70,466.99 L168.91,469.24 L174.11,471.18 L179.32,469.42 L184.53,472.83 L189.73,473.17 L194.94,474.38 L200.14,475.17 L205.35,475.29 L210.56,476.21 L215.76,475.93 L220.97,478.05 L226.17,478.76 L231.38,476.04 L236.59,478.23 L241.79,477.78 L247.00,477.69 L252.20,478.51 L257.41,479.20 L262.62,480.84 L267.82,481.07 L273.03,478.89 L278.23,479.31 L283.44,479.54 L288.65,481.67 L293.85,482.20 L299.06,481.32 L304.26,481.52 L309.47,480.38 L314.68,481.51 L319.88,479.21 L325.09,481.27 L330.29,481.26 L335.50,480.01" fill="none" stroke="rgba(255,20,20,0.17)" stroke-width="1.1" stroke-linejoin="round" stroke-linecap="round"/>
<path d="M80.41,396.18 L85.61,382.36 L90.82,370.62 L96.02,362.95 L101.23,354.53 L106.44,349.40 L111.64,346.12 L116.85,343.14 L122.05,340.41 L127.26,339.01 L132.47,335.97 L137.67,335.99 L142.88,334.78 L148.08,332.64 L153.29,333.56 L158.50,332.61 L163.70,332.68 L168.91,332.36 L174.11,331.90 L179.32,331.83 L184.53,332.42 L189.73,331.14 L194.94,331.03 L200.14,330.33 L205.35,332.27 L210.56,331.49 L215.76,331.00 L220.97,330.53 L226.17,331.89 L231.38,331.48 L236.59,331.69 L241.79,330.25 L247.00,330.93 L252.20,331.62 L257.41,331.21 L262.62,330.31 L267.82,331.75 L273.03,331.23 L278.23,331.64 L283.44,331.15 L288.65,331.56 L293.85,330.77 L299.06,331.98 L304.26,331.85 L309.47,330.49 L314.68,330.78 L319.88,331.60 L325.09,330.67 L330.29,330.64 L335.50,331.30" fill="none" stroke="rgba(30,30,255,0.17)" stroke-width="1.1" stroke-linejoin="round" stroke-linecap="round"/>
<path d="M80.41,392.59 L85.61,388.92 L90.82,383.00 L96.02,382.39 L101.23,378.90 L106.44,375.08 L111.64,373.84 L116.85,364.61 L122.05,365.74 L127.26,366.01 L132.47,365.85 L137.67,366.13 L142.88,357.32 L148.08,358.18 L153.29,362.15 L158.50,360.32 L163.70,357.15 L168.91,356.51 L174.11,349.50 L179.32,355.36 L184.53,349.93 L189.73,348.95 L194.94,353.15 L200.14,349.01 L205.35,347.74 L210.56,344.48 L215.76,346.70 L220.97,343.94 L226.17,350.33 L231.38,349.54 L236.59,341.62 L241.79,337.86 L247.00,340.48 L252.20,343.22 L257.41,337.16 L262.62,347.43 L267.82,345.19 L273.03,338.51 L278.23,336.34 L283.44,342.02 L288.65,346.84 L293.85,335.06 L299.06,336.40 L304.26,340.71 L309.47,338.12 L314.68,333.88 L319.88,346.08 L325.09,335.16 L330.29,333.19 L335.50,343.48" fill="none" stroke="rgba(30,30,255,0.17)" stroke-width="1.1" stroke-linejoin="round" stroke-linecap="round"/>
<path d="M80.41,353.51 L85.61,346.48 L90.82,343.35 L96.02,341.88 L101.23,336.85 L106.44,336.91 L111.64,335.19 L116.85,332.16 L122.05,330.69 L127.26,330.89 L132.47,329.60 L137.67,329.04 L142.88,330.67 L148.08,328.92 L153.29,328.39 L158.50,329.45 L163.70,327.98 L168.91,328.71 L174.11,328.04 L179.32,328.21 L184.53,327.78 L189.73,327.94 L194.94,328.22 L200.14,329.26 L205.35,328.53 L210.56,327.78 L215.76,327.78 L220.97,327.78 L226.17,327.78 L231.38,329.00 L236.59,328.29 L241.79,328.23 L247.00,327.78 L252.20,328.66 L257.41,328.35 L262.62,328.40 L267.82,328.65 L273.03,328.09 L278.23,327.87 L283.44,328.60 L288.65,328.55 L293.85,327.81 L299.06,327.78 L304.26,327.78 L309.47,328.78 L314.68,327.78 L319.88,327.78 L325.09,327.78 L330.29,327.78 L335.50,328.24" fill="none" stroke="rgba(30,30,255,0.17)" stroke-width="1.1" stroke-linejoin="round" stroke-linecap="round"/>
<path d="M80.41,374.62 L85.61,365.12 L90.82,359.34 L96.02,352.84 L101.23,347.14 L106.44,343.84 L111.64,341.73 L116.85,338.98 L122.05,337.82 L127.26,337.57 L132.47,336.85 L137.67,335.34 L142.88,333.50 L148.08,334.17 L153.29,334.05 L158.50,333.65 L163.70,334.01 L168.91,332.73 L174.11,333.42 L179.32,332.10 L184.53,334.14 L189.73,331.97 L194.94,332.68 L200.14,333.65 L205.35,331.54 L210.56,332.29 L215.76,333.80 L220.97,332.72 L226.17,331.80 L231.38,332.38 L236.59,331.40 L241.79,331.42 L247.00,331.48 L252.20,331.74 L257.41,330.96 L262.62,331.48 L267.82,331.64 L273.03,333.62 L278.23,331.29 L283.44,330.97 L288.65,332.22 L293.85,332.35 L299.06,330.47 L304.26,333.36 L309.47,331.62 L314.68,330.10 L319.88,332.71 L325.09,331.45 L330.29,330.51 L335.50,332.08" fill="none" stroke="rgba(30,30,255,0.17)" stroke-width="1.1" stroke-linejoin="round" stroke-linecap="round"/>
<path d="M80.41,389.95 L85.61,375.22 L90.82,362.44 L96.02,355.86 L101.23,349.28 L106.44,345.25 L111.64,342.02 L116.85,339.00 L122.05,336.40 L127.26,337.61 L132.47,336.68 L137.67,335.23 L142.88,336.00 L148.08,334.46 L153.29,334.17 L158.50,334.66 L163.70,333.91 L168.91,335.44 L174.11,333.57 L179.32,335.33 L184.53,334.63 L189.73,334.50 L194.94,334.36 L200.14,333.36 L205.35,333.96 L210.56,334.32 L215.76,333.59 L220.97,332.77 L226.17,334.00 L231.38,333.72 L236.59,333.03 L241.79,333.79 L247.00,335.00 L252.20,332.06 L257.41,332.27 L262.62,335.55 L267.82,334.03 L273.03,333.67 L278.23,333.24 L283.44,333.47 L288.65,334.21 L293.85,334.82 L299.06,333.92 L304.26,333.19 L309.47,334.85 L314.68,334.80 L319.88,334.02 L325.09,335.51 L330.29,334.20 L335.50,334.34" fill="none" stroke="rgba(30,30,255,0.17)" stroke-width="1.1" stroke-linejoin="round" stroke-linecap="round"/>
<path d="M80.41,383.77 L85.61,397.77 L90.82,406.23 L96.02,415.48 L101.23,423.79 L106.44,431.54 L111.64,437.46 L116.85,444.08 L122.05,446.70 L127.26,452.23 L132.47,454.45 L137.67,457.44 L142.88,461.69 L148.08,464.65 L153.29,465.65 L158.50,466.98 L163.70,470.53 L168.91,470.81 L174.11,472.99 L179.32,471.81 L184.53,473.81 L189.73,476.54 L194.94,476.33 L200.14,476.40 L205.35,477.51 L210.56,477.49 L215.76,477.64 L220.97,478.23 L226.17,479.15 L231.38,477.73 L236.59,478.50 L241.79,479.85 L247.00,479.89 L252.20,480.56 L257.41,481.44 L262.62,480.55 L267.82,480.33 L273.03,480.82 L278.23,481.47 L283.44,483.00 L288.65,482.38 L293.85,480.00 L299.06,482.56 L304.26,480.36 L309.47,480.25 L314.68,481.06 L319.88,481.00 L325.09,480.27 L330.29,481.10 L335.50,481.13" fill="none" stroke="rgba(255,20,20,0.17)" stroke-width="1.1" stroke-linejoin="round" stroke-linecap="round"/>
<path d="M80.41,400.95 L85.61,411.51 L90.82,419.80 L96.02,428.19 L101.23,432.98 L106.44,438.88 L111.64,444.12 L116.85,447.74 L122.05,453.92 L127.26,455.39 L132.47,458.22 L137.67,461.11 L142.88,462.40 L148.08,463.51 L153.29,467.21 L158.50,469.16 L163.70,470.17 L168.91,470.70 L174.11,471.27 L179.32,473.46 L184.53,472.56 L189.73,475.06 L194.94,473.99 L200.14,474.87 L205.35,475.29 L210.56,474.17 L215.76,476.69 L220.97,476.91 L226.17,476.60 L231.38,476.48 L236.59,478.67 L241.79,477.40 L247.00,478.47 L252.20,477.37 L257.41,476.83 L262.62,478.12 L267.82,478.35 L273.03,478.17 L278.23,481.06 L283.44,477.78 L288.65,478.02 L293.85,478.42 L299.06,478.97 L304.26,479.30 L309.47,478.84 L314.68,477.62 L319.88,478.82 L325.09,477.54 L330.29,481.08 L335.50,479.20" fill="none" stroke="rgba(255,20,20,0.17)" stroke-width="1.1" stroke-linejoin="round" stroke-linecap="round"/>
<path d="M80.41,386.63 L85.61,375.26 L90.82,368.21 L96.02,362.01 L101.23,363.86 L106.44,366.05 L111.64,362.94 L116.85,352.76 L122.05,354.08 L127.26,357.68 L132.47,348.07 L137.67,343.60 L142.88,348.70 L148.08,348.53 L153.29,341.56 L158.50,347.66 L163.70,341.12 L168.91,341.21 L174.11,335.91 L179.32,341.18 L184.53,340.02 L189.73,340.97 L194.94,331.73 L200.14,332.13 L205.35,338.38 L210.56,338.63 L215.76,335.29 L220.97,335.67 L226.17,332.83 L231.38,338.46 L236.59,337.77 L241.79,328.56 L247.00,328.56 L252.20,335.12 L257.41,328.56 L262.62,328.56 L267.82,339.61 L273.03,333.98 L278.23,329.45 L283.44,331.50 L288.65,332.86 L293.85,328.56 L299.06,329.99 L304.26,340.77 L309.47,335.06 L314.68,332.75 L319.88,337.55 L325.09,329.46 L330.29,331.78 L335.50,338.30" fill="none" stroke="rgba(30,30,255,0.17)" stroke-width="1.1" stroke-linejoin="round" stroke-linecap="round"/>
<path d="M80.41,381.03 L85.61,393.44 L90.82,405.51 L96.02,416.42 L101.23,425.06 L106.44,432.45 L111.64,436.83 L116.85,444.37 L122.05,447.64 L127.26,453.66 L132.47,457.19 L137.67,460.05 L142.88,461.06 L148.08,465.30 L153.29,466.94 L158.50,469.14 L163.70,470.64 L168.91,470.64 L174.11,473.30 L179.32,473.97 L184.53,475.78 L189.73,476.10 L194.94,476.03 L200.14,475.37 L205.35,475.56 L210.56,478.79 L215.76,478.26 L220.97,480.08 L226.17,478.98 L231.38,478.90 L236.59,478.58 L241.79,478.90 L247.00,480.45 L252.20,480.77 L257.41,481.14 L262.62,478.41 L267.82,481.15 L273.03,479.19 L278.23,479.90 L283.44,479.35 L288.65,481.76 L293.85,479.92 L299.06,479.97 L304.26,480.38 L309.47,479.97 L314.68,481.49 L319.88,479.14 L325.09,481.50 L330.29,480.63 L335.50,479.71" fill="none" stroke="rgba(255,20,20,0.17)" stroke-width="1.1" stroke-linejoin="round" stroke-linecap="round"/>
<path d="M80.41,389.40 L85.61,398.27 L90.82,403.47 L96.02,408.77 L101.23,413.99 L106.44,420.17 L111.64,421.36 L116.85,426.74 L122.05,431.71 L127.26,434.12 L132.47,434.91 L137.67,438.03 L142.88,439.57 L148.08,442.58 L153.29,446.15 L158.50,449.78 L163.70,450.88 L168.91,450.96 L174.11,454.44 L179.32,453.89 L184.53,455.51 L189.73,453.51 L194.94,458.68 L200.14,453.77 L205.35,455.67 L210.56,458.39 L215.76,458.54 L220.97,456.69 L226.17,458.03 L231.38,460.20 L236.59,461.34 L241.79,463.22 L247.00,461.14 L252.20,460.09 L257.41,461.52 L262.62,461.84 L267.82,463.36 L273.03,462.36 L278.23,461.71 L283.44,464.41 L288.65,462.08 L293.85,463.18 L299.06,462.31 L304.26,462.97 L309.47,462.66 L314.68,462.83 L319.88,462.13 L325.09,464.31 L330.29,463.84 L335.50,465.42" fill="none" stroke="rgba(255,20,20,0.17)" stroke-width="1.1" stroke-linejoin="round" stroke-linecap="round"/>
<path d="M80.41,385.96 L85.61,397.93 L90.82,407.96 L96.02,419.57 L101.23,428.68 L106.44,437.30 L111.64,440.33 L116.85,446.37 L122.05,450.28 L127.26,453.19 L132.47,459.02 L137.67,461.29 L142.88,462.47 L148.08,467.03 L153.29,466.96 L158.50,469.59 L163.70,471.51 L168.91,472.11 L174.11,472.61 L179.32,474.17 L184.53,474.66 L189.73,474.94 L194.94,475.42 L200.14,476.96 L205.35,476.87 L210.56,479.36 L215.76,478.83 L220.97,478.78 L226.17,478.64 L231.38,478.72 L236.59,479.57 L241.79,478.27 L247.00,477.92 L252.20,477.60 L257.41,478.93 L262.62,478.69 L267.82,478.48 L273.03,477.75 L278.23,479.73 L283.44,478.71 L288.65,480.59 L293.85,480.44 L299.06,480.60 L304.26,478.92 L309.47,479.68 L314.68,479.49 L319.88,480.37 L325.09,479.66 L330.29,477.87 L335.50,481.08" fill="none" stroke="rgba(255,20,20,0.17)" stroke-width="1.1" stroke-linejoin="round" stroke-linecap="round"/>
<path d="M80.41,378.46 L85.61,390.41 L90.82,399.62 L96.02,409.24 L101.23,415.46 L106.44,424.76 L111.64,429.17 L116.85,434.64 L122.05,439.35 L127.26,442.74 L132.47,447.89 L137.67,451.13 L142.88,453.45 L148.08,458.38 L153.29,459.61 L158.50,461.41 L163.70,462.47 L168.91,465.78 L174.11,465.79 L179.32,467.50 L184.53,470.42 L189.73,471.46 L194.94,472.34 L200.14,471.71 L205.35,472.38 L210.56,472.55 L215.76,473.04 L220.97,474.83 L226.17,473.78 L231.38,474.42 L236.59,475.10 L241.79,475.41 L247.00,477.34 L252.20,476.06 L257.41,477.58 L262.62,477.93 L267.82,477.32 L273.03,477.03 L278.23,477.35 L283.44,477.73 L288.65,478.46 L293.85,477.46 L299.06,478.41 L304.26,479.10 L309.47,477.78 L314.68,476.57 L319.88,478.36 L325.09,479.01 L330.29,476.78 L335.50,476.51" fill="none" stroke="rgba(255,20,20,0.17)" stroke-width="1.1" stroke-linejoin="round" stroke-linecap="round"/>
<path d="M80.41,377.27 L85.61,391.55 L90.82,404.49 L96.02,413.82 L101.23,423.15 L106.44,430.41 L111.64,437.04 L116.85,442.80 L122.05,448.50 L127.26,454.92 L132.47,457.22 L137.67,462.12 L142.88,464.64 L148.08,467.22 L153.29,469.76 L158.50,471.33 L163.70,470.87 L168.91,473.69 L174.11,473.37 L179.32,475.77 L184.53,478.43 L189.73,478.20 L194.94,476.80 L200.14,477.88 L205.35,479.56 L210.56,480.06 L215.76,479.12 L220.97,480.11 L226.17,481.05 L231.38,480.06 L236.59,481.28 L241.79,482.43 L247.00,483.00 L252.20,483.00 L257.41,479.80 L262.62,481.84 L267.82,480.59 L273.03,482.04 L278.23,482.18 L283.44,482.14 L288.65,482.16 L293.85,483.00 L299.06,482.50 L304.26,481.60 L309.47,480.53 L314.68,482.93 L319.88,482.20 L325.09,481.94 L330.29,481.26 L335.50,482.16" fill="none" stroke="rgba(255,20,20,0.17)" stroke-width="1.1" stroke-linejoin="round" stroke-linecap="round"/>
<path d="M80.41,397.38 L85.61,406.19 L90.82,412.76 L96.02,417.81 L101.23,427.27 L106.44,432.39 L111.64,436.83 L116.85,439.62 L122.05,443.12 L127.26,448.00 L132.47,450.23 L137.67,453.70 L142.88,455.92 L148.08,458.96 L153.29,460.54 L158.50,462.35 L163.70,462.98 L168.91,463.47 L174.11,468.44 L179.32,467.52 L184.53,469.08 L189.73,469.17 L194.94,469.95 L200.14,470.98 L205.35,471.65 L210.56,473.86 L215.76,475.10 L220.97,472.57 L226.17,473.43 L231.38,475.79 L236.59,474.13 L241.79,475.02 L247.00,478.13 L252.20,475.37 L257.41,477.31 L262.62,475.59 L267.82,477.44 L273.03,477.67 L278.23,478.55 L283.44,477.49 L288.65,476.50 L293.85,478.14 L299.06,479.31 L304.26,475.79 L309.47,476.14 L314.68,477.25 L319.88,478.43 L325.09,479.09 L330.29,479.53 L335.50,477.60" fill="none" stroke="rgba(255,20,20,0.17)" stroke-width="1.1" stroke-linejoin="round" stroke-linecap="round"/>
<path d="M80.41,380.47 L85.61,386.27 L90.82,393.65 L96.02,400.25 L101.23,406.21 L106.44,412.84 L111.64,417.53 L116.85,422.65 L122.05,426.31 L127.26,431.52 L132.47,434.39 L137.67,437.99 L142.88,440.30 L148.08,444.23 L153.29,446.08 L158.50,448.49 L163.70,450.82 L168.91,452.72 L174.11,456.30 L179.32,457.24 L184.53,459.19 L189.73,459.67 L194.94,462.54 L200.14,463.22 L205.35,465.98 L210.56,466.23 L215.76,467.70 L220.97,468.08 L226.17,469.55 L231.38,469.90 L236.59,470.45 L241.79,472.31 L247.00,471.41 L252.20,473.26 L257.41,471.44 L262.62,472.82 L267.82,473.77 L273.03,474.73 L278.23,474.04 L283.44,475.39 L288.65,477.51 L293.85,475.77 L299.06,476.47 L304.26,479.20 L309.47,478.87 L314.68,476.31 L319.88,477.46 L325.09,478.63 L330.29,479.82 L335.50,479.34" fill="none" stroke="rgba(255,20,20,0.17)" stroke-width="1.1" stroke-linejoin="round" stroke-linecap="round"/>
<path d="M80.41,392.03 L85.61,395.37 L90.82,400.40 L96.02,405.91 L101.23,409.91 L106.44,413.16 L111.64,416.92 L116.85,418.84 L122.05,423.80 L127.26,427.09 L132.47,429.76 L137.67,431.75 L142.88,434.52 L148.08,436.53 L153.29,440.68 L158.50,439.36 L163.70,441.98 L168.91,445.59 L174.11,448.47 L179.32,448.96 L184.53,450.36 L189.73,454.28 L194.94,453.71 L200.14,456.43 L205.35,455.98 L210.56,456.37 L215.76,457.85 L220.97,461.23 L226.17,459.66 L231.38,461.07 L236.59,463.13 L241.79,463.23 L247.00,463.14 L252.20,465.59 L257.41,466.04 L262.62,467.23 L267.82,466.34 L273.03,469.94 L278.23,467.31 L283.44,470.02 L288.65,468.84 L293.85,471.63 L299.06,471.48 L304.26,471.62 L309.47,470.75 L314.68,473.35 L319.88,471.72 L325.09,473.19 L330.29,471.83 L335.50,473.55" fill="none" stroke="rgba(255,20,20,0.17)" stroke-width="1.1" stroke-linejoin="round" stroke-linecap="round"/>
<path d="M80.41,399.66 L85.61,380.71 L90.82,367.72 L96.02,356.74 L101.23,348.79 L106.44,345.53 L111.64,340.50 L116.85,339.14 L122.05,335.63 L127.26,334.44 L132.47,334.12 L137.67,333.97 L142.88,333.81 L148.08,333.03 L153.29,331.49 L158.50,331.67 L163.70,331.78 L168.91,332.10 L174.11,331.70 L179.32,331.16 L184.53,333.31 L189.73,331.83 L194.94,331.49 L200.14,332.30 L205.35,331.87 L210.56,331.61 L215.76,332.33 L220.97,332.35 L226.17,332.53 L231.38,332.20 L236.59,331.51 L241.79,330.90 L247.00,331.58 L252.20,331.72 L257.41,332.12 L262.62,331.37 L267.82,331.80 L273.03,330.67 L278.23,331.47 L283.44,330.82 L288.65,331.18 L293.85,331.51 L299.06,331.33 L304.26,332.11 L309.47,331.00 L314.68,331.63 L319.88,332.09 L325.09,331.45 L330.29,330.85 L335.50,331.50" fill="none" stroke="rgba(30,30,255,0.17)" stroke-width="1.1" stroke-linejoin="round" stroke-linecap="round"/>
<path d="M80.41,401.83 L85.61,412.02 L90.82,419.56 L96.02,425.97 L101.23,432.65 L106.44,438.35 L111.64,441.83 L116.85,447.88 L122.05,450.41 L127.26,454.39 L132.47,456.99 L137.67,461.03 L142.88,462.43 L148.08,464.69 L153.29,467.79 L158.50,468.64 L163.70,470.46 L168.91,471.66 L174.11,471.59 L179.32,474.43 L184.53,476.19 L189.73,477.03 L194.94,476.56 L200.14,477.35 L205.35,477.30 L210.56,477.29 L215.76,476.63 L220.97,478.32 L226.17,478.52 L231.38,479.89 L236.59,478.97 L241.79,478.49 L247.00,478.71 L252.20,481.87 L257.41,479.46 L262.62,478.97 L267.82,479.78 L273.03,481.99 L278.23,481.01 L283.44,480.29 L288.65,480.52 L293.85,481.70 L299.06,481.83 L304.26,480.21 L309.47,482.33 L314.68,479.87 L319.88,481.18 L325.09,480.96 L330.29,482.47 L335.50,481.83" fill="none" stroke="rgba(255,20,20,0.17)" stroke-width="1.1" stroke-linejoin="round" stroke-linecap="round"/>
<path d="M80.41,397.20 L85.61,391.01 L90.82,385.92 L96.02,381.70 L101.23,375.27 L106.44,370.92 L111.64,368.55 L116.85,364.32 L122.05,361.73 L127.26,358.81 L132.47,356.46 L137.67,355.17 L142.88,352.07 L148.08,349.87 L153.29,349.68 L158.50,345.92 L163.70,344.43 L168.91,343.39 L174.11,342.12 L179.32,342.06 L184.53,341.97 L189.73,341.32 L194.94,340.72 L200.14,339.30 L205.35,338.79 L210.56,337.66 L215.76,339.24 L220.97,335.39 L226.17,335.00 L231.38,336.41 L236.59,335.51 L241.79,335.35 L247.00,335.22 L252.20,335.33 L257.41,335.03 L262.62,335.36 L267.82,334.38 L273.03,334.36 L278.23,333.94 L283.44,334.71 L288.65,333.88 L293.85,333.75 L299.06,333.21 L304.26,334.41 L309.47,333.17 L314.68,332.65 L319.88,332.88 L325.09,333.56 L330.29,333.60 L335.50,333.35" fill="none" stroke="rgba(30,30,255,0.17)" stroke-width="1.1" stroke-linejoin="round" stroke-linecap="round"/>
<path d="M80.41,366.72 L85.61,358.24 L90.82,353.29 L96.02,347.21 L101.23,343.94 L106.44,341.07 L111.64,338.32 L116.85,337.41 L122.05,335.24 L127.26,334.42 L132.47,334.23 L137.67,334.19 L142.88,333.88 L148.08,333.35 L153.29,332.82 L158.50,332.48 L163.70,329.97 L168.91,331.67 L174.11,331.48 L179.32,332.67 L184.53,332.50 L189.73,332.15 L194.94,331.72 L200.14,332.65 L205.35,330.57 L210.56,332.25 L215.76,330.95 L220.97,333.61 L226.17,331.79 L231.38,331.56 L236.59,331.62 L241.79,331.30 L247.00,331.55 L252.20,331.64 L257.41,333.24 L262.62,332.32 L267.82,333.59 L273.03,331.27 L278.23,331.52 L283.44,331.91 L288.65,332.40 L293.85,332.21 L299.06,330.32 L304.26,330.41 L309.47,331.80 L314.68,330.75 L319.88,332.99 L325.09,333.27 L330.29,332.13 L335.50,332.44" fill="none" stroke="rgba(30,30,255,0.17)" stroke-width="1.1" stroke-linejoin="round" stroke-linecap="round"/>
<path d="M80.41,378.48 L85.61,386.29 L90.82,379.76 L96.02,388.88 L101.23,387.51 L106.44,388.09 L111.64,397.59 L116.85,394.94 L122.05,394.09 L127.26,392.90 L132.47,392.46 L137.67,396.01 L142.88,397.73 L148.08,399.04 L153.29,399.12 L158.50,396.56 L163.70,403.60 L168.91,415.60 L174.11,402.79 L179.32,402.68 L184.53,391.98 L189.73,406.54 L194.94,402.33 L200.14,400.93 L205.35,408.42 L210.56,406.69 L215.76,410.67 L220.97,404.41 L226.17,406.11 L231.38,404.99 L236.59,404.12 L241.79,405.12 L247.00,401.38 L252.20,402.72 L257.41,407.88 L262.62,411.29 L267.82,406.67 L273.03,415.11 L278.23,412.56 L283.44,404.61 L288.65,403.61 L293.85,397.58 L299.06,407.82 L304.26,409.09 L309.47,404.76 L314.68,402.11 L319.88,413.13 L325.09,404.89 L330.29,407.12 L335.50,400.39" fill="none" stroke="rgba(255,20,20,0.17)" stroke-width="1.1" stroke-linejoin="round" stroke-linecap="round"/>
<path d="M80.41,351.89 L85.61,348.12 L90.82,346.26 L96.02,343.87 L101.23,341.88 L106.44,340.91 L111.64,338.25 L116.85,338.16 L122.05,336.62 L127.26,335.81 L132.47,334.98 L137.67,334.37 L142.88,333.46 L148.08,333.51 L153.29,332.80 L158.50,331.93 L163.70,332.21 L168.91,331.94 L174.11,330.81 L179.32,332.94 L184.53,331.74 L189.73,332.05 L194.94,332.30 L200.14,330.60 L205.35,331.62 L210.56,332.05 L215.76,328.95 L220.97,330.16 L226.17,329.85 L231.38,330.97 L236.59,330.97 L241.79,329.92 L247.00,332.16 L252.20,331.61 L257.41,331.61 L262.62,330.53 L267.82,331.07 L273.03,331.58 L278.23,330.80 L283.44,329.93 L288.65,331.86 L293.85,330.16 L299.06,331.55 L304.26,329.71 L309.47,331.36 L314.68,330.82 L319.88,331.15 L325.09,330.21 L330.29,330.54 L335.50,330.85" fill="none" stroke="rgba(30,30,255,0.17)" stroke-width="1.1" stroke-linejoin="round" stroke-linecap="round"/>
<path d="M80.41,376.22 L85.61,365.62 L90.82,355.30 L96.02,348.19 L101.23,343.07 L106.44,339.77 L111.64,338.04 L116.85,337.82 L122.05,336.59 L127.26,334.57 L132.47,333.86 L137.67,331.74 L142.88,334.09 L148.08,332.32 L153.29,332.45 L158.50,334.24 L163.70,333.49 L168.91,332.67 L174.11,333.14 L179.32,332.85 L184.53,332.34 L189.73,333.32 L194.94,332.32 L200.14,333.17 L205.35,333.09 L210.56,332.24 L215.76,333.11 L220.97,332.43 L226.17,331.41 L231.38,332.64 L236.59,332.77 L241.79,332.08 L247.00,332.94 L252.20,331.81 L257.41,333.66 L262.62,332.17 L267.82,333.05 L273.03,333.28 L278.23,331.27 L283.44,333.32 L288.65,331.28 L293.85,332.14 L299.06,331.52 L304.26,333.42 L309.47,331.72 L314.68,331.52 L319.88,332.74 L325.09,332.75 L330.29,330.74 L335.50,332.52" fill="none" stroke="rgba(30,30,255,0.17)" stroke-width="1.1" stroke-linejoin="round" stroke-linecap="round"/>
<path d="M80.41,327.50 L335.50,327.50" fill="none" stroke="rgba(120,50,190,0.6)" stroke-width="1.3" stroke-linejoin="round" stroke-linecap="round"/>
<path d="M80.41,378.79 L85.61,366.78 L90.82,358.20 L96.02,352.74 L101.23,348.84 L106.44,346.11 L111.64,343.38 L116.85,341.82 L122.05,340.26 L127.26,338.86 L132.47,337.45 L137.67,336.61 L142.88,335.77 L148.08,334.92 L153.29,334.19 L158.50,333.71 L163.70,333.23 L168.91,332.75 L174.11,332.34 L179.32,332.04 L184.53,331.74 L189.73,331.44 L194.94,331.14 L200.14,330.84 L205.35,330.55 L210.56,330.27 L215.76,330.16 L220.97,330.06 L226.17,329.96 L231.38,329.85 L236.59,329.75 L241.79,329.65 L247.00,329.55 L252.20,329.44 L257.41,329.34 L262.62,329.31 L267.82,329.28 L273.03,329.25 L278.23,329.22 L283.44,329.18 L288.65,329.15 L293.85,329.12 L299.06,329.09 L304.26,329.06 L309.47,329.03 L314.68,329.00 L319.88,328.97 L325.09,328.93 L330.29,328.90 L335.50,328.87" fill="none" stroke="#0000ff" stroke-width="3.6" stroke-linejoin="round" stroke-linecap="round"/>
<path d="M80.41,378.79 L85.61,395.64 L90.82,407.64 L96.02,413.72 L101.23,419.59 L106.44,423.49 L111.64,427.26 L116.85,429.86 L122.05,432.46 L127.26,435.06 L132.47,437.48 L137.67,439.20 L142.88,440.92 L148.08,442.64 L153.29,444.23 L158.50,445.51 L163.70,446.79 L168.91,448.07 L174.11,449.14 L179.32,449.91 L184.53,450.68 L189.73,451.45 L194.94,452.22 L200.14,452.99 L205.35,453.76 L210.56,454.52 L215.76,455.21 L220.97,455.89 L226.17,456.58 L231.38,457.26 L236.59,457.65 L241.79,458.04 L247.00,458.43 L252.20,458.82 L257.41,459.21 L262.62,459.60 L267.82,459.76 L273.03,459.91 L278.23,460.07 L283.44,460.22 L288.65,460.38 L293.85,460.54 L299.06,460.73 L304.26,460.93 L309.47,461.12 L314.68,461.32 L319.88,461.51 L325.09,461.71 L330.29,461.90 L335.50,462.10" fill="none" stroke="#ff0000" stroke-width="3.6" stroke-linejoin="round" stroke-linecap="round"/>
<line x1="70.0" y1="405.0" x2="346.5" y2="405.0" stroke="#111" stroke-width="1.7" stroke-dasharray="6.2,4.6"/>
<line x1="70.7" y1="327.0" x2="70.7" y2="483.0" stroke="#333" stroke-width="1.3"/>
<line x1="62.300000000000004" y1="483.00" x2="70.7" y2="483.00" stroke="#333" stroke-width="1.3"/>
<text x="43.56" y="488.10" font-size="15" font-weight="normal" fill="#1a1a1a" textLength="10.47" lengthAdjust="spacingAndGlyphs">0</text>
<line x1="62.300000000000004" y1="405.00" x2="70.7" y2="405.00" stroke="#333" stroke-width="1.3"/>
<text x="31.06" y="410.10" font-size="15" font-weight="normal" fill="#1a1a1a" textLength="22.94" lengthAdjust="spacingAndGlyphs">0.5</text>
<line x1="62.300000000000004" y1="327.00" x2="70.7" y2="327.00" stroke="#333" stroke-width="1.3"/>
<text x="31.01" y="332.10" font-size="15" font-weight="normal" fill="#1a1a1a" textLength="22.94" lengthAdjust="spacingAndGlyphs">1.0</text>
<line x1="75.2" y1="489.1" x2="335.5" y2="489.1" stroke="#333" stroke-width="1.3"/>
<line x1="75.20" y1="489.1" x2="75.20" y2="497.3" stroke="#333" stroke-width="1.3"/>
<text x="69.96" y="516.40" font-size="15" font-weight="normal" fill="#1a1a1a" textLength="10.47" lengthAdjust="spacingAndGlyphs">0</text>
<line x1="127.26" y1="489.1" x2="127.26" y2="497.3" stroke="#333" stroke-width="1.3"/>
<text x="118.33" y="516.40" font-size="15" font-weight="normal" fill="#1a1a1a" textLength="17.29" lengthAdjust="spacingAndGlyphs">10</text>
<line x1="179.32" y1="489.1" x2="179.32" y2="497.3" stroke="#333" stroke-width="1.3"/>
<text x="170.05" y="516.40" font-size="15" font-weight="normal" fill="#1a1a1a" textLength="18.35" lengthAdjust="spacingAndGlyphs">20</text>
<line x1="231.38" y1="489.1" x2="231.38" y2="497.3" stroke="#333" stroke-width="1.3"/>
<text x="222.21" y="516.40" font-size="15" font-weight="normal" fill="#1a1a1a" textLength="18.35" lengthAdjust="spacingAndGlyphs">30</text>
<line x1="283.44" y1="489.1" x2="283.44" y2="497.3" stroke="#333" stroke-width="1.3"/>
<text x="274.40" y="516.40" font-size="15" font-weight="normal" fill="#1a1a1a" textLength="18.35" lengthAdjust="spacingAndGlyphs">40</text>
<line x1="335.50" y1="489.1" x2="335.50" y2="497.3" stroke="#333" stroke-width="1.3"/>
<text x="326.32" y="516.40" font-size="15" font-weight="normal" fill="#1a1a1a" textLength="18.35" lengthAdjust="spacingAndGlyphs">50</text>
<g transform="translate(14.80,508.00) rotate(-90)"><text x="-0.58" y="0.00" font-size="18.3" font-weight="normal" fill="#1a1a1a" textLength="207.55" lengthAdjust="spacingAndGlyphs"><tspan font-style="italic">P</tspan>(majority/payoff choice)</text></g>
<text x="187.59" y="546.80" font-size="18.5" font-weight="normal" fill="#1a1a1a" textLength="35.53" lengthAdjust="spacingAndGlyphs">Trial</text>
<path d="M418.30,402.61 L446.58,406.51 L474.86,408.43 L503.14,409.67 L531.42,415.02 L559.70,414.05 L587.98,393.32 L616.26,429.50 L644.54,413.30 L672.82,413.45" fill="none" stroke="rgba(255,20,20,0.17)" stroke-width="1.1" stroke-linejoin="round" stroke-linecap="round"/>
<path d="M418.30,350.63 L446.58,362.43 L474.86,368.69 L503.14,377.11 L531.42,381.74 L559.70,384.93 L587.98,388.79 L616.26,395.19 L644.54,392.62 L672.82,395.96" fill="none" stroke="rgba(30,30,255,0.17)" stroke-width="1.1" stroke-linejoin="round" stroke-linecap="round"/>
<path d="M418.30,415.27 L446.58,410.74 L474.86,406.35 L503.14,404.81 L531.42,404.48 L559.70,397.05 L587.98,399.19 L616.26,399.38 L644.54,397.50 L672.82,396.20" fill="none" stroke="rgba(255,20,20,0.17)" stroke-width="1.1" stroke-linejoin="round" stroke-linecap="round"/>
<path d="M418.30,342.60 L446.58,342.88 L474.86,346.53 L503.14,344.98 L531.42,344.92 L559.70,342.57 L587.98,344.87 L616.26,345.00 L644.54,344.42 L672.82,346.93" fill="none" stroke="rgba(255,20,20,0.17)" stroke-width="1.1" stroke-linejoin="round" stroke-linecap="round"/>
<path d="M418.30,423.14 L446.58,416.57 L474.86,411.28 L503.14,409.54 L531.42,403.18 L559.70,405.43 L587.98,400.61 L616.26,402.63 L644.54,402.83 L672.82,407.44" fill="none" stroke="rgba(255,20,20,0.17)" stroke-width="1.1" stroke-linejoin="round" stroke-linecap="round"/>
<path d="M418.30,350.13 L446.58,373.81 L474.86,387.88 L503.14,397.95 L531.42,404.09 L559.70,408.78 L587.98,405.16 L616.26,421.02 L644.54,409.59 L672.82,413.98" fill="none" stroke="rgba(30,30,255,0.17)" stroke-width="1.1" stroke-linejoin="round" stroke-linecap="round"/>
<path d="M418.30,356.29 L446.58,365.46 L474.86,374.84 L503.14,379.10 L531.42,375.18 L559.70,387.22 L587.98,386.00 L616.26,391.06 L644.54,393.74 L672.82,394.49" fill="none" stroke="rgba(30,30,255,0.17)" stroke-width="1.1" stroke-linejoin="round" stroke-linecap="round"/>
<path d="M418.30,390.05 L446.58,391.05 L474.86,384.46 L503.14,383.14 L531.42,384.32 L559.70,382.62 L587.98,380.95 L616.26,379.96 L644.54,378.75 L672.82,381.40" fill="none" stroke="rgba(30,30,255,0.17)" stroke-width="1.1" stroke-linejoin="round" stroke-linecap="round"/>
<path d="M418.30,384.91 L446.58,387.74 L474.86,389.48 L503.14,387.42 L531.42,390.15 L559.70,387.87 L587.98,386.52 L616.26,384.60 L644.54,389.35 L672.82,388.58" fill="none" stroke="rgba(30,30,255,0.17)" stroke-width="1.1" stroke-linejoin="round" stroke-linecap="round"/>
<path d="M418.30,440.44 L446.58,410.48 L474.86,409.14 L503.14,404.57 L531.42,404.04 L559.70,403.29 L587.98,401.11 L616.26,400.74 L644.54,404.40 L672.82,422.95" fill="none" stroke="rgba(255,20,20,0.17)" stroke-width="1.1" stroke-linejoin="round" stroke-linecap="round"/>
<path d="M418.30,354.79 L446.58,365.67 L474.86,372.45 L503.14,373.12 L531.42,377.30 L559.70,381.90 L587.98,383.22 L616.26,381.44 L644.54,385.12 L672.82,384.67" fill="none" stroke="rgba(30,30,255,0.17)" stroke-width="1.1" stroke-linejoin="round" stroke-linecap="round"/>
<path d="M418.30,409.80 L446.58,408.40 L474.86,408.58 L503.14,411.14 L531.42,408.04 L559.70,408.71 L587.98,407.83 L616.26,407.91 L644.54,412.23 L672.82,407.39" fill="none" stroke="rgba(255,20,20,0.17)" stroke-width="1.1" stroke-linejoin="round" stroke-linecap="round"/>
<path d="M418.30,347.52 L446.58,346.49 L474.86,348.34 L503.14,349.59 L531.42,349.80 L559.70,350.03 L587.98,345.23 L616.26,347.43 L644.54,349.62 L672.82,346.47" fill="none" stroke="rgba(30,30,255,0.17)" stroke-width="1.1" stroke-linejoin="round" stroke-linecap="round"/>
<path d="M418.30,379.14 L446.58,400.00 L474.86,393.99 L503.14,399.02 L531.42,396.94 L559.70,398.17 L587.98,397.77 L616.26,400.58 L644.54,402.97 L672.82,399.97" fill="none" stroke="rgba(30,30,255,0.17)" stroke-width="1.1" stroke-linejoin="round" stroke-linecap="round"/>
<path d="M418.30,437.93 L446.58,428.15 L474.86,413.45 L503.14,409.01 L531.42,408.42 L559.70,407.33 L587.98,404.11 L616.26,403.60 L644.54,401.63 L672.82,403.85" fill="none" stroke="rgba(255,20,20,0.17)" stroke-width="1.1" stroke-linejoin="round" stroke-linecap="round"/>
<path d="M418.30,437.88 L446.58,419.85 L474.86,417.76 L503.14,408.53 L531.42,405.09 L559.70,405.11 L587.98,402.99 L616.26,384.61 L644.54,399.50 L672.82,406.66" fill="none" stroke="rgba(255,20,20,0.17)" stroke-width="1.1" stroke-linejoin="round" stroke-linecap="round"/>
<path d="M418.30,374.43 L446.58,372.11 L474.86,367.29 L503.14,366.56 L531.42,367.96 L559.70,365.25 L587.98,365.62 L616.26,364.36 L644.54,362.84 L672.82,366.81" fill="none" stroke="rgba(30,30,255,0.17)" stroke-width="1.1" stroke-linejoin="round" stroke-linecap="round"/>
<path d="M418.30,357.30 L446.58,363.08 L474.86,360.37 L503.14,364.18 L531.42,369.57 L559.70,367.86 L587.98,370.52 L616.26,371.30 L644.54,369.72 L672.82,371.00" fill="none" stroke="rgba(30,30,255,0.17)" stroke-width="1.1" stroke-linejoin="round" stroke-linecap="round"/>
<path d="M418.30,368.91 L446.58,366.05 L474.86,369.99 L503.14,365.50 L531.42,367.52 L559.70,365.99 L587.98,365.97 L616.26,363.99 L644.54,363.80 L672.82,364.06" fill="none" stroke="rgba(30,30,255,0.17)" stroke-width="1.1" stroke-linejoin="round" stroke-linecap="round"/>
<path d="M418.30,431.26 L446.58,426.30 L474.86,416.48 L503.14,416.53 L531.42,411.05 L559.70,409.65 L587.98,409.53 L616.26,408.57 L644.54,406.93 L672.82,405.42" fill="none" stroke="rgba(255,20,20,0.17)" stroke-width="1.1" stroke-linejoin="round" stroke-linecap="round"/>
<path d="M418.30,398.54 L446.58,400.73 L474.86,400.82 L503.14,403.19 L531.42,401.94 L559.70,403.31 L587.98,402.42 L616.26,403.47 L644.54,404.14 L672.82,401.55" fill="none" stroke="rgba(255,20,20,0.17)" stroke-width="1.1" stroke-linejoin="round" stroke-linecap="round"/>
<path d="M418.30,358.35 L446.58,374.60 L474.86,378.26 L503.14,389.34 L531.42,394.44 L559.70,398.03 L587.98,402.19 L616.26,408.83 L644.54,396.39 L672.82,410.89" fill="none" stroke="rgba(30,30,255,0.17)" stroke-width="1.1" stroke-linejoin="round" stroke-linecap="round"/>
<path d="M418.30,420.56 L446.58,421.94 L474.86,412.95 L503.14,412.95 L531.42,415.24 L559.70,410.98 L587.98,411.31 L616.26,414.27 L644.54,410.57 L672.82,415.54" fill="none" stroke="rgba(255,20,20,0.17)" stroke-width="1.1" stroke-linejoin="round" stroke-linecap="round"/>
<path d="M418.30,338.77 L446.58,352.52 L474.86,358.15 L503.14,360.68 L531.42,370.76 L559.70,372.66 L587.98,380.84 L616.26,380.13 L644.54,383.54 L672.82,382.92" fill="none" stroke="rgba(30,30,255,0.17)" stroke-width="1.1" stroke-linejoin="round" stroke-linecap="round"/>
<path d="M418.30,341.78 L446.58,362.15 L474.86,373.72 L503.14,378.78 L531.42,384.58 L559.70,389.47 L587.98,391.46 L616.26,394.90 L644.54,395.05 L672.82,395.29" fill="none" stroke="rgba(30,30,255,0.17)" stroke-width="1.1" stroke-linejoin="round" stroke-linecap="round"/>
<path d="M418.30,438.28 L446.58,429.04 L474.86,426.14 L503.14,417.74 L531.42,415.62 L559.70,416.03 L587.98,411.44 L616.26,410.49 L644.54,410.78 L672.82,409.47" fill="none" stroke="rgba(255,20,20,0.17)" stroke-width="1.1" stroke-linejoin="round" stroke-linecap="round"/>
<path d="M418.30,448.52 L446.58,435.96 L474.86,425.26 L503.14,429.84 L531.42,420.09 L559.70,418.43 L587.98,411.96 L616.26,412.25 L644.54,412.88 L672.82,411.60" fill="none" stroke="rgba(255,20,20,0.17)" stroke-width="1.1" stroke-linejoin="round" stroke-linecap="round"/>
<path d="M418.30,357.52 L446.58,362.69 L474.86,362.60 L503.14,365.41 L531.42,370.26 L559.70,371.93 L587.98,371.85 L616.26,371.64 L644.54,372.29 L672.82,372.48" fill="none" stroke="rgba(30,30,255,0.17)" stroke-width="1.1" stroke-linejoin="round" stroke-linecap="round"/>
<path d="M418.30,373.73 L446.58,377.17 L474.86,380.88 L503.14,384.48 L531.42,385.57 L559.70,384.85 L587.98,388.75 L616.26,384.27 L644.54,389.14 L672.82,388.79" fill="none" stroke="rgba(30,30,255,0.17)" stroke-width="1.1" stroke-linejoin="round" stroke-linecap="round"/>
<path d="M418.30,387.13 L446.58,382.90 L474.86,379.31 L503.14,375.23 L531.42,372.18 L559.70,369.12 L587.98,368.26 L616.26,364.86 L644.54,363.23 L672.82,364.62" fill="none" stroke="rgba(30,30,255,0.17)" stroke-width="1.1" stroke-linejoin="round" stroke-linecap="round"/>
<path d="M418.30,369.67 L446.58,375.83 L474.86,381.89 L503.14,384.75 L531.42,387.88 L559.70,388.77 L587.98,393.26 L616.26,393.37 L644.54,396.48 L672.82,380.05" fill="none" stroke="rgba(30,30,255,0.17)" stroke-width="1.1" stroke-linejoin="round" stroke-linecap="round"/>
<path d="M418.30,457.03 L446.58,444.53 L474.86,435.68 L503.14,429.80 L531.42,429.51 L559.70,424.39 L587.98,423.55 L616.26,426.98 L644.54,421.40 L672.82,420.55" fill="none" stroke="rgba(255,20,20,0.17)" stroke-width="1.1" stroke-linejoin="round" stroke-linecap="round"/>
<path d="M418.30,389.08 L446.58,377.62 L474.86,377.00 L503.14,373.35 L531.42,367.54 L559.70,366.79 L587.98,368.55 L616.26,364.57 L644.54,365.63 L672.82,368.04" fill="none" stroke="rgba(30,30,255,0.17)" stroke-width="1.1" stroke-linejoin="round" stroke-linecap="round"/>
<path d="M418.30,419.52 L446.58,412.82 L474.86,409.26 L503.14,408.44 L531.42,406.40 L559.70,405.21 L587.98,404.11 L616.26,402.86 L644.54,404.59 L672.82,398.75" fill="none" stroke="rgba(255,20,20,0.17)" stroke-width="1.1" stroke-linejoin="round" stroke-linecap="round"/>
<path d="M418.30,336.60 L446.58,350.06 L474.86,357.57 L503.14,366.36 L531.42,373.62 L559.70,379.06 L587.98,381.21 L616.26,402.26 L644.54,387.64 L672.82,390.58" fill="none" stroke="rgba(30,30,255,0.17)" stroke-width="1.1" stroke-linejoin="round" stroke-linecap="round"/>
<path d="M418.30,462.72 L446.58,435.06 L474.86,424.34 L503.14,412.16 L531.42,408.07 L559.70,407.64 L587.98,408.77 L616.26,402.33 L644.54,398.15 L672.82,406.89" fill="none" stroke="rgba(255,20,20,0.17)" stroke-width="1.1" stroke-linejoin="round" stroke-linecap="round"/>
<path d="M418.30,410.54 L446.58,403.16 L474.86,403.09 L503.14,398.97 L531.42,398.31 L559.70,395.26 L587.98,395.83 L616.26,398.79 L644.54,397.80 L672.82,397.55" fill="none" stroke="rgba(255,20,20,0.17)" stroke-width="1.1" stroke-linejoin="round" stroke-linecap="round"/>
<path d="M418.30,327.78 L446.58,327.68 L474.86,329.47 L503.14,330.74 L531.42,329.40 L559.70,330.55 L587.98,330.32 L616.26,331.56 L644.54,329.96 L672.82,331.65" fill="none" stroke="rgba(30,30,255,0.17)" stroke-width="1.1" stroke-linejoin="round" stroke-linecap="round"/>
<path d="M418.30,436.36 L446.58,425.04 L474.86,424.99 L503.14,412.98 L531.42,413.99 L559.70,411.17 L587.98,413.18 L616.26,410.45 L644.54,410.19 L672.82,409.21" fill="none" stroke="rgba(255,20,20,0.17)" stroke-width="1.1" stroke-linejoin="round" stroke-linecap="round"/>
<path d="M418.30,445.12 L446.58,429.59 L474.86,427.13 L503.14,416.16 L531.42,411.52 L559.70,404.90 L587.98,406.89 L616.26,407.74 L644.54,404.41 L672.82,405.66" fill="none" stroke="rgba(255,20,20,0.17)" stroke-width="1.1" stroke-linejoin="round" stroke-linecap="round"/>
<path d="M418.30,338.92 L446.58,361.80 L474.86,378.17 L503.14,391.25 L531.42,395.95 L559.70,397.89 L587.98,401.15 L616.26,402.57 L644.54,403.88 L672.82,407.10" fill="none" stroke="rgba(30,30,255,0.17)" stroke-width="1.1" stroke-linejoin="round" stroke-linecap="round"/>
<path d="M418.30,349.50 L446.58,337.28 L474.86,345.83 L503.14,348.73 L531.42,343.74 L559.70,343.12 L587.98,344.89 L616.26,341.52 L644.54,338.09 L672.82,345.98" fill="none" stroke="rgba(30,30,255,0.17)" stroke-width="1.1" stroke-linejoin="round" stroke-linecap="round"/>
<path d="M418.30,368.26 L446.58,372.33 L474.86,373.67 L503.14,378.47 L531.42,366.78 L559.70,378.82 L587.98,383.46 L616.26,380.94 L644.54,381.57 L672.82,384.58" fill="none" stroke="rgba(30,30,255,0.17)" stroke-width="1.1" stroke-linejoin="round" stroke-linecap="round"/>
<path d="M418.30,449.65 L446.58,437.00 L474.86,425.87 L503.14,420.22 L531.42,413.74 L559.70,417.32 L587.98,413.41 L616.26,413.69 L644.54,410.35 L672.82,410.21" fill="none" stroke="rgba(255,20,20,0.17)" stroke-width="1.1" stroke-linejoin="round" stroke-linecap="round"/>
<path d="M418.30,415.98 L446.58,413.51 L474.86,416.45 L503.14,413.93 L531.42,417.74 L559.70,411.90 L587.98,416.50 L616.26,414.08 L644.54,411.00 L672.82,410.62" fill="none" stroke="rgba(255,20,20,0.17)" stroke-width="1.1" stroke-linejoin="round" stroke-linecap="round"/>
<path d="M418.30,410.66 L446.58,406.00 L474.86,409.84 L503.14,408.21 L531.42,412.99 L559.70,408.47 L587.98,411.88 L616.26,405.73 L644.54,410.36 L672.82,410.19" fill="none" stroke="rgba(255,20,20,0.17)" stroke-width="1.1" stroke-linejoin="round" stroke-linecap="round"/>
<path d="M418.30,424.62 L446.58,417.60 L474.86,411.34 L503.14,406.42 L531.42,394.24 L559.70,398.13 L587.98,403.09 L616.26,403.57 L644.54,398.08 L672.82,399.05" fill="none" stroke="rgba(255,20,20,0.17)" stroke-width="1.1" stroke-linejoin="round" stroke-linecap="round"/>
<path d="M418.30,372.15 L446.58,374.59 L474.86,380.87 L503.14,382.59 L531.42,385.10 L559.70,382.56 L587.98,382.97 L616.26,385.76 L644.54,386.05 L672.82,383.81" fill="none" stroke="rgba(30,30,255,0.17)" stroke-width="1.1" stroke-linejoin="round" stroke-linecap="round"/>
<path d="M418.30,418.96 L446.58,410.05 L474.86,399.98 L503.14,408.96 L531.42,403.36 L559.70,404.80 L587.98,402.84 L616.26,404.08 L644.54,382.63 L672.82,401.22" fill="none" stroke="rgba(255,20,20,0.17)" stroke-width="1.1" stroke-linejoin="round" stroke-linecap="round"/>
<path d="M418.30,378.37 L446.58,377.08 L474.86,373.76 L503.14,375.46 L531.42,373.71 L559.70,373.00 L587.98,372.26 L616.26,373.00 L644.54,372.55 L672.82,370.67" fill="none" stroke="rgba(30,30,255,0.17)" stroke-width="1.1" stroke-linejoin="round" stroke-linecap="round"/>
<path d="M418.30,389.40 L446.58,392.65 L474.86,396.43 L503.14,415.03 L531.42,397.06 L559.70,394.88 L587.98,394.31 L616.26,399.42 L644.54,398.32 L672.82,400.44" fill="none" stroke="rgba(255,20,20,0.17)" stroke-width="1.1" stroke-linejoin="round" stroke-linecap="round"/>
<path d="M418.30,440.84 L446.58,432.10 L474.86,423.67 L503.14,421.83 L531.42,434.68 L559.70,410.75 L587.98,415.13 L616.26,414.42 L644.54,413.40 L672.82,413.57" fill="none" stroke="rgba(255,20,20,0.17)" stroke-width="1.1" stroke-linejoin="round" stroke-linecap="round"/>
<path d="M418.30,377.84 L446.58,384.45 L474.86,388.70 L503.14,391.54 L531.42,390.94 L559.70,395.65 L587.98,396.02 L616.26,399.29 L644.54,395.51 L672.82,397.62" fill="none" stroke="rgba(30,30,255,0.17)" stroke-width="1.1" stroke-linejoin="round" stroke-linecap="round"/>
<path d="M418.30,430.67 L446.58,417.05 L474.86,412.56 L503.14,412.09 L531.42,410.27 L559.70,408.61 L587.98,407.65 L616.26,410.26 L644.54,407.31 L672.82,408.91" fill="none" stroke="rgba(255,20,20,0.17)" stroke-width="1.1" stroke-linejoin="round" stroke-linecap="round"/>
<path d="M418.30,428.68 L446.58,411.82 L474.86,407.28 L503.14,401.83 L531.42,404.78 L559.70,400.72 L587.98,405.60 L616.26,385.00 L644.54,404.69 L672.82,383.84" fill="none" stroke="rgba(255,20,20,0.17)" stroke-width="1.1" stroke-linejoin="round" stroke-linecap="round"/>
<path d="M418.30,415.52 L446.58,413.06 L474.86,413.05 L503.14,413.90 L531.42,409.35 L559.70,411.69 L587.98,411.47 L616.26,406.49 L644.54,409.77 L672.82,408.60" fill="none" stroke="rgba(255,20,20,0.17)" stroke-width="1.1" stroke-linejoin="round" stroke-linecap="round"/>
<path d="M418.30,357.97 L446.58,368.84 L474.86,380.03 L503.14,385.05 L531.42,387.93 L559.70,394.94 L587.98,397.25 L616.26,396.25 L644.54,393.82 L672.82,412.22" fill="none" stroke="rgba(30,30,255,0.17)" stroke-width="1.1" stroke-linejoin="round" stroke-linecap="round"/>
<path d="M418.30,358.31 L446.58,370.32 L474.86,382.55 L503.14,390.27 L531.42,393.38 L559.70,400.62 L587.98,405.63 L616.26,407.89 L644.54,409.18 L672.82,412.28" fill="none" stroke="rgba(30,30,255,0.17)" stroke-width="1.1" stroke-linejoin="round" stroke-linecap="round"/>
<path d="M418.30,435.16 L446.58,422.10 L474.86,414.14 L503.14,405.13 L531.42,401.53 L559.70,399.41 L587.98,398.51 L616.26,399.93 L644.54,400.95 L672.82,397.80" fill="none" stroke="rgba(255,20,20,0.17)" stroke-width="1.1" stroke-linejoin="round" stroke-linecap="round"/>
<path d="M418.30,349.78 L446.58,358.62 L474.86,365.39 L503.14,371.43 L531.42,374.00 L559.70,377.73 L587.98,382.13 L616.26,384.59 L644.54,382.66 L672.82,383.82" fill="none" stroke="rgba(30,30,255,0.17)" stroke-width="1.1" stroke-linejoin="round" stroke-linecap="round"/>
<path d="M418.30,440.48 L446.58,427.00 L474.86,419.30 L503.14,414.34 L531.42,416.03 L559.70,409.43 L587.98,409.03 L616.26,408.52 L644.54,410.93 L672.82,411.23" fill="none" stroke="rgba(255,20,20,0.17)" stroke-width="1.1" stroke-linejoin="round" stroke-linecap="round"/>
<path d="M418.30,374.13 L446.58,379.90 L474.86,384.17 L503.14,389.35 L531.42,391.02 L559.70,388.11 L587.98,395.81 L616.26,394.26 L644.54,393.50 L672.82,394.11" fill="none" stroke="rgba(30,30,255,0.17)" stroke-width="1.1" stroke-linejoin="round" stroke-linecap="round"/>
<path d="M418.30,372.55 L446.58,377.89 L474.86,378.21 L503.14,383.29 L531.42,381.78 L559.70,385.86 L587.98,378.14 L616.26,387.46 L644.54,389.84 L672.82,391.74" fill="none" stroke="rgba(30,30,255,0.17)" stroke-width="1.1" stroke-linejoin="round" stroke-linecap="round"/>
<path d="M418.30,357.14 L446.58,370.42 L474.86,375.83 L503.14,387.44 L531.42,390.36 L559.70,392.76 L587.98,395.18 L616.26,394.18 L644.54,392.83 L672.82,394.00" fill="none" stroke="rgba(30,30,255,0.17)" stroke-width="1.1" stroke-linejoin="round" stroke-linecap="round"/>
<path d="M418.30,389.40 L446.58,395.28 L474.86,396.84 L503.14,400.89 L531.42,395.08 L559.70,399.80 L587.98,401.40 L616.26,399.77 L644.54,400.04 L672.82,400.35" fill="none" stroke="rgba(255,20,20,0.17)" stroke-width="1.1" stroke-linejoin="round" stroke-linecap="round"/>
<path d="M418.30,367.89 L446.58,378.25 L474.86,380.22 L503.14,388.89 L531.42,393.19 L559.70,399.32 L587.98,412.79 L616.26,404.01 L644.54,405.01 L672.82,408.69" fill="none" stroke="rgba(30,30,255,0.17)" stroke-width="1.1" stroke-linejoin="round" stroke-linecap="round"/>
<path d="M418.30,357.93 L446.58,364.03 L474.86,370.85 L503.14,372.95 L531.42,379.72 L559.70,378.20 L587.98,379.66 L616.26,382.25 L644.54,382.61 L672.82,383.98" fill="none" stroke="rgba(30,30,255,0.17)" stroke-width="1.1" stroke-linejoin="round" stroke-linecap="round"/>
<path d="M418.30,402.28 L446.58,406.11 L474.86,401.90 L503.14,401.40 L531.42,387.55 L559.70,399.67 L587.98,399.57 L616.26,402.63 L644.54,401.65 L672.82,404.44" fill="none" stroke="rgba(255,20,20,0.17)" stroke-width="1.1" stroke-linejoin="round" stroke-linecap="round"/>
<path d="M418.30,377.69 L446.58,357.14 L474.86,372.38 L503.14,370.38 L531.42,367.83 L559.70,368.68 L587.98,369.61 L616.26,383.03 L644.54,367.60 L672.82,385.85" fill="none" stroke="rgba(30,30,255,0.17)" stroke-width="1.1" stroke-linejoin="round" stroke-linecap="round"/>
<path d="M418.30,359.08 L446.58,365.22 L474.86,366.45 L503.14,365.75 L531.42,371.15 L559.70,370.99 L587.98,374.45 L616.26,371.49 L644.54,369.91 L672.82,389.87" fill="none" stroke="rgba(30,30,255,0.17)" stroke-width="1.1" stroke-linejoin="round" stroke-linecap="round"/>
<path d="M418.30,355.20 L446.58,366.08 L474.86,374.41 L503.14,367.49 L531.42,386.00 L559.70,388.29 L587.98,392.37 L616.26,397.80 L644.54,400.06 L672.82,399.67" fill="none" stroke="rgba(30,30,255,0.17)" stroke-width="1.1" stroke-linejoin="round" stroke-linecap="round"/>
<path d="M418.30,370.68 L446.58,372.92 L474.86,372.81 L503.14,371.29 L531.42,371.54 L559.70,373.01 L587.98,371.49 L616.26,372.74 L644.54,370.56 L672.82,373.91" fill="none" stroke="rgba(255,20,20,0.17)" stroke-width="1.1" stroke-linejoin="round" stroke-linecap="round"/>
<path d="M418.30,447.48 L446.58,424.68 L474.86,413.96 L503.14,408.05 L531.42,408.93 L559.70,408.15 L587.98,406.37 L616.26,408.13 L644.54,406.13 L672.82,409.23" fill="none" stroke="rgba(255,20,20,0.17)" stroke-width="1.1" stroke-linejoin="round" stroke-linecap="round"/>
<path d="M418.30,404.64 L446.58,406.57 L474.86,406.45 L503.14,407.18 L531.42,404.29 L559.70,407.09 L587.98,403.71 L616.26,406.09 L644.54,404.57 L672.82,407.27" fill="none" stroke="rgba(255,20,20,0.17)" stroke-width="1.1" stroke-linejoin="round" stroke-linecap="round"/>
<path d="M418.30,340.35 L446.58,348.12 L474.86,355.72 L503.14,362.12 L531.42,365.75 L559.70,374.40 L587.98,370.62 L616.26,373.62 L644.54,376.07 L672.82,382.07" fill="none" stroke="rgba(30,30,255,0.17)" stroke-width="1.1" stroke-linejoin="round" stroke-linecap="round"/>
<path d="M418.30,421.82 L446.58,412.89 L474.86,408.42 L503.14,404.17 L531.42,402.99 L559.70,399.15 L587.98,398.46 L616.26,400.75 L644.54,395.58 L672.82,393.78" fill="none" stroke="rgba(255,20,20,0.17)" stroke-width="1.1" stroke-linejoin="round" stroke-linecap="round"/>
<path d="M418.30,351.58 L446.58,365.12 L474.86,373.79 L503.14,381.86 L531.42,388.97 L559.70,396.21 L587.98,396.29 L616.26,406.00 L644.54,409.03 L672.82,407.85" fill="none" stroke="rgba(30,30,255,0.17)" stroke-width="1.1" stroke-linejoin="round" stroke-linecap="round"/>
<path d="M418.30,421.70 L446.58,423.77 L474.86,426.31 L503.14,426.29 L531.42,427.75 L559.70,427.77 L587.98,426.56 L616.26,430.10 L644.54,410.25 L672.82,428.76" fill="none" stroke="rgba(255,20,20,0.17)" stroke-width="1.1" stroke-linejoin="round" stroke-linecap="round"/>
<path d="M418.30,362.54 L446.58,362.94 L474.86,368.54 L503.14,368.27 L531.42,369.39 L559.70,390.32 L587.98,356.27 L616.26,370.85 L644.54,371.95 L672.82,372.87" fill="none" stroke="rgba(30,30,255,0.17)" stroke-width="1.1" stroke-linejoin="round" stroke-linecap="round"/>
<path d="M418.30,371.82 L446.58,377.30 L474.86,382.90 L503.14,390.62 L531.42,394.93 L559.70,400.22 L587.98,400.60 L616.26,401.71 L644.54,407.38 L672.82,407.74" fill="none" stroke="rgba(30,30,255,0.17)" stroke-width="1.1" stroke-linejoin="round" stroke-linecap="round"/>
<path d="M418.30,436.36 L446.58,420.19 L474.86,415.60 L503.14,418.78 L531.42,418.07 L559.70,416.49 L587.98,415.93 L616.26,415.29 L644.54,413.13 L672.82,414.78" fill="none" stroke="rgba(255,20,20,0.17)" stroke-width="1.1" stroke-linejoin="round" stroke-linecap="round"/>
<path d="M418.30,360.95 L446.58,360.30 L474.86,357.88 L503.14,359.50 L531.42,354.17 L559.70,342.45 L587.98,357.86 L616.26,354.07 L644.54,355.61 L672.82,354.59" fill="none" stroke="rgba(30,30,255,0.17)" stroke-width="1.1" stroke-linejoin="round" stroke-linecap="round"/>
<path d="M418.30,402.06 L446.58,407.92 L474.86,408.79 L503.14,416.03 L531.42,410.41 L559.70,411.71 L587.98,412.76 L616.26,412.30 L644.54,414.37 L672.82,425.50" fill="none" stroke="rgba(255,20,20,0.17)" stroke-width="1.1" stroke-linejoin="round" stroke-linecap="round"/>
<path d="M418.30,413.24 L446.58,412.57 L474.86,410.58 L503.14,414.49 L531.42,415.26 L559.70,413.33 L587.98,413.94 L616.26,413.11 L644.54,412.04 L672.82,412.54" fill="none" stroke="rgba(255,20,20,0.17)" stroke-width="1.1" stroke-linejoin="round" stroke-linecap="round"/>
<path d="M418.30,403.14 L446.58,403.74 L474.86,402.02 L503.14,401.72 L531.42,401.53 L559.70,404.08 L587.98,400.69 L616.26,401.98 L644.54,402.97 L672.82,399.42" fill="none" stroke="rgba(255,20,20,0.17)" stroke-width="1.1" stroke-linejoin="round" stroke-linecap="round"/>
<path d="M418.30,344.90 L446.58,362.09 L474.86,368.21 L503.14,376.81 L531.42,383.10 L559.70,386.12 L587.98,388.90 L616.26,389.42 L644.54,392.34 L672.82,394.26" fill="none" stroke="rgba(30,30,255,0.17)" stroke-width="1.1" stroke-linejoin="round" stroke-linecap="round"/>
<path d="M418.30,337.69 L446.58,360.88 L474.86,374.66 L503.14,388.11 L531.42,390.29 L559.70,398.65 L587.98,405.86 L616.26,406.36 L644.54,409.44 L672.82,413.22" fill="none" stroke="rgba(30,30,255,0.17)" stroke-width="1.1" stroke-linejoin="round" stroke-linecap="round"/>
<path d="M418.30,393.57 L446.58,390.26 L474.86,394.85 L503.14,391.37 L531.42,393.76 L559.70,393.87 L587.98,394.99 L616.26,392.82 L644.54,394.01 L672.82,391.62" fill="none" stroke="rgba(255,20,20,0.17)" stroke-width="1.1" stroke-linejoin="round" stroke-linecap="round"/>
<path d="M418.30,432.59 L446.58,429.04 L474.86,427.34 L503.14,425.63 L531.42,421.16 L559.70,424.42 L587.98,419.70 L616.26,426.25 L644.54,420.17 L672.82,426.41" fill="none" stroke="rgba(255,20,20,0.17)" stroke-width="1.1" stroke-linejoin="round" stroke-linecap="round"/>
<path d="M418.30,429.34 L446.58,418.10 L474.86,414.90 L503.14,409.45 L531.42,413.04 L559.70,412.22 L587.98,401.11 L616.26,413.32 L644.54,398.65 L672.82,410.45" fill="none" stroke="rgba(255,20,20,0.17)" stroke-width="1.1" stroke-linejoin="round" stroke-linecap="round"/>
<path d="M418.30,328.56 L446.58,330.24 L474.86,335.01 L503.14,336.16 L531.42,336.06 L559.70,336.53 L587.98,337.11 L616.26,337.47 L644.54,338.42 L672.82,337.04" fill="none" stroke="rgba(30,30,255,0.17)" stroke-width="1.1" stroke-linejoin="round" stroke-linecap="round"/>
<path d="M418.30,365.42 L446.58,379.87 L474.86,391.15 L503.14,391.52 L531.42,400.50 L559.70,401.60 L587.98,403.89 L616.26,407.98 L644.54,400.84 L672.82,408.98" fill="none" stroke="rgba(30,30,255,0.17)" stroke-width="1.1" stroke-linejoin="round" stroke-linecap="round"/>
<path d="M418.30,359.42 L446.58,373.54 L474.86,386.35 L503.14,390.41 L531.42,395.32 L559.70,391.85 L587.98,397.28 L616.26,396.04 L644.54,400.77 L672.82,397.94" fill="none" stroke="rgba(30,30,255,0.17)" stroke-width="1.1" stroke-linejoin="round" stroke-linecap="round"/>
<path d="M418.30,412.55 L446.58,407.10 L474.86,409.54 L503.14,407.27 L531.42,405.91 L559.70,406.90 L587.98,405.80 L616.26,406.89 L644.54,411.59 L672.82,409.82" fill="none" stroke="rgba(255,20,20,0.17)" stroke-width="1.1" stroke-linejoin="round" stroke-linecap="round"/>
<path d="M418.30,398.05 L446.58,407.91 L474.86,407.09 L503.14,410.39 L531.42,411.23 L559.70,415.58 L587.98,410.90 L616.26,404.19 L644.54,414.16 L672.82,415.64" fill="none" stroke="rgba(255,20,20,0.17)" stroke-width="1.1" stroke-linejoin="round" stroke-linecap="round"/>
<path d="M418.30,369.09 L446.58,367.82 L474.86,369.00 L503.14,368.69 L531.42,366.21 L559.70,367.26 L587.98,368.46 L616.26,363.71 L644.54,367.06 L672.82,365.75" fill="none" stroke="rgba(30,30,255,0.17)" stroke-width="1.1" stroke-linejoin="round" stroke-linecap="round"/>
<path d="M418.30,365.72 L446.58,372.66 L474.86,379.23 L503.14,398.02 L531.42,385.17 L559.70,383.32 L587.98,391.49 L616.26,389.96 L644.54,390.52 L672.82,388.64" fill="none" stroke="rgba(30,30,255,0.17)" stroke-width="1.1" stroke-linejoin="round" stroke-linecap="round"/>
<path d="M418.30,408.87 L446.58,408.01 L474.86,408.14 L503.14,416.08 L531.42,429.65 L559.70,413.47 L587.98,409.80 L616.26,415.35 L644.54,409.99 L672.82,416.11" fill="none" stroke="rgba(255,20,20,0.17)" stroke-width="1.1" stroke-linejoin="round" stroke-linecap="round"/>
<path d="M418.30,352.74 L446.58,367.09 L474.86,372.55 L503.14,378.32 L531.42,381.44 L559.70,383.78 L587.98,385.97 L616.26,387.37 L644.54,388.00 L672.82,389.40" fill="none" stroke="#0000ff" stroke-width="3.6" stroke-linejoin="round" stroke-linecap="round"/>
<path d="M418.30,420.29 L446.58,411.55 L474.86,410.15 L503.14,409.06 L531.42,407.96 L559.70,406.40 L587.98,405.62 L616.26,405.47 L644.54,405.16 L672.82,405.00" fill="none" stroke="#ff0000" stroke-width="3.6" stroke-linejoin="round" stroke-linecap="round"/>
<line x1="407.6" y1="405.0" x2="690" y2="405.0" stroke="#111" stroke-width="1.7" stroke-dasharray="6.2,4.6"/>
<line x1="407.0" y1="489.3" x2="672.82" y2="489.3" stroke="#333" stroke-width="1.3"/>
<line x1="446.58" y1="489.3" x2="446.58" y2="497.5" stroke="#333" stroke-width="1.3"/>
<text x="437.49" y="516.40" font-size="15" font-weight="normal" fill="#1a1a1a" textLength="18.35" lengthAdjust="spacingAndGlyphs">52</text>
<line x1="503.14" y1="489.3" x2="503.14" y2="497.5" stroke="#333" stroke-width="1.3"/>
<text x="493.87" y="516.40" font-size="15" font-weight="normal" fill="#1a1a1a" textLength="18.35" lengthAdjust="spacingAndGlyphs">54</text>
<line x1="559.70" y1="489.3" x2="559.70" y2="497.5" stroke="#333" stroke-width="1.3"/>
<text x="550.56" y="516.40" font-size="15" font-weight="normal" fill="#1a1a1a" textLength="18.35" lengthAdjust="spacingAndGlyphs">56</text>
<line x1="616.26" y1="489.3" x2="616.26" y2="497.5" stroke="#333" stroke-width="1.3"/>
<text x="607.11" y="516.40" font-size="15" font-weight="normal" fill="#1a1a1a" textLength="18.35" lengthAdjust="spacingAndGlyphs">58</text>
<line x1="672.82" y1="489.3" x2="672.82" y2="497.5" stroke="#333" stroke-width="1.3"/>
<text x="663.55" y="516.40" font-size="15" font-weight="normal" fill="#1a1a1a" textLength="18.35" lengthAdjust="spacingAndGlyphs">60</text>
<text x="522.58" y="546.40" font-size="18.5" font-weight="normal" fill="#1a1a1a" textLength="36.16" lengthAdjust="spacingAndGlyphs">Trial</text>
<text x="572.84" y="342.70" font-size="18.0" font-weight="normal" fill="#1515f5" textLength="88.20" lengthAdjust="spacingAndGlyphs">Congruent</text>
<text x="560.04" y="471.80" font-size="18.0" font-weight="normal" fill="#f51515" textLength="100.60" lengthAdjust="spacingAndGlyphs">Incongruent</text>
<text x="-0.04" y="583.70" font-size="25.5" font-weight="bold" fill="#000" textLength="14.82" lengthAdjust="spacingAndGlyphs" stroke="#000" stroke-width="0.7">c</text>
<text x="290.97" y="584.40" font-size="18.5" font-weight="normal" fill="#1a1a1a" textLength="169.41" lengthAdjust="spacingAndGlyphs">Experimental results</text>
<text x="77.35" y="597.20" font-size="18.5" font-weight="normal" fill="#1a1a1a" textLength="46.76" lengthAdjust="spacingAndGlyphs">Exp. 1</text>
<line x1="70.2" y1="694.8" x2="346.5" y2="694.8" stroke="#111" stroke-width="1.7" stroke-dasharray="6.2,4.6"/>
<path d="M80.71,639.20 L85.92,644.40 L91.13,629.30 L96.34,633.20 L101.55,630.00 L106.76,625.80 L111.97,626.00 L117.18,626.00 L122.39,624.70 L127.60,627.30 L132.81,623.40 L138.02,621.80 L143.23,621.80 L148.44,621.80 L153.65,621.80 L158.86,621.80 L164.07,620.10 L169.28,626.00 L174.49,621.80 L179.70,625.00 L184.91,622.70 L190.12,621.80 L195.33,621.80 L200.54,622.30 L205.75,622.30 L210.96,621.80 L216.17,623.40 L221.38,624.40 L226.59,624.70 L231.80,627.60 L237.01,618.80 L242.22,623.10 L247.43,620.50 L252.64,623.00 L257.85,621.60 L263.06,621.60 L268.27,622.30 L273.48,618.20 L278.69,623.00 L283.90,622.80 L289.11,621.90 L294.32,621.00 L299.53,619.60 L304.74,618.90 L309.95,618.60 L315.16,620.30 L320.37,621.40 L325.58,620.30 L330.79,619.10 L336.00,624.40" fill="none" stroke="rgba(0,0,255,0.30)" stroke-width="1.5" stroke-linejoin="round" stroke-linecap="round"/>
<path d="M80.71,670.70 L85.92,664.10 L91.13,645.70 L96.34,653.00 L101.55,648.40 L106.76,641.80 L111.97,643.10 L117.18,643.10 L122.39,639.80 L127.60,644.40 L132.81,638.50 L138.02,635.90 L143.23,635.90 L148.44,635.90 L153.65,635.90 L158.86,635.60 L164.07,633.20 L169.28,643.10 L174.49,635.50 L179.70,640.70 L184.91,636.80 L190.12,635.50 L195.33,635.50 L200.54,636.50 L205.75,636.50 L210.96,635.50 L216.17,638.50 L221.38,640.20 L226.59,640.70 L231.80,645.10 L237.01,629.70 L242.22,638.10 L247.43,632.30 L252.64,638.00 L257.85,634.80 L263.06,634.80 L268.27,636.90 L273.48,627.20 L278.69,638.60 L283.90,638.30 L289.11,636.90 L294.32,634.80 L299.53,632.00 L304.74,630.40 L309.95,629.00 L315.16,632.70 L320.37,634.80 L325.58,632.70 L330.79,630.40 L336.00,640.00" fill="none" stroke="rgba(0,0,255,0.30)" stroke-width="1.5" stroke-linejoin="round" stroke-linecap="round"/>
<path d="M80.71,638.50 L85.92,672.80 L91.13,701.80 L96.34,711.00 L101.55,715.50 L106.76,725.40 L111.97,733.90 L117.18,722.80 L122.39,730.70 L127.60,729.30 L132.81,728.70 L138.02,738.50 L143.23,734.60 L148.44,746.40 L153.65,743.80 L158.86,734.60 L164.07,738.40 L169.28,742.60 L174.49,743.00 L179.70,742.30 L184.91,744.70 L190.12,745.20 L195.33,745.00 L200.54,741.30 L205.75,750.00 L210.96,747.60 L216.17,746.50 L221.38,748.20 L226.59,751.30 L231.80,750.00 L237.01,746.30 L242.22,744.70 L247.43,745.20 L252.64,746.10 L257.85,754.00 L263.06,747.50 L268.27,749.80 L273.48,752.60 L278.69,754.00 L283.90,751.60 L289.11,747.50 L294.32,753.30 L299.53,752.20 L304.74,753.30 L309.95,748.40 L315.16,749.40 L320.37,747.70 L325.58,754.40 L330.79,749.80 L336.00,760.20" fill="none" stroke="rgba(255,0,0,0.30)" stroke-width="1.5" stroke-linejoin="round" stroke-linecap="round"/>
<path d="M80.71,668.20 L85.92,687.30 L91.13,714.90 L96.34,732.00 L101.55,736.60 L106.76,745.10 L111.97,753.00 L117.18,743.10 L122.39,749.70 L127.60,748.80 L132.81,748.40 L138.02,756.30 L143.23,754.30 L148.44,762.20 L153.65,759.60 L158.86,753.70 L164.07,756.80 L169.28,759.40 L174.49,759.40 L179.70,758.80 L184.91,760.70 L190.12,761.00 L195.33,760.70 L200.54,758.40 L205.75,764.00 L210.96,762.30 L216.17,761.80 L221.38,762.70 L226.59,764.70 L231.80,764.00 L237.01,761.80 L242.22,760.70 L247.43,761.40 L252.64,761.30 L257.85,766.90 L263.06,762.30 L268.27,764.70 L273.48,766.50 L278.69,767.20 L283.90,765.10 L289.11,762.30 L294.32,766.00 L299.53,765.50 L304.74,766.00 L309.95,763.00 L315.16,763.70 L320.37,762.70 L325.58,766.90 L330.79,763.70 L336.00,769.90" fill="none" stroke="rgba(255,0,0,0.30)" stroke-width="1.5" stroke-linejoin="round" stroke-linecap="round"/>
<path d="M80.71,654.30 L85.92,654.90 L91.13,636.80 L96.34,641.50 L101.55,638.50 L106.76,631.90 L111.97,632.60 L117.18,632.60 L122.39,630.00 L127.60,634.20 L132.81,629.70 L138.02,627.10 L143.23,626.70 L148.44,626.70 L153.65,626.70 L158.86,626.70 L164.07,624.70 L169.28,632.30 L174.49,626.70 L179.70,631.30 L184.91,628.00 L190.12,626.70 L195.33,626.70 L200.54,627.60 L205.75,627.60 L210.96,626.70 L216.17,628.70 L221.38,630.00 L226.59,630.20 L231.80,634.60 L237.01,621.80 L242.22,628.40 L247.43,624.90 L252.64,628.90 L257.85,626.10 L263.06,626.10 L268.27,627.90 L273.48,620.30 L278.69,628.90 L283.90,628.90 L289.11,627.90 L294.32,626.50 L299.53,624.40 L304.74,623.00 L309.95,621.60 L315.16,624.10 L320.37,626.50 L325.58,625.10 L330.79,623.00 L336.00,630.00" fill="none" stroke="#0000ff" stroke-width="3.6" stroke-linejoin="round" stroke-linecap="round"/>
<path d="M80.71,651.20 L85.92,675.50 L91.13,709.60 L96.34,722.10 L101.55,726.70 L106.76,737.90 L111.97,745.10 L117.18,733.90 L122.39,741.40 L127.60,740.10 L132.81,739.50 L138.02,749.10 L143.23,745.80 L148.44,755.90 L153.65,753.30 L158.86,745.10 L164.07,748.20 L169.28,751.80 L174.49,751.80 L179.70,751.80 L184.91,753.90 L190.12,754.40 L195.33,754.20 L200.54,750.90 L205.75,758.40 L210.96,756.10 L216.17,755.20 L221.38,756.80 L226.59,759.40 L231.80,758.40 L237.01,755.50 L242.22,754.40 L247.43,754.80 L252.64,755.40 L257.85,762.30 L263.06,756.30 L268.27,758.80 L273.48,761.30 L278.69,762.30 L283.90,760.20 L289.11,756.30 L294.32,760.90 L299.53,760.20 L304.74,760.90 L309.95,757.20 L315.16,758.10 L320.37,756.30 L325.58,762.30 L330.79,758.10 L336.00,766.50" fill="none" stroke="#ff0000" stroke-width="3.6" stroke-linejoin="round" stroke-linecap="round"/>
<line x1="70.7" y1="617.2" x2="70.7" y2="772.3" stroke="#333" stroke-width="1.3"/>
<line x1="62.300000000000004" y1="772.30" x2="70.7" y2="772.30" stroke="#333" stroke-width="1.3"/>
<text x="43.76" y="777.40" font-size="15" font-weight="normal" fill="#1a1a1a" textLength="10.47" lengthAdjust="spacingAndGlyphs">0</text>
<line x1="62.300000000000004" y1="694.75" x2="70.7" y2="694.75" stroke="#333" stroke-width="1.3"/>
<text x="31.26" y="699.85" font-size="15" font-weight="normal" fill="#1a1a1a" textLength="22.94" lengthAdjust="spacingAndGlyphs">0.5</text>
<line x1="62.300000000000004" y1="617.20" x2="70.7" y2="617.20" stroke="#333" stroke-width="1.3"/>
<text x="31.21" y="622.30" font-size="15" font-weight="normal" fill="#1a1a1a" textLength="22.94" lengthAdjust="spacingAndGlyphs">1.0</text>
<line x1="75.5" y1="778.8" x2="336.0" y2="778.8" stroke="#333" stroke-width="1.3"/>
<line x1="75.50" y1="778.8" x2="75.50" y2="787.0" stroke="#333" stroke-width="1.3"/>
<text x="70.26" y="806.70" font-size="15" font-weight="normal" fill="#1a1a1a" textLength="10.47" lengthAdjust="spacingAndGlyphs">0</text>
<line x1="127.60" y1="778.8" x2="127.60" y2="787.0" stroke="#333" stroke-width="1.3"/>
<text x="118.67" y="806.70" font-size="15" font-weight="normal" fill="#1a1a1a" textLength="17.29" lengthAdjust="spacingAndGlyphs">10</text>
<line x1="179.70" y1="778.8" x2="179.70" y2="787.0" stroke="#333" stroke-width="1.3"/>
<text x="170.43" y="806.70" font-size="15" font-weight="normal" fill="#1a1a1a" textLength="18.35" lengthAdjust="spacingAndGlyphs">20</text>
<line x1="231.80" y1="778.8" x2="231.80" y2="787.0" stroke="#333" stroke-width="1.3"/>
<text x="222.63" y="806.70" font-size="15" font-weight="normal" fill="#1a1a1a" textLength="18.35" lengthAdjust="spacingAndGlyphs">30</text>
<line x1="283.90" y1="778.8" x2="283.90" y2="787.0" stroke="#333" stroke-width="1.3"/>
<text x="274.86" y="806.70" font-size="15" font-weight="normal" fill="#1a1a1a" textLength="18.35" lengthAdjust="spacingAndGlyphs">40</text>
<line x1="336.00" y1="778.8" x2="336.00" y2="787.0" stroke="#333" stroke-width="1.3"/>
<text x="326.82" y="806.70" font-size="15" font-weight="normal" fill="#1a1a1a" textLength="18.35" lengthAdjust="spacingAndGlyphs">50</text>
<g transform="translate(14.80,768.80) rotate(-90)"><text x="-0.57" y="0.00" font-size="18.3" font-weight="normal" fill="#1a1a1a" textLength="148.72" lengthAdjust="spacingAndGlyphs"><tspan font-style="italic">P</tspan>(majority choice)</text></g>
<text x="187.99" y="835.80" font-size="18.5" font-weight="normal" fill="#1a1a1a" textLength="35.53" lengthAdjust="spacingAndGlyphs">Trial</text>
<rect x="405.8" y="605.0" width="28.399999999999977" height="183.10000000000002" rx="5" fill="#d3d3d3"/>
<path d="M418.30,623.30 L446.64,635.50 L474.98,647.80 L503.32,651.30 L531.66,646.80 L560.00,653.40 L588.34,656.60 L616.68,648.70 L645.02,662.90 L673.36,646.40" fill="none" stroke="rgba(0,0,255,0.30)" stroke-width="1.5" stroke-linejoin="round" stroke-linecap="round"/>
<path d="M418.30,638.20 L446.64,655.00 L474.98,671.70 L503.32,675.80 L531.66,670.30 L560.00,677.70 L588.34,682.00 L616.68,672.70 L645.02,688.70 L673.36,669.90" fill="none" stroke="rgba(0,0,255,0.30)" stroke-width="1.5" stroke-linejoin="round" stroke-linecap="round"/>
<path d="M418.30,714.20 L446.64,705.50 L474.98,696.90 L503.32,694.40 L531.66,704.00 L560.00,693.00 L588.34,693.20 L616.68,693.00 L645.02,689.40 L673.36,687.90" fill="none" stroke="rgba(255,0,0,0.30)" stroke-width="1.5" stroke-linejoin="round" stroke-linecap="round"/>
<path d="M418.30,737.10 L446.64,729.00 L474.98,721.00 L503.32,718.30 L531.66,727.50 L560.00,717.50 L588.34,717.50 L616.68,717.50 L645.02,713.30 L673.36,712.00" fill="none" stroke="rgba(255,0,0,0.30)" stroke-width="1.5" stroke-linejoin="round" stroke-linecap="round"/>
<path d="M418.30,629.40 L446.64,644.10 L474.98,659.00 L503.32,662.30 L531.66,657.40 L560.00,665.00 L588.34,668.60 L616.68,659.70 L645.02,675.60 L673.36,657.60" fill="none" stroke="#0000ff" stroke-width="3.6" stroke-linejoin="round" stroke-linecap="round"/>
<path d="M418.30,726.50 L446.64,718.00 L474.98,709.50 L503.32,706.70 L531.66,716.30 L560.00,705.30 L588.34,705.70 L616.68,705.70 L645.02,701.40 L673.36,700.00" fill="none" stroke="#ff0000" stroke-width="3.6" stroke-linejoin="round" stroke-linecap="round"/>
<line x1="407.8" y1="694.8" x2="690" y2="694.8" stroke="#111" stroke-width="1.7" stroke-dasharray="6.2,4.6"/>
<line x1="407.3" y1="778.3" x2="673.36" y2="778.3" stroke="#333" stroke-width="1.3"/>
<line x1="446.64" y1="778.3" x2="446.64" y2="786.5" stroke="#333" stroke-width="1.3"/>
<text x="437.55" y="806.20" font-size="15" font-weight="normal" fill="#1a1a1a" textLength="18.35" lengthAdjust="spacingAndGlyphs">52</text>
<line x1="503.32" y1="778.3" x2="503.32" y2="786.5" stroke="#333" stroke-width="1.3"/>
<text x="494.05" y="806.20" font-size="15" font-weight="normal" fill="#1a1a1a" textLength="18.35" lengthAdjust="spacingAndGlyphs">54</text>
<line x1="560.00" y1="778.3" x2="560.00" y2="786.5" stroke="#333" stroke-width="1.3"/>
<text x="550.86" y="806.20" font-size="15" font-weight="normal" fill="#1a1a1a" textLength="18.35" lengthAdjust="spacingAndGlyphs">56</text>
<line x1="616.68" y1="778.3" x2="616.68" y2="786.5" stroke="#333" stroke-width="1.3"/>
<text x="607.53" y="806.20" font-size="15" font-weight="normal" fill="#1a1a1a" textLength="18.35" lengthAdjust="spacingAndGlyphs">58</text>
<line x1="673.36" y1="778.3" x2="673.36" y2="786.5" stroke="#333" stroke-width="1.3"/>
<text x="664.09" y="806.20" font-size="15" font-weight="normal" fill="#1a1a1a" textLength="18.35" lengthAdjust="spacingAndGlyphs">60</text>
<text x="523.28" y="836.00" font-size="18.5" font-weight="normal" fill="#1a1a1a" textLength="35.95" lengthAdjust="spacingAndGlyphs">Trial</text>
<path d="M404,626.4 L396.4,626.4 L396.4,726.6 L404,726.6 M396.4,677.0 L388.3,677.0" fill="none" stroke="#333" stroke-width="1.3"/>
<text x="357.59" y="687.10" font-size="22.2" font-weight="normal" fill="#1a1a1a" textLength="8.60" lengthAdjust="spacingAndGlyphs" stroke="#1a1a1a" stroke-width="0.35">*</text>
<text x="367.19" y="687.10" font-size="22.2" font-weight="normal" fill="#1a1a1a" textLength="8.60" lengthAdjust="spacingAndGlyphs" stroke="#1a1a1a" stroke-width="0.35">*</text>
<text x="376.79" y="687.10" font-size="22.2" font-weight="normal" fill="#1a1a1a" textLength="8.60" lengthAdjust="spacingAndGlyphs" stroke="#1a1a1a" stroke-width="0.35">*</text>
<text x="-0.13" y="873.30" font-size="25.5" font-weight="bold" fill="#000" textLength="16.85" lengthAdjust="spacingAndGlyphs" stroke="#000" stroke-width="0.7">d</text>
<text x="77.24" y="879.60" font-size="18.5" font-weight="normal" fill="#1a1a1a" textLength="50.35" lengthAdjust="spacingAndGlyphs">Exp. 2</text>
<line x1="73.2" y1="978.9" x2="349.5" y2="978.9" stroke="#111" stroke-width="1.7" stroke-dasharray="6.2,4.6"/>
<path d="M83.40,912.30 L88.60,909.10 L93.80,907.70 L99.00,903.10 L104.20,906.80 L109.40,903.80 L114.60,903.80 L119.80,904.50 L125.00,905.10 L130.20,903.10 L135.40,906.80 L140.60,903.80 L145.80,905.10 L151.00,906.00 L156.20,903.80 L161.40,904.20 L166.60,903.50 L171.80,904.20 L177.00,902.50 L182.20,901.60 L187.40,903.10 L192.60,903.80 L197.80,902.20 L203.00,902.90 L208.20,902.20 L213.40,902.20 L218.60,904.20 L223.80,904.70 L229.00,901.60 L234.20,902.50 L239.40,901.60 L244.60,903.10 L249.80,903.10 L255.00,903.60 L260.20,903.20 L265.40,903.90 L270.60,902.20 L275.80,902.20 L281.00,905.90 L286.20,903.90 L291.40,901.80 L296.60,902.80 L301.80,903.20 L307.00,901.80 L312.20,900.40 L317.40,902.80 L322.60,901.40 L327.80,902.20 L333.00,902.80 L338.20,901.80" fill="none" stroke="rgba(0,0,255,0.30)" stroke-width="1.5" stroke-linejoin="round" stroke-linecap="round"/>
<path d="M83.40,932.00 L88.60,924.80 L93.80,922.80 L99.00,913.60 L104.20,921.50 L109.40,915.60 L114.60,915.00 L119.80,916.30 L125.00,918.60 L130.20,913.60 L135.40,921.80 L140.60,915.60 L145.80,918.60 L151.00,920.50 L156.20,915.60 L161.40,916.90 L166.60,915.60 L171.80,916.90 L177.00,911.70 L182.20,910.00 L187.40,913.40 L192.60,915.00 L197.80,911.30 L203.00,913.00 L208.20,911.70 L213.40,911.70 L218.60,916.90 L223.80,918.60 L229.00,907.70 L234.20,911.30 L239.40,907.70 L244.60,915.00 L249.80,913.60 L255.00,915.20 L260.20,913.90 L265.40,915.20 L270.60,911.90 L275.80,911.90 L281.00,919.80 L286.20,915.00 L291.40,910.10 L296.60,913.30 L301.80,913.60 L307.00,911.50 L312.20,906.00 L317.40,913.60 L322.60,907.80 L327.80,911.50 L333.00,913.60 L338.20,909.70" fill="none" stroke="rgba(0,0,255,0.30)" stroke-width="1.5" stroke-linejoin="round" stroke-linecap="round"/>
<path d="M83.40,916.30 L88.60,927.00 L93.80,968.50 L99.00,992.60 L104.20,1004.60 L109.40,1012.60 L114.60,1010.60 L119.80,1020.00 L125.00,1018.00 L130.20,1001.90 L135.40,1018.60 L140.60,1014.60 L145.80,1017.30 L151.00,1018.00 L156.20,1022.00 L161.40,1022.50 L166.60,1024.30 L171.80,1030.90 L177.00,1020.80 L182.20,1026.30 L187.40,1027.60 L192.60,1023.00 L197.80,1030.90 L203.00,1029.20 L208.20,1033.90 L213.40,1027.60 L218.60,1028.90 L223.80,1030.50 L229.00,1032.20 L234.20,1028.90 L239.40,1027.90 L244.60,1036.10 L249.80,1019.10 L255.00,1024.70 L260.20,1025.00 L265.40,1035.40 L270.60,1040.20 L275.80,1038.10 L281.00,1036.30 L286.20,1033.30 L291.40,1032.20 L296.60,1031.90 L301.80,1030.80 L307.00,1033.00 L312.20,1037.20 L317.40,1038.60 L322.60,1035.40 L327.80,1036.80 L333.00,1038.10 L338.20,1035.40" fill="none" stroke="rgba(255,0,0,0.30)" stroke-width="1.5" stroke-linejoin="round" stroke-linecap="round"/>
<path d="M83.40,937.00 L88.60,963.00 L93.80,997.90 L99.00,1016.60 L104.20,1026.00 L109.40,1034.70 L114.60,1033.30 L119.80,1040.00 L125.00,1044.00 L130.20,1026.00 L135.40,1040.00 L140.60,1037.40 L145.80,1038.70 L151.00,1041.40 L156.20,1043.40 L161.40,1046.00 L166.60,1043.40 L171.80,1047.60 L177.00,1041.00 L182.20,1044.90 L187.40,1045.70 L192.60,1042.30 L197.80,1047.60 L203.00,1046.60 L208.20,1049.70 L213.40,1045.70 L218.60,1047.00 L223.80,1048.00 L229.00,1048.90 L234.20,1047.00 L239.40,1046.00 L244.60,1051.90 L249.80,1040.10 L255.00,1041.30 L260.20,1045.80 L265.40,1050.60 L270.60,1053.00 L275.80,1052.00 L281.00,1051.00 L286.20,1049.20 L291.40,1048.50 L296.60,1048.30 L301.80,1048.30 L307.00,1048.80 L312.20,1051.60 L317.40,1052.40 L322.60,1050.60 L327.80,1051.60 L333.00,1052.40 L338.20,1051.00" fill="none" stroke="rgba(255,0,0,0.30)" stroke-width="1.5" stroke-linejoin="round" stroke-linecap="round"/>
<path d="M83.40,920.00 L88.60,915.20 L93.80,913.70 L99.00,906.40 L104.20,912.10 L109.40,907.70 L114.60,907.30 L119.80,908.40 L125.00,909.70 L130.20,906.40 L135.40,912.10 L140.60,907.70 L145.80,909.70 L151.00,911.00 L156.20,907.70 L161.40,908.70 L166.60,907.70 L171.80,908.40 L177.00,904.70 L182.20,903.10 L187.40,905.80 L192.60,907.30 L197.80,904.80 L203.00,906.00 L208.20,904.80 L213.40,904.80 L218.60,908.40 L223.80,909.70 L229.00,902.50 L234.20,904.50 L239.40,902.10 L244.60,907.10 L249.80,906.40 L255.00,907.30 L260.20,906.40 L265.40,907.80 L270.60,905.00 L275.80,904.60 L281.00,910.80 L286.20,907.30 L291.40,903.50 L296.60,906.00 L301.80,906.40 L307.00,905.00 L312.20,900.80 L317.40,906.40 L322.60,902.20 L327.80,905.00 L333.00,906.40 L338.20,903.20" fill="none" stroke="#0000ff" stroke-width="3.6" stroke-linejoin="round" stroke-linecap="round"/>
<path d="M83.40,935.10 L88.60,959.10 L93.80,990.60 L99.00,1005.90 L104.20,1010.60 L109.40,1022.00 L114.60,1029.30 L119.80,1018.00 L125.00,1025.70 L130.20,1024.00 L135.40,1023.60 L140.60,1033.30 L145.80,1030.00 L151.00,1040.00 L156.20,1037.40 L161.40,1029.30 L166.60,1032.20 L171.80,1036.10 L177.00,1036.10 L182.20,1036.10 L187.40,1038.10 L192.60,1038.40 L197.80,1038.40 L203.00,1034.80 L208.20,1042.70 L213.40,1040.70 L218.60,1039.40 L223.80,1040.70 L229.00,1043.40 L234.20,1042.30 L239.40,1039.40 L244.60,1038.40 L249.80,1038.60 L255.00,1038.80 L260.20,1046.50 L265.40,1040.50 L270.60,1043.00 L275.80,1045.50 L281.00,1046.50 L286.20,1044.10 L291.40,1040.50 L296.60,1045.50 L301.80,1044.70 L307.00,1045.80 L312.20,1041.30 L317.40,1042.30 L322.60,1040.50 L327.80,1046.90 L333.00,1042.30 L338.20,1051.00" fill="none" stroke="#ff0000" stroke-width="3.6" stroke-linejoin="round" stroke-linecap="round"/>
<line x1="73.6" y1="901.2" x2="73.6" y2="1056.2" stroke="#333" stroke-width="1.3"/>
<line x1="65.19999999999999" y1="1056.20" x2="73.6" y2="1056.20" stroke="#333" stroke-width="1.3"/>
<text x="46.06" y="1061.30" font-size="15" font-weight="normal" fill="#1a1a1a" textLength="10.47" lengthAdjust="spacingAndGlyphs">0</text>
<line x1="65.19999999999999" y1="978.70" x2="73.6" y2="978.70" stroke="#333" stroke-width="1.3"/>
<text x="33.56" y="983.80" font-size="15" font-weight="normal" fill="#1a1a1a" textLength="22.94" lengthAdjust="spacingAndGlyphs">0.5</text>
<line x1="65.19999999999999" y1="901.20" x2="73.6" y2="901.20" stroke="#333" stroke-width="1.3"/>
<text x="33.51" y="906.30" font-size="15" font-weight="normal" fill="#1a1a1a" textLength="22.94" lengthAdjust="spacingAndGlyphs">1.0</text>
<line x1="78.2" y1="1062.8" x2="338.2" y2="1062.8" stroke="#333" stroke-width="1.3"/>
<line x1="78.20" y1="1062.8" x2="78.20" y2="1071.0" stroke="#333" stroke-width="1.3"/>
<text x="72.96" y="1090.50" font-size="15" font-weight="normal" fill="#1a1a1a" textLength="10.47" lengthAdjust="spacingAndGlyphs">0</text>
<line x1="130.20" y1="1062.8" x2="130.20" y2="1071.0" stroke="#333" stroke-width="1.3"/>
<text x="121.27" y="1090.50" font-size="15" font-weight="normal" fill="#1a1a1a" textLength="17.29" lengthAdjust="spacingAndGlyphs">10</text>
<line x1="182.20" y1="1062.8" x2="182.20" y2="1071.0" stroke="#333" stroke-width="1.3"/>
<text x="172.93" y="1090.50" font-size="15" font-weight="normal" fill="#1a1a1a" textLength="18.35" lengthAdjust="spacingAndGlyphs">20</text>
<line x1="234.20" y1="1062.8" x2="234.20" y2="1071.0" stroke="#333" stroke-width="1.3"/>
<text x="225.03" y="1090.50" font-size="15" font-weight="normal" fill="#1a1a1a" textLength="18.35" lengthAdjust="spacingAndGlyphs">30</text>
<line x1="286.20" y1="1062.8" x2="286.20" y2="1071.0" stroke="#333" stroke-width="1.3"/>
<text x="277.16" y="1090.50" font-size="15" font-weight="normal" fill="#1a1a1a" textLength="18.35" lengthAdjust="spacingAndGlyphs">40</text>
<line x1="338.20" y1="1062.8" x2="338.20" y2="1071.0" stroke="#333" stroke-width="1.3"/>
<text x="329.02" y="1090.50" font-size="15" font-weight="normal" fill="#1a1a1a" textLength="18.35" lengthAdjust="spacingAndGlyphs">50</text>
<g transform="translate(14.80,1064.80) rotate(-90)"><text x="-0.57" y="0.00" font-size="18.3" font-weight="normal" fill="#1a1a1a" textLength="174.12" lengthAdjust="spacingAndGlyphs"><tspan font-style="italic">P</tspan>(high payoff choice)</text></g>
<text x="190.88" y="1119.70" font-size="18.5" font-weight="normal" fill="#1a1a1a" textLength="36.06" lengthAdjust="spacingAndGlyphs">Trial</text>
<rect x="406.2" y="885.7" width="28.5" height="183.70000000000005" rx="5" fill="#d3d3d3"/>
<path d="M418.70,903.40 L432.11,909.70 L445.52,913.30 L458.93,911.30 L472.34,923.90 L485.75,918.60 L499.16,928.40 L512.57,933.40 L525.98,929.00 L539.39,931.80 L552.80,934.60 L566.21,931.50 L579.62,938.60 L593.03,949.90 L606.44,937.00 L619.85,936.60 L633.26,938.40 L646.67,932.50 L660.08,937.00 L673.49,942.70" fill="none" stroke="rgba(0,0,255,0.30)" stroke-width="1.5" stroke-linejoin="round" stroke-linecap="round"/>
<path d="M418.70,914.60 L432.11,925.90 L445.52,931.80 L458.93,929.00 L472.34,946.20 L485.75,938.90 L499.16,952.10 L512.57,958.00 L525.98,952.70 L539.39,957.00 L552.80,959.50 L566.21,955.80 L579.62,962.60 L593.03,974.20 L606.44,961.90 L619.85,961.50 L633.26,963.20 L646.67,956.60 L660.08,961.90 L673.49,968.30" fill="none" stroke="rgba(0,0,255,0.30)" stroke-width="1.5" stroke-linejoin="round" stroke-linecap="round"/>
<path d="M418.70,990.10 L432.11,979.70 L445.52,983.00 L458.93,981.00 L472.34,986.00 L485.75,974.40 L499.16,981.60 L512.57,972.40 L525.98,972.40 L539.39,963.90 L552.80,976.20 L566.21,971.30 L579.62,970.30 L593.03,961.10 L606.44,968.10 L619.85,965.60 L633.26,974.40 L646.67,957.40 L660.08,961.90 L673.49,968.30" fill="none" stroke="rgba(255,0,0,0.30)" stroke-width="1.5" stroke-linejoin="round" stroke-linecap="round"/>
<path d="M418.70,1016.10 L432.11,1005.30 L445.52,1009.20 L458.93,1007.70 L472.34,1012.20 L485.75,1001.40 L499.16,1008.20 L512.57,999.40 L525.98,999.40 L539.39,990.90 L552.80,1003.80 L566.21,998.30 L579.62,997.30 L593.03,987.70 L606.44,995.30 L619.85,992.80 L633.26,1002.00 L646.67,984.60 L660.08,989.50 L673.49,995.70" fill="none" stroke="rgba(255,0,0,0.30)" stroke-width="1.5" stroke-linejoin="round" stroke-linecap="round"/>
<path d="M418.70,907.10 L432.11,915.60 L445.52,920.50 L458.93,918.60 L472.34,933.00 L485.75,927.10 L499.16,938.90 L512.57,944.80 L525.98,939.70 L539.39,943.60 L552.80,946.20 L566.21,942.50 L579.62,949.30 L593.03,961.90 L606.44,948.70 L619.85,948.70 L633.26,949.90 L646.67,943.50 L660.08,949.30 L673.49,955.00" fill="none" stroke="#0000ff" stroke-width="3.6" stroke-linejoin="round" stroke-linecap="round"/>
<path d="M418.70,1003.90 L432.11,992.10 L445.52,996.40 L458.93,994.50 L472.34,999.40 L485.75,988.10 L499.16,996.00 L512.57,986.60 L525.98,986.60 L539.39,977.10 L552.80,990.60 L566.21,985.00 L579.62,984.00 L593.03,973.80 L606.44,982.00 L619.85,979.30 L633.26,989.10 L646.67,971.10 L660.08,975.40 L673.49,982.00" fill="none" stroke="#ff0000" stroke-width="3.6" stroke-linejoin="round" stroke-linecap="round"/>
<line x1="408.0" y1="979.1" x2="690" y2="979.1" stroke="#111" stroke-width="1.7" stroke-dasharray="6.2,4.6"/>
<line x1="407.6" y1="1063.1" x2="673.49" y2="1063.1" stroke="#333" stroke-width="1.3"/>
<line x1="458.93" y1="1063.1" x2="458.93" y2="1071.3" stroke="#333" stroke-width="1.3"/>
<text x="449.66" y="1090.80" font-size="15" font-weight="normal" fill="#1a1a1a" textLength="18.35" lengthAdjust="spacingAndGlyphs">54</text>
<line x1="512.57" y1="1063.1" x2="512.57" y2="1071.3" stroke="#333" stroke-width="1.3"/>
<text x="503.42" y="1090.80" font-size="15" font-weight="normal" fill="#1a1a1a" textLength="18.35" lengthAdjust="spacingAndGlyphs">58</text>
<line x1="566.21" y1="1063.1" x2="566.21" y2="1071.3" stroke="#333" stroke-width="1.3"/>
<text x="557.03" y="1090.80" font-size="15" font-weight="normal" fill="#1a1a1a" textLength="18.35" lengthAdjust="spacingAndGlyphs">62</text>
<line x1="619.85" y1="1063.1" x2="619.85" y2="1071.3" stroke="#333" stroke-width="1.3"/>
<text x="610.62" y="1090.80" font-size="15" font-weight="normal" fill="#1a1a1a" textLength="18.35" lengthAdjust="spacingAndGlyphs">66</text>
<line x1="673.49" y1="1063.1" x2="673.49" y2="1071.3" stroke="#333" stroke-width="1.3"/>
<text x="664.21" y="1090.80" font-size="15" font-weight="normal" fill="#1a1a1a" textLength="18.35" lengthAdjust="spacingAndGlyphs">70</text>
<text x="523.48" y="1119.80" font-size="18.5" font-weight="normal" fill="#1a1a1a" textLength="35.95" lengthAdjust="spacingAndGlyphs">Trial</text>
<path d="M404,900.5 L396.4,900.5 L396.4,1002.1 L404,1002.1 M396.4,951.3 L388.3,951.3" fill="none" stroke="#333" stroke-width="1.3"/>
<text x="357.59" y="961.40" font-size="22.2" font-weight="normal" fill="#1a1a1a" textLength="8.60" lengthAdjust="spacingAndGlyphs" stroke="#1a1a1a" stroke-width="0.35">*</text>
<text x="367.19" y="961.40" font-size="22.2" font-weight="normal" fill="#1a1a1a" textLength="8.60" lengthAdjust="spacingAndGlyphs" stroke="#1a1a1a" stroke-width="0.35">*</text>
<text x="376.79" y="961.40" font-size="22.2" font-weight="normal" fill="#1a1a1a" textLength="8.60" lengthAdjust="spacingAndGlyphs" stroke="#1a1a1a" stroke-width="0.35">*</text>
</svg></body></html>
